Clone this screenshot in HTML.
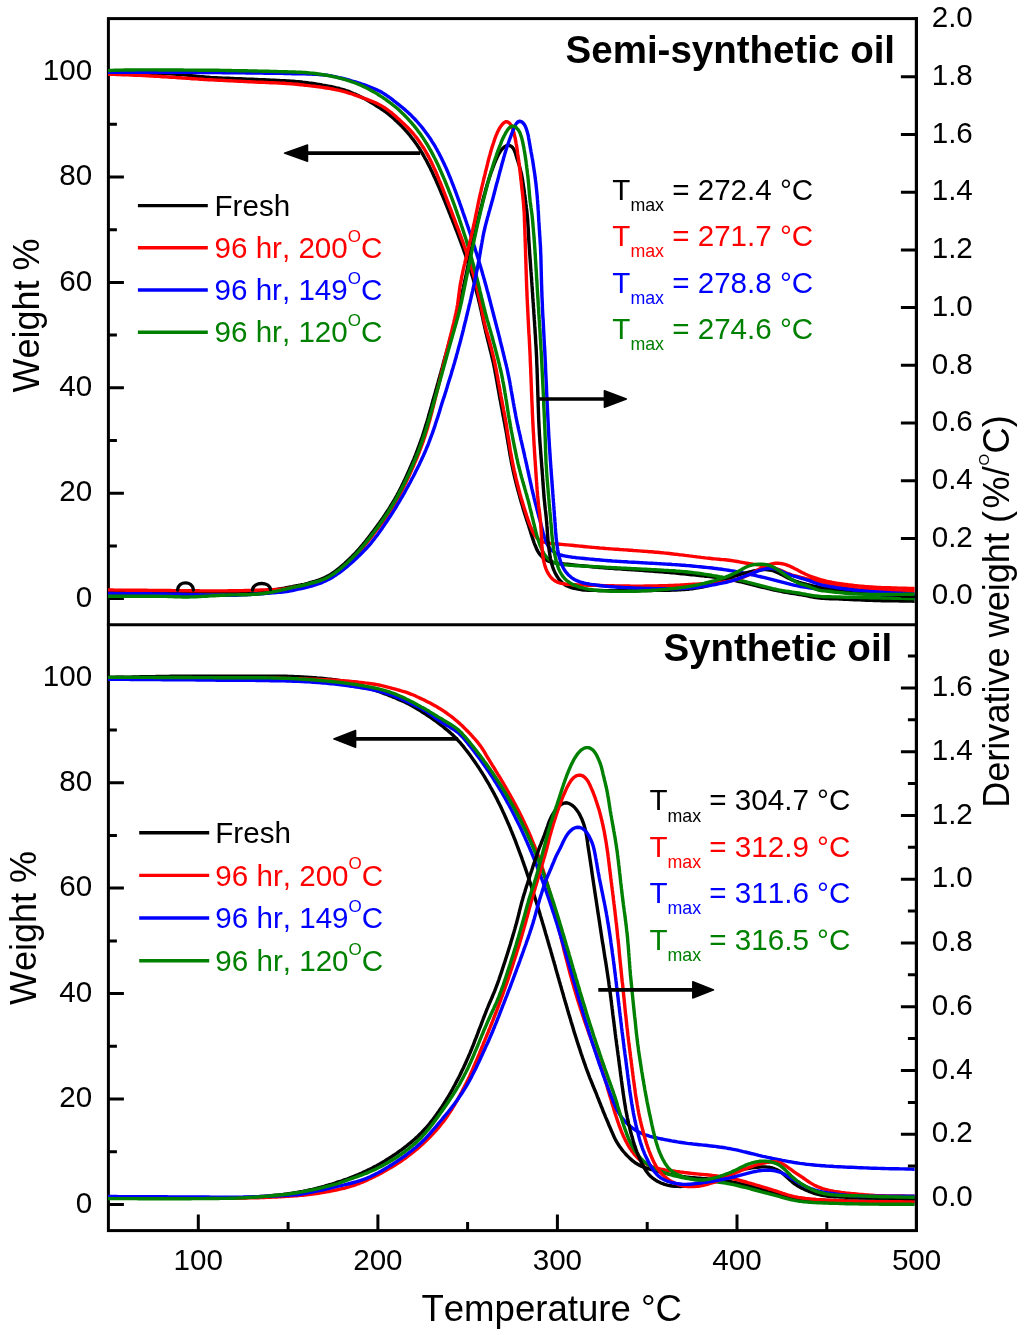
<!DOCTYPE html><html><head><meta charset="utf-8"><style>html,body{margin:0;padding:0;background:#fff;}svg{display:block;will-change:transform;}text{font-family:"Liberation Sans",sans-serif;font-kerning:none;font-feature-settings:"kern" 0;}</style></head><body>
<svg width="1024" height="1335" viewBox="0 0 1024 1335">
<rect width="1024" height="1335" fill="#fff"/>
<defs><clipPath id="ct"><rect x="108.0" y="18.6" width="806.6" height="606.1999999999999"/></clipPath><clipPath id="cb"><rect x="108.0" y="624.8" width="806.6" height="605.8"/></clipPath></defs>
<g fill="none" stroke="#000" stroke-width="3" stroke-linecap="square">
<rect x="108.4" y="18.6" width="808.0" height="1212.0"/>
<line x1="108.4" y1="624.8" x2="916.4" y2="624.8"/>
</g>
<path fill="none" stroke="#000" stroke-width="3" stroke-linecap="butt" d="M108.4,598.6H123.9M108.4,545.9H116.9M108.4,493.2H123.9M108.4,440.5H116.9M108.4,387.8H123.9M108.4,335.1H116.9M108.4,282.4H123.9M108.4,229.7H116.9M108.4,177H123.9M108.4,124.3H116.9M108.4,71.6H123.9M108.4,1204.4H123.9M108.4,1151.7H116.9M108.4,1099H123.9M108.4,1046.3H116.9M108.4,993.6H123.9M108.4,940.9H116.9M108.4,888.1H123.9M108.4,835.4H116.9M108.4,782.7H123.9M108.4,730H116.9M108.4,677.3H123.9M198.3,1230.6V1214.6M288.1,1230.6V1222.1M377.9,1230.6V1214.6M467.6,1230.6V1222.1M557.4,1230.6V1214.6M647.2,1230.6V1222.1M737,1230.6V1214.6M826.8,1230.6V1222.1"/>
<g clip-path="url(#ct)" fill="none" stroke-width="3.4" stroke-linejoin="round" stroke-linecap="round">
<path stroke="#000000" d="M108.5,73.5 110.5,73.5 112.5,73.5 114.5,73.5 116.5,73.5 118.5,73.5 120.5,73.5 122.5,73.5 124.5,73.5 126.5,73.5 128.5,73.5 130.5,73.5 132.5,73.5 134.5,73.5 136.5,73.5 138.5,73.5 140.5,73.5 142.5,73.5 144.5,73.5 146.5,73.5 148.5,73.5 150.5,73.5 152.5,73.5 154.5,73.6 156.5,73.6 158.5,73.6 160.5,73.6 162.5,73.7 164.5,73.7 166.5,73.8 168.5,73.8 170.5,73.9 172.5,74 174.5,74.1 176.5,74.2 178.5,74.3 180.5,74.4 182.5,74.6 184.5,74.8 186.5,75 188.5,75.2 190.5,75.4 192.5,75.7 194.5,75.9 196.4,76.2 198.4,76.4 200.4,76.6 202.4,76.8 204.4,77 206.4,77.2 208.4,77.3 210.4,77.5 212.4,77.6 214.4,77.7 216.4,77.8 218.4,77.9 220.4,78 222.9,78.1 224.9,78.2 226.9,78.3 228.9,78.3 230.9,78.4 232.9,78.5 234.9,78.6 236.9,78.7 238.9,78.7 240.9,78.8 242.9,78.9 244.9,79 246.9,79.1 248.9,79.2 250.9,79.2 252.9,79.3 254.9,79.4 256.9,79.5 258.9,79.6 260.9,79.7 262.9,79.8 264.9,79.8 266.9,79.9 268.9,80 270.9,80.1 272.9,80.2 274.9,80.3 276.9,80.4 278.9,80.5 280.9,80.6 282.9,80.7 284.9,80.8 286.9,80.9 288.9,81 290.9,81.2 292.9,81.3 294.9,81.5 296.8,81.7 298.8,81.8 300.8,82 302.8,82.3 304.8,82.5 306.8,82.7 308.8,83 310.8,83.2 312.8,83.5 314.7,83.8 316.7,84.1 318.7,84.4 320.7,84.7 322.6,85.1 324.6,85.4 326.6,85.8 328.5,86.2 330.5,86.5 332.5,86.9 334.4,87.3 336.4,87.8 338.3,88.2 340.3,88.8 342.2,89.3 344.1,89.9 346,90.6 347.9,91.2 349.7,91.9 351.6,92.7 353.4,93.5 355.3,94.2 357.1,95.1 358.9,95.9 360.7,96.8 362.5,97.7 364.3,98.6 366,99.5 367.8,100.5 369.5,101.5 371.2,102.6 372.9,103.6 374.6,104.6 376.3,105.7 378,106.8 379.7,107.9 381.4,109 383,110.1 384.7,111.2 386.3,112.4 387.9,113.6 389.5,114.9 391,116.2 392.5,117.5 394,118.8 395.4,120.2 396.9,121.6 398.3,122.9 399.8,124.3 401.2,125.7 402.6,127.2 404,128.6 405.3,130.1 406.7,131.6 408,133.1 409.3,134.6 410.5,136.2 411.7,137.8 413,139.3 414.2,141 415.3,142.6 416.5,144.2 417.6,145.9 418.7,147.5 419.8,149.2 420.8,150.9 421.9,152.6 422.9,154.4 424.1,156.5 425.1,158.3 426.1,160 427,161.8 427.9,163.6 428.9,165.4 429.8,167.1 430.6,168.9 431.5,170.7 432.4,172.5 433.2,174.4 434,176.2 434.9,178 435.7,179.8 436.5,181.7 437.3,183.5 438.1,185.3 438.9,187.2 439.7,189 440.5,190.9 441.2,192.7 442,194.5 442.8,196.4 443.5,198.2 444.3,200.1 445.1,201.9 445.8,203.8 446.6,205.7 447.3,207.5 448.1,209.4 448.8,211.2 449.5,213.1 450.3,214.9 451,216.8 451.8,218.7 452.5,220.5 453.2,222.4 454,224.2 454.7,226.1 455.4,228 456.1,229.8 456.9,231.7 457.6,233.6 458.3,235.5 459,237.3 459.7,239.2 460.4,241.1 461.1,242.9 461.8,244.8 462.5,246.7 463.2,248.6 463.8,250.5 464.5,252.4 465.2,254.2 465.8,256.1 466.5,258 467.1,259.9 467.8,261.8 468.4,263.7 469,265.6 469.7,267.5 470.3,269.4 470.9,271.3 471.4,273.2 472,275.2 472.6,277.1 473.2,279 473.7,280.9 474.3,282.9 474.8,284.8 475.3,286.7 475.8,288.6 476.3,290.6 476.8,292.5 477.3,294.5 477.8,296.4 478.3,298.3 478.7,300.3 479.2,302.2 479.7,304.2 480.1,306.1 480.5,308.1 481,310.1 481.4,312 481.8,314 482.2,315.9 482.7,317.9 483.1,319.8 483.5,321.8 483.9,323.7 484.4,325.7 484.8,327.7 485.3,329.6 485.7,331.5 486.2,333.5 486.7,335.4 487.1,337.4 487.6,339.3 488.1,341.3 488.6,343.2 489.1,345.2 489.5,347.1 490,349 490.5,351 491,352.9 491.5,354.9 491.9,356.8 492.4,358.8 492.8,360.7 493.3,362.7 493.7,364.6 494.1,366.6 494.5,368.5 494.9,370.5 495.3,373 495.7,374.9 496.1,376.9 496.4,378.9 496.8,380.8 497.1,382.8 497.5,384.8 497.8,386.8 498.2,388.7 498.5,390.7 498.9,392.7 499.2,394.6 499.6,396.6 499.9,398.6 500.3,400.5 500.7,402.5 501,404.5 501.4,406.4 501.8,408.4 502.2,410.4 502.5,412.3 502.9,414.3 503.3,416.3 503.7,418.2 504,420.2 504.4,422.2 504.8,424.1 505.1,426.1 505.5,428.1 505.9,430 506.2,432 506.6,434 506.9,436 507.2,437.9 507.6,439.9 507.9,441.9 508.2,443.9 508.6,445.8 508.9,447.8 509.2,449.8 509.6,451.8 509.9,453.7 510.2,455.7 510.6,457.7 511,459.6 511.3,461.6 511.7,463.6 512.1,465.5 512.5,467.5 512.9,469.5 513.3,471.4 513.8,473.4 514.2,475.3 514.7,477.3 515.1,479.2 515.6,481.1 516.1,483.1 516.6,485 517.1,487 517.6,488.9 518.1,490.8 518.7,492.8 519.2,494.7 519.7,496.6 520.2,498.6 520.8,500.5 521.3,502.4 521.9,504.3 522.5,506.2 523,508.2 523.6,510.1 524.2,512 524.8,513.9 525.4,515.8 526,517.7 526.6,519.6 527.2,521.5 527.9,523.4 528.5,525.3 529.1,527.2 529.7,529.2 530.3,531.1 530.9,533 531.5,534.9 532.1,536.8 532.7,538.7 533.4,540.6 534,542.5 534.7,544.3 535.5,546.2 536.2,548 537.1,549.9 538,551.6 539.1,553.3 540.3,554.9 541.6,556.3 543,557.7 544.6,558.9 546.2,560 548,560.9 549.8,561.7 551.7,562.2 553.6,562.7 555.6,563.1 557.6,563.3 559.6,563.6 561.6,563.7 563.6,563.9 565.6,564.1 567.5,564.3 569.5,564.5 571.5,564.7 573.5,564.9 575.5,565.1 578,565.4 580,565.6 582,565.8 584,566 586,566.2 588,566.4 589.9,566.6 591.9,566.8 593.9,567 595.9,567.1 597.9,567.3 599.9,567.5 601.9,567.6 603.9,567.8 605.9,568 607.9,568.1 609.9,568.3 611.9,568.4 613.9,568.5 615.9,568.7 617.9,568.8 619.9,568.9 621.9,569.1 623.9,569.2 625.9,569.3 627.9,569.5 629.9,569.6 631.9,569.7 633.9,569.9 635.8,570 637.8,570.1 639.8,570.3 641.8,570.4 643.8,570.5 645.8,570.7 647.8,570.8 649.8,571 651.8,571.1 653.8,571.3 655.8,571.5 657.8,571.6 659.8,571.8 661.8,571.9 663.8,572.1 665.8,572.3 667.8,572.4 669.8,572.6 671.8,572.8 673.8,572.9 675.8,573.1 677.7,573.3 679.7,573.5 681.7,573.7 683.7,573.9 685.7,574.1 687.7,574.3 689.7,574.5 691.7,574.7 693.7,574.9 695.7,575.1 697.7,575.3 699.7,575.5 701.6,575.7 703.6,575.9 705.6,576.2 707.6,576.4 709.6,576.6 711.6,576.8 713.6,577.1 715.6,577.3 717.5,577.6 719.5,577.9 721.5,578.2 723.5,578.4 725.5,578.8 727.4,579.1 729.4,579.4 731.4,579.8 733.3,580.2 735.3,580.6 737.3,581 739.2,581.5 741.2,581.9 743.1,582.4 745,582.9 747,583.4 748.9,583.9 750.9,584.4 752.8,584.9 754.7,585.4 756.7,585.8 758.6,586.3 760.6,586.8 762.5,587.3 764.5,587.7 766.4,588.2 768.3,588.7 770.3,589.1 772.2,589.6 774.2,590 776.2,590.4 778.1,590.8 780.1,591.2 782,591.6 784,592 786,592.3 788,592.6 789.9,593 791.9,593.3 793.9,593.6 795.9,593.9 797.8,594.3 799.8,594.6 801.8,594.9 804.2,595.3 806.2,595.7 808.2,596.1 810.1,596.5 812.1,596.9 814.1,597.3 816,597.6 818,597.9 820,598.1 822,598.3 824,598.4 826,598.5 828,598.6 830,598.7 832,598.7 834,598.8 836,598.9 838,598.9 840,599 842,599.1 844,599.2 846,599.3 848,599.4 850,599.5 852,599.6 854,599.7 856,599.7 858,599.8 860,599.9 862,600 864,600.1 866,600.2 868,600.3 870,600.3 872,600.4 874,600.5 876,600.5 878,600.6 880,600.6 882,600.7 884,600.7 886,600.8 888,600.8 890,600.8 892,600.9 894,600.9 896,600.9 898,600.9 900,601 902,601 904,601 906,601.1 908,601.1 910,601.1 912,601.1 914,601.2 916,601.2"/>
<path stroke="#ff0000" d="M108.5,74.2 110.5,74.3 112.5,74.4 114.5,74.4 116.5,74.5 118.5,74.6 120.5,74.6 122.5,74.7 124.5,74.8 126.5,74.9 128.5,74.9 130.5,75 132.5,75.1 134.5,75.2 136.5,75.3 138.5,75.3 140.5,75.4 142.5,75.5 144.5,75.6 146.5,75.7 148.5,75.8 150.5,76 152.5,76.1 154.5,76.2 156.5,76.3 158.5,76.4 160.5,76.5 162.5,76.7 164.5,76.8 166.5,76.9 168.5,77.1 170.5,77.2 172.5,77.3 174.5,77.4 176.4,77.6 178.4,77.7 180.4,77.8 182.4,78 184.4,78.1 186.4,78.2 188.4,78.4 190.4,78.5 192.4,78.7 194.4,78.8 196.4,78.9 198.4,79.1 200.4,79.2 202.4,79.3 204.4,79.5 206.4,79.6 208.4,79.7 210.4,79.8 212.4,79.9 214.4,80 216.4,80.1 218.4,80.2 220.4,80.3 222.4,80.4 224.4,80.5 226.4,80.6 228.4,80.7 230.4,80.8 232.4,80.9 234.4,81 236.4,81.1 238.4,81.2 240.4,81.3 242.4,81.4 244.4,81.5 246.4,81.6 248.4,81.7 250.4,81.8 252.4,81.9 254.4,82 256.4,82.1 258.4,82.2 260.4,82.3 262.4,82.3 264.4,82.4 266.4,82.5 268.4,82.6 270.4,82.7 272.4,82.8 274.4,82.8 276.4,82.9 278.4,83 280.4,83.1 282.3,83.2 284.3,83.3 286.3,83.5 288.3,83.6 290.3,83.7 292.3,83.9 294.3,84.1 296.3,84.3 298.8,84.5 300.8,84.7 302.8,84.9 304.8,85.2 306.8,85.4 308.7,85.6 310.7,85.9 312.7,86.1 314.7,86.3 316.7,86.6 318.7,86.8 320.7,87.1 322.6,87.4 324.6,87.7 326.6,88 328.6,88.3 330.5,88.6 332.5,89 334.5,89.4 336.4,89.8 338.4,90.2 340.3,90.7 342.3,91.1 344.2,91.7 346.1,92.2 348.1,92.8 350,93.4 351.9,94 353.8,94.6 355.7,95.3 357.5,95.9 359.4,96.6 361.3,97.3 363.2,98 365.1,98.6 367,99.3 368.8,100.1 370.7,100.8 372.6,101.5 374.4,102.3 376.2,103.1 378,104 379.8,104.9 381.5,105.9 383.2,106.9 384.9,108 386.6,109.1 388.2,110.3 389.8,111.5 391.3,112.7 392.9,114 394.4,115.3 395.9,116.6 397.4,118 398.9,119.3 400.4,120.7 401.8,122 403.3,123.4 404.8,124.7 406.2,126.1 407.6,127.5 409,129 410.4,130.4 411.7,131.9 413,133.4 414.3,135 415.6,136.5 416.8,138.1 418,139.7 419.2,141.3 420.3,143 421.4,144.6 422.5,146.3 423.6,148 424.6,149.7 425.7,151.4 426.6,153.2 427.6,154.9 428.6,156.7 429.5,158.5 430.4,160.2 431.3,162 432.1,163.8 433,165.6 433.8,167.5 434.7,169.3 435.5,171.1 436.3,172.9 437,174.8 437.8,176.6 438.6,178.5 439.3,180.3 440.1,182.2 440.8,184 441.6,185.9 442.3,187.8 443.1,189.6 443.8,191.5 444.5,193.4 445.2,195.2 446,197.1 446.7,199 447.4,200.8 448.1,202.7 448.8,204.6 449.5,206.4 450.3,208.3 451,210.2 451.7,212 452.4,213.9 453.1,215.8 453.8,217.6 454.5,219.5 455.2,221.4 455.9,223.3 456.6,225.1 457.3,227 458.1,228.9 458.8,230.8 459.4,232.6 460.1,234.5 460.8,236.4 461.5,238.3 462.2,240.1 462.9,242 463.6,243.9 464.2,245.8 464.9,247.7 465.5,249.6 466.2,251.5 466.8,253.4 467.5,255.3 468.1,257.2 468.7,259.1 469.3,261 470,262.9 470.5,264.8 471.1,266.7 471.7,268.6 472.3,270.5 472.8,272.5 473.4,274.4 473.9,276.3 474.4,278.2 475,280.2 475.5,282.1 476,284 476.5,286 476.9,287.9 477.4,289.9 477.9,291.8 478.3,293.8 478.7,295.7 479.2,297.7 479.6,299.6 480,301.6 480.4,303.5 480.9,305.5 481.3,307.5 481.7,309.4 482.1,311.4 482.5,313.3 482.9,315.3 483.3,317.3 483.7,319.2 484.1,321.2 484.6,323.1 485,325.1 485.5,327 486,329 486.5,330.9 487.1,332.8 487.6,334.7 488.2,336.7 488.7,338.6 489.3,340.5 489.8,342.4 490.3,344.4 490.8,346.3 491.4,348.2 491.8,350.2 492.3,352.1 492.8,354.1 493.3,356 493.7,357.9 494.2,359.9 494.6,361.9 495.1,364.3 495.5,366.3 495.9,368.2 496.3,370.2 496.7,372.2 497,374.1 497.4,376.1 497.8,378.1 498.1,380 498.5,382 498.8,384 499.2,385.9 499.5,387.9 499.9,389.9 500.2,391.8 500.6,393.8 500.9,395.8 501.3,397.8 501.7,399.7 502,401.7 502.4,403.7 502.8,405.6 503.2,407.6 503.5,409.5 503.9,411.5 504.3,413.5 504.7,415.4 505,417.4 505.4,419.4 505.7,421.4 506.1,423.3 506.4,425.3 506.7,427.3 507,429.3 507.3,431.2 507.6,433.2 507.9,435.2 508.2,437.2 508.6,439.1 508.9,441.1 509.2,443.1 509.5,445.1 509.8,447 510.1,449 510.4,451 510.8,453 511.1,454.9 511.5,456.9 511.8,458.9 512.2,460.8 512.6,462.8 513,464.8 513.4,466.7 513.8,468.7 514.2,470.6 514.7,472.6 515.1,474.5 515.6,476.5 516,478.4 516.5,480.4 517,482.3 517.5,484.3 518,486.2 518.5,488.1 519,490.1 519.5,492 520,493.9 520.6,495.9 521.1,497.8 521.7,499.7 522.2,501.6 522.8,503.6 523.4,505.5 524,507.4 524.6,509.3 525.2,511.2 525.8,513.1 526.4,515 527,516.9 527.7,518.8 528.3,520.7 529,522.6 529.7,524.5 530.4,526.3 531.2,528.2 532,530 532.8,531.8 533.7,533.6 534.8,535.3 536,536.8 537.3,538.3 538.7,539.6 540.4,540.7 542.1,541.5 544,542.2 545.9,542.7 547.8,543 549.8,543.3 551.8,543.5 553.8,543.7 555.8,543.9 557.8,544 559.8,544.2 561.8,544.4 563.8,544.6 565.7,544.8 567.7,544.9 569.7,545.1 571.7,545.3 573.7,545.5 575.7,545.7 577.7,545.9 579.7,546.1 581.7,546.3 583.7,546.5 585.7,546.7 587.7,546.9 589.7,547.1 591.6,547.3 593.6,547.4 595.6,547.6 597.6,547.8 599.6,548 601.6,548.1 603.6,548.3 605.6,548.5 607.6,548.6 609.6,548.8 611.6,548.9 613.6,549.1 615.6,549.2 617.6,549.3 619.6,549.5 621.6,549.6 623.6,549.8 625.6,549.9 627.6,550 629.5,550.2 631.5,550.3 633.5,550.5 635.5,550.6 637.5,550.8 639.5,550.9 641.5,551.1 643.5,551.2 645.5,551.4 647.5,551.5 649.5,551.7 651.5,551.8 653.5,552 655.5,552.2 657.5,552.3 659.5,552.5 661.5,552.7 663.5,552.9 665.4,553.1 667.4,553.3 669.4,553.5 671.4,553.7 673.4,554 675.4,554.2 677.4,554.4 679.4,554.7 681.4,554.9 683.3,555.1 685.3,555.4 687.3,555.6 689.3,555.9 691.3,556.1 693.3,556.4 695.3,556.6 697.2,556.9 699.2,557.1 701.2,557.4 703.2,557.6 705.2,557.9 707.2,558.1 709.2,558.3 711.1,558.5 713.1,558.8 715.1,558.9 717.1,559.1 719.1,559.3 721.1,559.5 723.1,559.6 725.1,559.8 727.1,560 729.1,560.2 731.1,560.5 733.5,560.9 735.5,561.2 737.5,561.5 739.4,561.9 741.4,562.3 743.4,562.6 745.4,563 747.3,563.3 749.3,563.6 751.3,563.9 753.3,564.2 755.2,564.4 757.2,564.7 759.2,564.9 761.2,565.2 763.2,565.5 765.1,565.9 767.1,566.3 769.1,566.7 771,567.2 772.9,567.7 774.9,568.2 776.8,568.8 778.6,569.5 780.5,570.2 782.3,571 784.2,571.9 786,572.7 787.8,573.5 789.7,574.2 791.5,574.9 793.4,575.5 795.4,576 797.3,576.5 799.2,577 801.2,577.5 803.1,577.9 805.1,578.4 807.1,578.8 809,579.2 811,579.6 812.9,580 814.9,580.4 816.8,580.8 818.8,581.3 820.7,581.7 822.7,582.2 824.6,582.7 826.6,583.2 828.5,583.6 830.5,584.1 832.4,584.5 834.4,585 836.3,585.4 838.3,585.8 840.2,586.2 842.2,586.6 844.2,587 846.1,587.4 848.1,587.7 850.1,588 852.1,588.2 854.1,588.5 856,588.7 858,588.9 860,589 862,589.2 864,589.3 866,589.5 868,589.6 870,589.7 872,589.8 874,589.9 876,590 878,590.2 880,590.3 882,590.3 884,590.4 886,590.5 888,590.6 890,590.7 892,590.7 894,590.8 896,590.9 898,590.9 900,591 902,591 904,591.1 906,591.2 908,591.2 910,591.3 912,591.4 914,591.4 916,591.5"/>
<path stroke="#0000ff" d="M108.5,72.3 110.5,72.3 112.5,72.3 114.5,72.3 116.5,72.3 118.5,72.3 120.5,72.3 122.5,72.3 124.5,72.3 126.5,72.3 128.5,72.3 130.5,72.3 132.5,72.3 134.5,72.3 136.5,72.3 138.5,72.3 140.5,72.3 142.5,72.3 144.5,72.3 146.5,72.3 148.5,72.3 150.5,72.4 152.5,72.4 154.5,72.4 156.5,72.4 158.5,72.4 160.5,72.4 162.5,72.4 164.5,72.4 166.5,72.4 168.5,72.4 170.5,72.4 172.5,72.4 174.5,72.4 176.5,72.4 178.5,72.4 180.5,72.4 182.5,72.4 184.5,72.4 186.5,72.4 188.5,72.4 190.5,72.4 192.5,72.4 194.5,72.4 196.5,72.5 198.6,72.5 200.6,72.5 202.6,72.5 204.6,72.5 206.6,72.5 208.6,72.5 210.6,72.5 212.6,72.6 214.6,72.6 216.6,72.6 218.6,72.6 220.6,72.6 222.6,72.7 224.6,72.7 226.6,72.7 228.6,72.7 230.6,72.7 232.6,72.8 234.6,72.8 236.6,72.8 238.6,72.8 240.6,72.9 242.6,72.9 244.6,72.9 246.6,73 248.6,73 250.6,73 252.6,73 254.6,73.1 256.6,73.1 258.6,73.1 260.6,73.1 262.6,73.1 264.6,73.2 266.6,73.2 268.6,73.2 270.6,73.2 272.6,73.3 274.6,73.3 276.6,73.3 278.6,73.4 280.6,73.4 282.6,73.4 284.6,73.5 286.6,73.5 288.6,73.6 290.6,73.6 292.6,73.7 294.6,73.7 296.6,73.7 298.6,73.8 301.1,73.8 303.1,73.9 305.1,73.9 307.1,74 309.1,74 311.1,74.1 313.1,74.2 315.1,74.3 317.1,74.4 319.1,74.5 321.1,74.7 323.1,74.8 325.1,75.1 327,75.3 329,75.6 331,75.9 333,76.3 334.9,76.7 336.9,77.1 338.8,77.6 340.8,78 342.7,78.5 344.7,79 346.6,79.5 348.5,80 350.5,80.5 352.4,81.1 354.3,81.6 356.2,82.2 358.1,82.8 360,83.4 361.9,84.1 363.8,84.7 365.7,85.4 367.6,86.1 369.5,86.8 371.3,87.5 373.2,88.3 375,89.1 376.9,89.9 378.7,90.7 380.4,91.6 382.2,92.6 383.9,93.6 385.6,94.7 387.2,95.8 388.9,97 390.5,98.2 392.1,99.4 393.6,100.6 395.2,101.8 396.8,103.1 398.4,104.3 399.9,105.6 401.5,106.8 403,108.1 404.6,109.4 406.1,110.7 407.6,112 409,113.4 410.5,114.7 411.9,116.2 413.3,117.6 414.7,119 416.1,120.5 417.4,122 418.7,123.5 420,125 421.3,126.5 422.6,128.1 423.8,129.7 425,131.3 426.2,132.9 427.4,134.5 428.5,136.1 429.7,137.8 430.8,139.4 431.8,141.1 432.9,142.8 434,144.5 435,146.2 436,148 437,149.7 437.9,151.5 438.9,153.2 439.8,155 440.7,156.8 441.6,158.6 442.5,160.4 443.4,162.2 444.2,164 445,165.8 445.9,167.6 446.7,169.5 447.5,171.3 448.3,173.1 449,175 449.8,176.8 450.6,178.7 451.3,180.5 452,182.4 452.8,184.3 453.5,186.1 454.2,188 454.9,189.9 455.6,191.7 456.3,193.6 457,195.5 457.7,197.4 458.4,199.3 459.1,201.1 459.7,203 460.4,204.9 461.1,206.8 461.7,208.7 462.4,210.6 463,212.5 463.7,214.4 464.3,216.2 465,218.1 465.6,220 466.3,221.9 466.9,223.8 467.6,225.7 468.2,227.6 468.8,229.5 469.5,231.4 470.1,233.3 470.7,235.2 471.3,237.1 472,239 472.6,240.9 473.2,242.8 473.8,244.7 474.4,246.6 475,248.5 475.6,250.5 476.2,252.4 476.8,254.3 477.4,256.2 478,258.1 478.6,260 479.1,261.9 479.7,263.8 480.3,265.8 480.9,267.7 481.4,269.6 482,271.5 482.5,273.4 483.1,275.4 483.6,277.3 484.2,279.2 484.7,281.2 485.2,283.1 485.8,285 486.3,286.9 486.8,288.9 487.3,290.8 487.9,292.7 488.4,294.7 488.9,296.6 489.4,298.5 489.9,300.5 490.4,302.4 490.9,304.4 491.4,306.3 491.9,308.2 492.4,310.2 492.9,312.1 493.4,314 493.9,316 494.4,317.9 494.9,319.9 495.4,321.8 495.9,323.7 496.4,325.7 496.9,327.6 497.4,329.5 497.9,331.5 498.4,333.4 498.9,335.4 499.4,337.3 499.9,339.2 500.3,341.2 500.8,343.1 501.3,345.1 501.8,347 502.3,349 502.7,350.9 503.2,352.8 503.8,355.3 504.3,357.2 504.7,359.2 505.2,361.1 505.7,363.1 506.2,365 506.6,366.9 507.1,368.9 507.5,370.8 507.9,372.8 508.3,374.8 508.7,376.7 509.1,378.7 509.5,380.7 509.9,382.6 510.2,384.6 510.6,386.6 510.9,388.5 511.2,390.5 511.6,392.5 511.9,394.4 512.3,396.4 512.6,398.4 513,400.4 513.3,402.3 513.7,404.3 514,406.3 514.4,408.2 514.7,410.2 515.1,412.2 515.5,414.1 515.8,416.1 516.2,418.1 516.6,420 517,422 517.4,423.9 517.9,425.9 518.3,427.9 518.7,429.8 519.2,431.8 519.6,433.7 520.1,435.7 520.5,437.6 520.9,439.6 521.4,441.5 521.8,443.5 522.3,445.4 522.7,447.4 523.2,449.3 523.6,451.3 524.1,453.2 524.5,455.2 524.9,457.1 525.4,459.1 525.8,461 526.2,463 526.7,464.9 527.1,466.9 527.5,468.9 528,470.8 528.4,472.8 528.8,474.7 529.2,476.7 529.7,478.6 530.1,480.6 530.5,482.5 531,484.5 531.4,486.4 531.8,488.4 532.3,490.3 532.7,492.3 533.2,494.2 533.7,496.2 534.1,498.1 534.6,500.1 535.1,502 535.6,504 536.1,505.9 536.6,507.8 537.1,509.8 537.6,511.7 538.1,513.6 538.6,515.6 539.1,517.5 539.7,519.4 540.2,521.4 540.7,523.3 541.2,525.3 541.7,527.2 542.2,529.1 542.7,531.1 543.2,533 543.8,534.9 544.3,536.8 545,538.7 545.6,540.6 546.3,542.5 547.2,544.3 548.1,546 549.2,547.7 550.5,549.2 551.9,550.5 553.5,551.7 555.1,552.8 556.9,553.7 558.7,554.4 560.6,555 562.5,555.5 564.5,555.9 566.5,556.3 568.4,556.6 570.4,556.9 572.4,557.2 574.4,557.4 576.4,557.7 578.4,557.9 580.3,558.1 582.3,558.3 584.3,558.5 586.3,558.7 588.3,558.9 590.3,559.1 592.3,559.3 594.3,559.5 596.3,559.7 598.3,559.8 600.3,560 602.3,560.2 604.3,560.4 606.2,560.5 608.2,560.7 610.2,560.8 612.2,561 614.2,561.1 616.2,561.2 618.2,561.4 620.2,561.5 622.2,561.6 624.2,561.7 626.2,561.8 628.2,562 630.2,562.1 632.2,562.2 634.2,562.3 636.2,562.4 638.2,562.5 640.2,562.6 642.2,562.7 644.2,562.9 646.2,563 648.2,563.1 650.2,563.2 652.2,563.3 654.2,563.4 656.2,563.5 658.2,563.6 660.2,563.7 662.2,563.9 664.2,564 666.2,564.1 668.2,564.2 670.2,564.3 672.2,564.5 674.2,564.6 676.2,564.7 678.2,564.9 680.1,565 682.1,565.2 684.1,565.3 686.1,565.5 688.1,565.6 690.1,565.8 692.1,566 694.1,566.2 696.1,566.4 698.1,566.6 700.1,566.8 702.1,567 704.1,567.2 706.1,567.4 708,567.6 710,567.8 712,568 714,568.3 716,568.5 718,568.8 720,569 721.9,569.3 723.9,569.6 725.9,569.9 728.4,570.3 730.4,570.6 732.3,570.9 734.3,571.2 736.3,571.6 738.2,572 740.2,572.3 742.2,572.7 744.1,573.1 746.1,573.5 748,573.9 750,574.3 752,574.8 753.9,575.2 755.9,575.6 757.8,576.1 759.8,576.5 761.7,577 763.7,577.4 765.6,577.9 767.5,578.4 769.5,578.9 771.4,579.4 773.4,579.9 775.3,580.4 777.2,580.9 779.2,581.4 781.1,581.9 783.1,582.4 785,582.9 786.9,583.4 788.9,583.9 790.8,584.4 792.8,584.8 794.7,585.3 796.7,585.7 798.6,586.1 800.6,586.5 802.6,586.8 804.5,587.1 806.5,587.4 808.5,587.7 810.5,588 812.5,588.3 814.4,588.5 816.4,588.8 818.4,589.1 820.4,589.3 822.4,589.6 824.4,589.8 826.3,590.1 828.3,590.3 830.3,590.5 832.3,590.7 834.3,591 836.3,591.2 838.3,591.4 840.3,591.6 842.3,591.8 844.3,592 846.3,592.1 848.2,592.3 850.2,592.5 852.2,592.7 854.2,592.9 856.2,593 858.2,593.2 860.2,593.3 862.2,593.5 864.2,593.6 866.2,593.8 868.2,593.9 870.2,594.1 872.2,594.3 874.2,594.4 876.2,594.6 878.2,594.8 880.2,595 882.1,595.2 884.1,595.4 886.1,595.5 888.1,595.7 890.1,595.9 892.1,596.1 894.1,596.3 896.1,596.5 898.1,596.7 900.1,596.9 902.1,597.1 904.1,597.3 906,597.5 908,597.7 910,597.9 912,598.1 914,598.3 916,598.5"/>
<path stroke="#008000" d="M108.5,70.6 110.5,70.5 112.5,70.4 114.5,70.3 116.5,70.2 118.5,70.2 120.5,70.1 122.5,70.1 124.5,70 126.5,70 128.5,70 130.5,70 132.5,70 134.5,70 136.5,69.9 138.5,69.9 140.5,69.9 142.5,69.9 144.5,69.9 146.5,69.9 148.5,69.9 150.5,69.9 152.5,69.9 154.5,69.9 156.5,69.9 158.5,70 160.5,70 162.5,70 164.5,70 166.5,70 168.5,70 170.5,70 172.5,70 174.5,70 176.5,70 178.5,70 180.5,70 182.5,70 184.5,70.1 186.5,70.1 188.5,70.1 190.5,70.1 192.5,70.1 194.5,70.1 196.5,70.1 198.5,70.2 200.5,70.2 202.5,70.2 204.5,70.2 206.5,70.2 208.5,70.2 210.5,70.3 212.5,70.3 214.5,70.3 216.5,70.3 218.5,70.3 220.5,70.4 222.5,70.4 224.6,70.4 226.6,70.5 228.6,70.5 230.6,70.5 232.6,70.6 234.6,70.6 236.6,70.6 238.6,70.7 240.6,70.7 242.6,70.8 244.6,70.8 246.6,70.8 248.6,70.9 250.6,70.9 252.6,71 254.6,71 256.6,71 258.6,71.1 260.6,71.1 262.6,71.2 264.6,71.2 266.6,71.3 268.6,71.3 270.6,71.4 272.6,71.4 274.6,71.5 276.6,71.5 278.6,71.6 280.6,71.6 282.6,71.7 284.6,71.7 286.6,71.8 288.6,71.9 290.6,71.9 292.6,72 294.6,72 296.6,72.1 298.6,72.2 301.1,72.3 303.1,72.4 305.1,72.5 307.1,72.7 309.1,72.9 311,73.1 313,73.3 315,73.5 317,73.8 319,74.1 321,74.3 322.9,74.7 324.9,75 326.9,75.3 328.8,75.7 330.8,76.1 332.8,76.5 334.7,76.9 336.7,77.4 338.6,77.9 340.6,78.4 342.5,78.9 344.4,79.4 346.3,80 348.2,80.6 350.1,81.2 352,81.9 353.9,82.5 355.8,83.2 357.7,84 359.5,84.7 361.3,85.5 363.2,86.4 365,87.2 366.7,88.1 368.5,89 370.3,90 372,90.9 373.8,91.9 375.5,92.9 377.2,93.9 378.9,95 380.6,96.1 382.3,97.1 384,98.3 385.6,99.4 387.2,100.6 388.9,101.8 390.4,103 392,104.2 393.6,105.5 395.1,106.7 396.7,108 398.2,109.3 399.7,110.6 401.1,112 402.6,113.4 404,114.8 405.4,116.2 406.8,117.6 408.2,119.1 409.5,120.6 410.9,122.1 412.2,123.6 413.5,125.1 414.7,126.7 416,128.2 417.2,129.8 418.4,131.4 419.6,133 420.8,134.6 421.9,136.3 423,137.9 424.1,139.6 425.2,141.3 426.2,143 427.3,144.7 428.3,146.4 429.3,148.2 430.3,149.9 431.3,151.7 432.2,153.4 433.2,155.2 434.1,157 435,158.7 435.9,160.5 436.7,162.3 437.6,164.1 438.5,165.9 439.3,167.8 440.1,169.6 440.9,171.4 441.7,173.2 442.5,175.1 443.3,176.9 444.1,178.8 444.9,180.6 445.6,182.5 446.4,184.3 447.1,186.2 447.9,188 448.6,189.9 449.3,191.8 450.1,193.6 450.8,195.5 451.5,197.4 452.2,199.2 452.9,201.1 453.6,203 454.3,204.9 455,206.8 455.6,208.6 456.3,210.5 457,212.4 457.6,214.3 458.3,216.2 459,218.1 459.6,220 460.3,221.9 460.9,223.8 461.5,225.6 462.2,227.5 462.8,229.4 463.4,231.3 464,233.3 464.6,235.2 465.3,237.1 465.9,239 466.5,240.9 467,242.8 467.6,244.7 468.2,246.6 468.8,248.5 469.4,250.5 469.9,252.4 470.5,254.3 471,256.2 471.6,258.2 472.1,260.1 472.6,262 473.2,263.9 473.7,265.9 474.2,267.8 474.7,269.7 475.2,271.7 475.7,273.6 476.2,275.5 476.7,277.5 477.2,279.4 477.7,281.4 478.2,283.3 478.6,285.3 479.1,287.2 479.6,289.2 480,291.1 480.5,293 481,295 481.4,296.9 481.9,298.9 482.4,300.8 482.8,302.8 483.3,304.7 483.8,306.7 484.3,308.6 484.8,310.5 485.2,312.5 485.8,314.4 486.3,316.4 486.8,318.3 487.3,320.2 487.9,322.1 488.5,324 489,326 489.6,327.9 490.1,329.8 490.7,331.7 491.2,333.7 491.8,335.6 492.3,337.5 492.8,339.5 493.3,341.4 493.8,343.3 494.4,345.3 494.9,347.2 495.4,349.1 495.9,351.1 496.4,353 496.9,354.9 497.4,356.9 497.9,358.8 498.4,360.8 499,363.2 499.5,365.1 499.9,367.1 500.4,369 500.8,371 501.3,372.9 501.7,374.9 502.1,376.8 502.5,378.8 502.8,380.8 503.2,382.7 503.6,384.7 503.9,386.7 504.3,388.6 504.6,390.6 504.9,392.6 505.3,394.6 505.6,396.5 505.9,398.5 506.3,400.5 506.6,402.5 506.9,404.4 507.2,406.4 507.5,408.4 507.8,410.4 508.1,412.3 508.4,414.3 508.8,416.3 509.1,418.3 509.5,420.2 509.8,422.2 510.2,424.2 510.5,426.1 510.9,428.1 511.2,430.1 511.6,432 512,434 512.4,436 512.7,437.9 513.1,439.9 513.5,441.9 513.9,443.8 514.3,445.8 514.7,447.8 515.1,449.7 515.5,451.7 515.9,453.6 516.3,455.6 516.7,457.6 517.2,459.5 517.6,461.5 518,463.4 518.5,465.4 519,467.3 519.5,469.2 520,471.2 520.5,473.1 521,475 521.5,477 522.1,478.9 522.6,480.8 523.2,482.8 523.7,484.7 524.3,486.6 524.8,488.5 525.4,490.4 525.9,492.4 526.5,494.3 527,496.2 527.5,498.2 528.1,500.1 528.6,502 529.1,504 529.6,505.9 530,507.8 530.5,509.8 531,511.7 531.5,513.7 531.9,515.6 532.4,517.6 532.9,519.5 533.3,521.5 533.8,523.4 534.3,525.3 534.7,527.3 535.2,529.2 535.7,531.2 536.2,533.1 536.7,535 537.3,537 537.9,538.9 538.5,540.8 539.1,542.7 539.8,544.6 540.5,546.4 541.3,548.3 542.1,550.1 543,551.9 544,553.6 545.1,555.2 546.3,556.8 547.7,558.3 549.1,559.6 550.7,560.7 552.5,561.7 554.3,562.5 556.1,563.1 558.1,563.6 560,564.1 562,564.4 564,564.7 565.9,564.9 567.9,565.1 569.9,565.3 571.9,565.4 573.9,565.6 575.9,565.7 577.9,565.8 579.9,565.9 581.9,566 583.9,566.1 585.9,566.2 587.9,566.3 589.9,566.4 591.9,566.4 593.9,566.6 595.9,566.7 597.9,566.8 599.9,566.9 601.9,567 603.9,567.1 605.9,567.3 607.9,567.4 609.9,567.5 611.9,567.6 613.9,567.7 615.9,567.8 617.9,567.9 619.9,568 621.9,568.1 623.9,568.2 625.9,568.3 627.9,568.4 629.9,568.5 631.9,568.6 633.9,568.7 635.9,568.8 637.9,568.9 639.9,569 641.9,569.1 643.9,569.2 645.9,569.3 647.9,569.4 649.9,569.5 651.8,569.6 653.8,569.7 655.8,569.8 657.8,569.9 659.8,570 661.8,570.1 663.8,570.3 665.8,570.4 667.8,570.5 669.8,570.6 671.8,570.7 673.8,570.8 675.8,571 677.8,571.1 679.8,571.3 681.8,571.4 683.8,571.6 685.8,571.8 687.8,572 689.8,572.2 691.8,572.4 693.7,572.7 695.7,572.9 697.7,573.2 699.7,573.5 701.7,573.8 703.7,574.1 705.6,574.4 707.6,574.7 709.6,575 711.6,575.3 713.5,575.7 715.5,576 717.5,576.3 719.5,576.7 721.4,577 723.4,577.4 725.4,577.7 727.8,578.1 729.8,578.5 731.8,578.8 733.7,579.2 735.7,579.5 737.7,579.9 739.6,580.3 741.6,580.7 743.5,581.2 745.5,581.7 747.4,582.2 749.4,582.6 751.3,583.1 753.2,583.6 755.2,584.1 757.1,584.6 759.1,585.1 761,585.6 762.9,586.1 764.9,586.6 766.8,587.1 768.7,587.6 770.7,588.1 772.6,588.6 774.6,589 776.5,589.5 778.5,589.9 780.5,590.3 782.4,590.6 784.4,590.9 786.4,591.3 788.4,591.5 790.3,591.8 792.3,592.1 794.3,592.4 796.3,592.7 798.2,593 800.2,593.3 802.2,593.7 804.2,594 806.1,594.4 808.1,594.8 810.1,595.1 812,595.5 814,595.8 816,596 818,596.2 820,596.4 822,596.6 824,596.7 826,596.7 828,596.8 830,596.8 832,596.9 834,596.9 836,596.9 838,597 840,597 842,597.1 844,597.1 846,597.2 848,597.2 850,597.2 852,597.3 854,597.3 856,597.4 858,597.4 860,597.5 862,597.5 864,597.6 866,597.6 868,597.6 870,597.7 872,597.7 874,597.8 876,597.8 878,597.9 880,597.9 882,598 884,598 886,598 888,598.1 890,598.1 892,598.2 894,598.2 896,598.3 898,598.3 900,598.4 902,598.4 904,598.4 906,598.5 908,598.5 910,598.6 912,598.6 914,598.7 916,598.7"/>
</g>
<g clip-path="url(#cb)" fill="none" stroke-width="3.4" stroke-linejoin="round" stroke-linecap="round">
<path stroke="#000000" d="M108.5,677.5 110.5,677.5 112.5,677.4 114.5,677.4 116.5,677.3 118.5,677.3 120.5,677.3 122.5,677.2 124.5,677.2 126.5,677.1 128.5,677.1 130.5,677.1 132.5,677 134.5,677 136.5,676.9 138.5,676.9 140.5,676.8 142.5,676.8 144.5,676.8 146.5,676.7 148.5,676.7 150.5,676.7 152.5,676.6 154.5,676.6 156.5,676.5 158.5,676.5 160.5,676.5 162.5,676.5 164.5,676.4 166.5,676.4 168.5,676.4 170.5,676.3 172.5,676.3 174.5,676.3 176.5,676.3 178.5,676.3 180.5,676.3 182.5,676.2 184.5,676.2 186.5,676.2 188.5,676.2 190.5,676.2 192.5,676.2 194.5,676.2 196.5,676.2 198.5,676.2 200.5,676.2 202.5,676.2 204.5,676.2 206.5,676.2 208.5,676.2 210.5,676.2 212.5,676.2 214.5,676.2 216.5,676.2 218.5,676.2 220.6,676.2 222.6,676.2 224.6,676.2 226.6,676.2 228.6,676.2 230.6,676.2 232.6,676.2 234.6,676.3 236.6,676.3 238.6,676.3 240.6,676.3 242.6,676.3 244.6,676.3 246.6,676.3 248.6,676.3 250.6,676.3 252.6,676.3 254.6,676.3 256.6,676.3 258.6,676.3 260.6,676.3 262.6,676.3 264.6,676.2 266.6,676.2 268.6,676.2 270.6,676.2 272.6,676.2 274.6,676.2 276.6,676.2 278.6,676.2 280.6,676.2 282.6,676.3 284.6,676.3 286.6,676.3 288.6,676.4 290.6,676.4 292.6,676.5 295.1,676.6 297.1,676.7 299.1,676.8 301.1,676.9 303.1,677 305.1,677.1 307.1,677.2 309.1,677.4 311.1,677.5 313.1,677.7 315.1,677.8 317.1,678 319,678.1 321,678.3 323,678.5 325,678.7 327,678.9 329,679.1 331,679.3 333,679.6 335,679.8 336.9,680.1 338.9,680.4 340.9,680.7 342.9,681 344.8,681.4 346.8,681.7 348.8,682.1 350.7,682.6 352.7,683.1 354.6,683.6 356.5,684.1 358.4,684.7 360.3,685.3 362.3,685.9 364.2,686.5 366,687.2 367.9,687.8 369.8,688.4 371.7,689.1 373.6,689.7 375.5,690.4 377.4,691.1 379.3,691.7 381.2,692.4 383,693.1 384.9,693.8 386.8,694.5 388.6,695.3 390.5,696 392.4,696.8 394.2,697.5 396.1,698.3 397.9,699.1 399.7,699.9 401.6,700.7 403.4,701.5 405.2,702.3 407,703.2 408.8,704.1 410.6,705.1 412.3,706 414.1,707 415.8,708 417.5,709 419.2,710.1 420.9,711.1 422.6,712.2 424.3,713.3 426,714.4 427.6,715.5 429.3,716.6 430.9,717.7 432.6,718.9 434.2,720 435.9,721.2 437.5,722.4 439.1,723.6 440.7,724.8 442.2,726 443.8,727.3 445.3,728.6 446.9,729.8 448.4,731.1 449.9,732.4 451.4,733.8 452.9,735.1 454.3,736.5 455.8,737.9 457.2,739.3 458.5,740.8 459.9,742.3 461.1,743.8 462.4,745.3 463.7,746.9 464.9,748.5 466.1,750 467.4,751.6 468.6,753.2 469.8,754.8 471,756.4 472.1,758.1 473.3,759.7 474.4,761.3 475.6,763 476.7,764.6 477.8,766.3 478.9,767.9 480,769.6 481.1,771.3 482.2,773 483.2,774.7 484.3,776.4 485.3,778.1 486.3,779.8 487.4,781.6 488.4,783.3 489.4,785 490.3,786.8 491.3,788.5 492.3,790.3 493.2,792 494.2,793.8 495.1,795.6 496,797.3 496.9,799.1 497.8,800.9 498.7,802.7 499.6,804.5 500.5,806.3 501.3,808.1 502.2,809.9 503,811.7 503.9,813.5 504.7,815.4 505.5,817.2 506.3,819 507.1,820.9 507.9,822.7 508.7,824.5 509.5,826.4 510.3,828.2 511,830.1 511.8,831.9 512.5,833.8 513.3,835.6 514,837.5 514.8,839.4 515.5,841.2 516.2,843.1 516.9,845 517.6,846.8 518.3,848.7 519,850.6 519.7,852.5 520.4,854.3 521.1,856.2 521.8,858.1 522.4,860 523.1,861.9 523.8,863.8 524.4,865.7 525.1,867.5 525.7,869.4 526.4,871.3 527,873.2 527.6,875.1 528.3,877 528.9,878.9 529.5,880.8 530.1,882.7 530.8,884.6 531.4,886.5 532,888.4 532.6,890.3 533.2,892.2 533.8,894.2 534.4,896.1 535,898 535.6,899.9 536.2,901.8 536.8,903.7 537.4,905.6 538,907.5 538.6,909.4 539.3,911.8 539.9,913.8 540.4,915.7 541,917.6 541.6,919.5 542.2,921.4 542.7,923.3 543.3,925.3 543.9,927.2 544.4,929.1 545,931 545.5,932.9 546.1,934.9 546.7,936.8 547.2,938.7 547.8,940.6 548.3,942.6 548.9,944.5 549.4,946.4 550,948.3 550.6,950.2 551.1,952.2 551.7,954.1 552.2,956 552.8,957.9 553.3,959.9 553.9,961.8 554.4,963.7 555,965.6 555.5,967.6 556,969.5 556.6,971.4 557.1,973.3 557.7,975.3 558.2,977.2 558.8,979.1 559.3,981 559.9,983 560.4,984.9 561,986.8 561.5,988.7 562.1,990.7 562.6,992.6 563.2,994.5 563.7,996.4 564.3,998.4 564.8,1000.3 565.4,1002.2 565.9,1004.1 566.5,1006 567.1,1008 567.6,1009.9 568.2,1011.8 568.7,1013.7 569.3,1015.6 569.9,1017.6 570.5,1019.5 571,1021.4 571.6,1023.3 572.2,1025.2 572.8,1027.1 573.3,1029.1 573.9,1031 574.5,1032.9 575.1,1034.8 575.7,1036.7 576.3,1038.6 576.9,1040.5 577.5,1042.4 578.1,1044.3 578.7,1046.2 579.4,1048.1 580,1050 580.6,1051.9 581.2,1053.8 581.9,1055.7 582.5,1057.6 583.2,1059.5 583.8,1061.4 584.5,1063.3 585.2,1065.2 585.8,1067.1 586.5,1069 587.2,1070.8 587.9,1072.7 588.6,1074.6 589.3,1076.5 590,1078.3 590.8,1080.2 591.5,1082 592.3,1083.9 593,1085.8 593.8,1087.6 594.5,1089.5 595.3,1091.3 596.1,1093.2 596.8,1095 597.5,1096.9 598.3,1098.7 599,1100.6 599.7,1102.5 600.5,1104.3 601.2,1106.2 602,1108 602.7,1109.9 603.4,1111.8 604.2,1113.6 605,1115.5 605.7,1117.3 606.5,1119.2 607.3,1121 608.1,1122.8 608.8,1124.7 609.6,1126.5 610.4,1128.4 611.2,1130.2 612,1132.1 612.8,1133.9 613.6,1135.7 614.4,1137.5 615.3,1139.3 616.3,1141.1 617.3,1142.8 618.3,1144.5 619.4,1146.2 620.6,1147.8 621.8,1149.4 623,1151 624.3,1152.5 625.6,1154 627,1155.5 628.4,1156.9 629.8,1158.3 631.3,1159.6 632.8,1160.9 634.4,1162.1 636,1163.3 637.7,1164.3 639.4,1165.3 641.2,1166.2 643.1,1166.9 645,1167.6 646.9,1168.2 648.8,1168.8 650.7,1169.3 652.6,1169.9 654.6,1170.4 656.5,1170.9 658.4,1171.5 660.4,1172 662.3,1172.5 664.2,1173 666.2,1173.4 668.1,1173.9 670.1,1174.3 672,1174.7 674,1175.1 676,1175.5 677.9,1175.8 679.9,1176.1 681.9,1176.5 683.9,1176.7 685.9,1177 687.8,1177.2 689.8,1177.4 691.8,1177.6 693.8,1177.8 695.8,1178 697.8,1178.2 699.8,1178.3 701.8,1178.5 703.8,1178.7 705.8,1178.8 707.8,1179 709.8,1179.2 711.8,1179.3 713.8,1179.5 715.8,1179.7 717.7,1179.9 719.7,1180.1 721.7,1180.3 723.7,1180.6 725.7,1180.9 727.7,1181.2 729.6,1181.5 731.6,1181.8 734.1,1182.3 736,1182.7 738,1183.1 739.9,1183.6 741.9,1184 743.8,1184.5 745.8,1185 747.7,1185.4 749.7,1185.9 751.6,1186.4 753.5,1186.9 755.5,1187.5 757.4,1188 759.3,1188.6 761.2,1189.1 763.1,1189.7 765.1,1190.2 767,1190.8 768.9,1191.4 770.8,1191.9 772.8,1192.4 774.7,1193 776.6,1193.5 778.6,1194 780.5,1194.6 782.4,1195.1 784.3,1195.6 786.3,1196.1 788.2,1196.6 790.2,1197.1 792.1,1197.5 794.1,1197.9 796,1198.3 798,1198.6 800,1198.8 802,1199.1 804,1199.3 806,1199.5 808,1199.6 810,1199.8 812,1199.9 814,1200 816,1200 818,1200.1 820,1200.2 822,1200.3 824,1200.3 826,1200.4 828,1200.4 830,1200.5 832,1200.6 834,1200.6 836,1200.7 838,1200.7 840,1200.7 842,1200.8 844,1200.8 846,1200.8 848,1200.9 850,1200.9 852,1200.9 854,1200.9 856,1200.9 858,1200.9 860,1200.9 862,1200.9 864,1200.9 866,1201 868,1201 870,1201 872,1201 874,1201 876,1201 878,1201 880,1201 882,1201 884,1201 886,1201 888,1201 890,1201 892,1201 894,1201 896,1201 898,1201 900,1201 902,1201 904,1201 906,1201 908,1201 910,1201 912,1201 914,1201 916,1201"/>
<path stroke="#ff0000" d="M108.5,677.6 110.5,677.6 112.5,677.6 114.5,677.6 116.5,677.6 118.5,677.6 120.5,677.6 122.5,677.6 124.5,677.6 126.5,677.6 128.5,677.6 130.5,677.6 132.5,677.6 134.5,677.6 136.5,677.6 138.5,677.6 140.5,677.6 142.5,677.6 144.5,677.7 146.5,677.7 148.5,677.7 150.5,677.7 152.5,677.7 154.5,677.7 156.5,677.7 158.5,677.7 160.5,677.7 162.5,677.7 164.5,677.7 166.5,677.7 168.5,677.7 170.5,677.7 172.5,677.7 174.5,677.7 176.5,677.7 178.5,677.7 180.5,677.7 182.5,677.7 184.5,677.7 186.5,677.7 188.5,677.7 190.5,677.8 192.5,677.8 194.5,677.8 196.5,677.8 198.6,677.8 200.6,677.8 202.6,677.8 204.6,677.8 206.6,677.8 208.6,677.8 210.6,677.8 212.6,677.9 214.6,677.9 216.6,677.9 218.6,677.9 220.6,677.9 222.6,677.9 224.6,677.9 226.6,677.9 228.6,677.9 230.6,677.9 232.6,677.9 234.6,677.9 236.6,677.9 238.6,678 240.6,678 242.6,678 244.6,678 246.6,678 249.1,678 251.1,678 253.1,678 255.1,678 257.1,678.1 259.1,678.1 261.1,678.1 263.1,678.1 265.1,678.1 267.1,678.2 269.1,678.2 271.1,678.2 273.1,678.2 275.1,678.3 277.1,678.3 279.1,678.3 281.1,678.4 283.1,678.4 285.1,678.4 287.1,678.5 289.1,678.5 291.1,678.6 293.1,678.6 295.1,678.7 297.1,678.7 299.1,678.8 301.1,678.8 303.1,678.9 305.1,679 307.1,679 309.1,679.1 311.1,679.1 313.1,679.2 315.1,679.3 317.1,679.3 319.1,679.4 321.1,679.5 323.1,679.6 325.1,679.7 327.1,679.8 329.1,679.9 331.1,680 333.1,680.1 335.1,680.2 337.1,680.3 339.1,680.4 341.1,680.6 343.1,680.7 345.1,680.9 347.1,681 349.1,681.2 351.1,681.4 353,681.6 355,681.7 357,681.9 359,682.2 361,682.4 363,682.6 365,682.9 367,683.1 369,683.4 370.9,683.7 372.9,684 374.9,684.3 376.9,684.6 378.8,685 380.8,685.4 382.7,685.8 384.7,686.3 386.6,686.8 388.5,687.3 390.5,687.8 392.4,688.4 394.3,688.9 396.3,689.4 398.2,690 400.1,690.5 402,691.1 404,691.6 405.9,692.2 407.8,692.9 409.6,693.6 411.5,694.3 413.4,695 415.2,695.8 417,696.7 418.8,697.5 420.6,698.4 422.4,699.2 424.2,700.1 426,701 427.8,701.9 429.6,702.8 431.4,703.8 433.1,704.7 434.9,705.7 436.6,706.6 438.3,707.7 440.1,708.7 441.7,709.8 443.4,710.9 445.1,712 446.7,713.1 448.3,714.3 449.9,715.5 451.5,716.7 453.1,717.9 454.7,719.2 456.2,720.5 457.7,721.8 459.2,723.1 460.7,724.5 462.2,725.8 463.6,727.2 465,728.6 466.4,730 467.9,731.5 469.2,732.9 470.6,734.3 472,735.8 473.3,737.3 474.7,738.8 476,740.3 477.3,741.8 478.5,743.4 479.7,745 480.9,746.6 482,748.2 483.1,749.9 484.2,751.6 485.2,753.3 486.2,755.1 487.2,756.8 488.2,758.5 489.3,760.2 490.3,761.9 491.4,763.6 492.4,765.3 493.5,767 494.5,768.7 495.8,770.9 496.9,772.6 497.9,774.3 499,776 500,777.7 501,779.4 502,781.1 503.1,782.9 504.1,784.6 505.1,786.3 506.1,788 507.1,789.8 508.1,791.5 509.1,793.3 510.1,795 511,796.7 512,798.5 513,800.3 513.9,802 514.9,803.8 515.8,805.5 516.7,807.3 517.7,809.1 518.6,810.9 519.5,812.6 520.4,814.4 521.3,816.2 522.2,818 523,819.8 523.9,821.6 524.7,823.4 525.6,825.2 526.4,827.1 527.3,828.9 528.1,830.7 528.9,832.5 529.7,834.4 530.5,836.2 531.3,838.1 532,839.9 532.8,841.8 533.5,843.6 534.3,845.5 535,847.3 535.7,849.2 536.5,851.1 537.2,852.9 537.9,854.8 538.5,856.7 539.2,858.6 539.9,860.5 540.5,862.4 541.2,864.3 541.8,866.1 542.4,868 543.1,869.9 543.7,871.9 544.3,873.8 544.9,875.7 545.5,877.6 546,879.5 546.6,881.4 547.2,883.3 547.7,885.3 548.3,887.2 548.8,889.1 549.4,891 549.9,893 550.4,894.9 550.9,896.8 551.5,898.8 552,900.7 552.5,902.6 553,904.6 553.5,906.5 554,908.5 554.4,910.4 554.9,912.3 555.4,914.3 555.9,916.2 556.4,918.2 556.8,920.1 557.3,922.1 557.8,924 558.2,926 558.7,927.9 559.2,929.8 559.6,931.8 560.1,933.7 560.6,935.7 561,937.6 561.5,939.6 562,941.5 562.4,943.5 562.9,945.4 563.4,947.4 563.8,949.3 564.3,951.2 564.8,953.2 565.3,955.1 565.8,957.1 566.3,959 566.8,960.9 567.3,962.9 567.8,964.8 568.3,966.8 568.8,968.7 569.3,970.6 569.8,972.6 570.3,974.5 570.9,976.4 571.4,978.3 571.9,980.3 572.5,982.2 573,984.1 573.6,986.1 574.1,988 574.7,989.9 575.3,991.8 575.8,993.7 576.4,995.6 577,997.6 577.6,999.5 578.2,1001.4 578.8,1003.3 579.4,1005.2 580,1007.1 580.6,1009 581.3,1010.9 581.9,1012.8 582.5,1014.7 583.2,1016.6 583.8,1018.5 584.4,1020.4 585.1,1022.3 585.7,1024.2 586.4,1026.1 587.1,1028 587.7,1029.8 588.4,1031.7 589.2,1034.1 589.9,1036 590.6,1037.9 591.3,1039.7 591.9,1041.6 592.6,1043.5 593.3,1045.4 594,1047.3 594.7,1049.1 595.3,1051 596,1052.9 596.7,1054.8 597.4,1056.7 598,1058.6 598.7,1060.4 599.4,1062.3 600,1064.2 600.7,1066.1 601.3,1068 602,1069.9 602.6,1071.8 603.2,1073.7 603.9,1075.6 604.5,1077.5 605.1,1079.4 605.6,1081.3 606.2,1083.3 606.8,1085.2 607.3,1087.1 607.8,1089 608.4,1091 609,1092.9 609.5,1094.8 610.1,1096.7 610.7,1098.6 611.3,1100.5 611.8,1102.5 612.4,1104.4 613,1106.3 613.6,1108.2 614.1,1110.1 614.7,1112 615.3,1113.9 615.9,1115.8 616.6,1117.8 617.2,1119.7 617.8,1121.6 618.5,1123.4 619.1,1125.3 619.8,1127.2 620.5,1129.1 621.2,1130.9 622,1132.8 622.8,1134.6 623.6,1136.5 624.5,1138.3 625.3,1140.1 626.3,1141.8 627.2,1143.6 628.2,1145.3 629.2,1147.1 630.3,1148.7 631.4,1150.4 632.6,1152 633.8,1153.6 635.1,1155.2 636.4,1156.6 637.8,1158 639.3,1159.4 640.8,1160.6 642.5,1161.8 644.1,1162.8 645.9,1163.8 647.7,1164.7 649.5,1165.5 651.3,1166.3 653.2,1167 655.1,1167.6 657,1168.2 658.9,1168.7 660.9,1169.2 662.9,1169.5 664.8,1169.9 666.8,1170.2 668.8,1170.5 670.8,1170.8 672.7,1171 674.7,1171.3 676.7,1171.6 678.7,1171.8 680.7,1172.1 682.7,1172.3 684.6,1172.6 686.6,1172.8 688.6,1173 690.6,1173.3 692.6,1173.5 694.6,1173.7 696.6,1173.9 698.6,1174.1 700.6,1174.3 702.6,1174.4 704.6,1174.6 706.5,1174.8 708.5,1175 710.5,1175.2 712.5,1175.5 714.5,1175.7 716.5,1175.9 718.5,1176.2 720.5,1176.4 722.4,1176.7 724.4,1177 726.4,1177.4 728.4,1177.7 730.3,1178.1 732.3,1178.5 734.2,1179 736.2,1179.4 738.1,1179.9 740,1180.4 742,1181 743.9,1181.5 745.8,1182 747.8,1182.6 749.7,1183.1 751.6,1183.7 753.5,1184.2 755.5,1184.8 757.4,1185.3 759.3,1185.9 761.2,1186.5 763.1,1187.1 765,1187.7 766.9,1188.2 768.9,1188.8 770.8,1189.4 772.7,1190 774.6,1190.6 776.5,1191.2 778.9,1192 780.8,1192.6 782.7,1193.3 784.6,1193.9 786.5,1194.5 788.4,1195.1 790.3,1195.6 792.3,1196.1 794.2,1196.6 796.2,1197 798.1,1197.4 800.1,1197.7 802.1,1198 804,1198.3 806,1198.6 808,1198.8 810,1199 812,1199.2 814,1199.3 816,1199.5 818,1199.6 820,1199.7 822,1199.9 824,1200 826,1200.1 828,1200.2 830,1200.3 832,1200.4 834,1200.5 836,1200.5 838,1200.6 840,1200.7 842,1200.8 844,1200.9 846,1201 848,1201.1 850,1201.1 852,1201.2 854,1201.3 856,1201.3 858,1201.4 860,1201.4 862,1201.5 864,1201.5 866,1201.5 868,1201.6 870,1201.6 872,1201.6 874,1201.6 876,1201.7 878,1201.7 880,1201.7 882,1201.7 884,1201.7 886,1201.7 888,1201.7 890,1201.8 892,1201.8 894,1201.8 896,1201.8 898,1201.8 900,1201.8 902,1201.8 904,1201.9 906,1201.9 908,1201.9 910,1201.9 912,1201.9 914,1202 916,1202"/>
<path stroke="#0000ff" d="M108.5,679.3 110.5,679.3 112.5,679.3 114.5,679.3 116.5,679.4 118.5,679.4 120.5,679.4 122.5,679.4 124.5,679.4 126.5,679.4 128.5,679.4 130.5,679.5 132.5,679.5 134.5,679.5 136.5,679.5 138.5,679.5 140.5,679.5 142.5,679.5 144.5,679.5 146.5,679.5 148.5,679.6 150.5,679.6 152.5,679.6 154.5,679.6 156.5,679.6 158.5,679.6 160.5,679.6 162.5,679.7 164.5,679.7 166.5,679.7 168.5,679.7 170.5,679.7 172.5,679.7 174.5,679.7 176.5,679.8 178.5,679.8 180.5,679.8 182.5,679.8 184.5,679.8 186.6,679.9 188.6,679.9 190.6,679.9 192.6,679.9 194.6,679.9 196.6,680 198.6,680 200.6,680 202.6,680 204.6,680 206.6,680.1 208.6,680.1 210.6,680.1 212.6,680.1 214.6,680.1 216.6,680.2 218.6,680.2 220.6,680.2 222.6,680.2 224.6,680.2 226.6,680.2 228.6,680.2 230.6,680.3 232.6,680.3 234.6,680.3 236.6,680.3 238.6,680.3 240.6,680.3 242.6,680.3 244.6,680.4 246.6,680.4 248.6,680.4 250.6,680.4 252.6,680.4 254.6,680.4 256.6,680.5 258.6,680.5 260.6,680.5 262.6,680.5 264.6,680.6 266.6,680.6 268.6,680.6 270.6,680.7 272.6,680.7 274.6,680.7 276.6,680.8 278.6,680.8 280.6,680.8 282.6,680.9 284.6,680.9 286.6,681 288.6,681 291.1,681.1 293.1,681.2 295.1,681.3 297.1,681.3 299.1,681.4 301.1,681.5 303.1,681.6 305.1,681.7 307.1,681.8 309.1,681.9 311.1,682.1 313.1,682.2 315.1,682.3 317.1,682.5 319.1,682.6 321.1,682.8 323.1,683 325.1,683.1 327.1,683.3 329.1,683.5 331,683.7 333,683.9 335,684.1 337,684.4 339,684.6 341,684.8 343,685.1 345,685.4 346.9,685.6 348.9,685.9 350.9,686.2 352.9,686.4 354.9,686.7 356.8,687 358.8,687.3 360.8,687.7 362.8,688 364.7,688.3 366.7,688.7 368.7,689.1 370.6,689.4 372.6,689.8 374.6,690.3 376.5,690.7 378.5,691.2 380.4,691.6 382.3,692.1 384.3,692.7 386.2,693.3 388.1,693.9 390,694.5 391.9,695.2 393.8,695.9 395.6,696.6 397.5,697.3 399.3,698.1 401.1,698.9 403,699.8 404.8,700.6 406.6,701.5 408.4,702.3 410.2,703.2 412,704 413.8,704.9 415.6,705.7 417.4,706.6 419.2,707.5 421,708.4 422.7,709.4 424.5,710.4 426.2,711.4 427.9,712.5 429.5,713.6 431.2,714.8 432.8,716 434.4,717.1 436,718.3 437.6,719.5 439.3,720.6 440.9,721.7 442.6,722.8 444.3,723.9 446,724.9 447.8,725.9 449.5,726.9 451.2,728 452.9,729 454.6,730.1 456.2,731.3 457.8,732.5 459.3,733.8 460.7,735.2 462.1,736.6 463.5,738.1 464.8,739.6 466,741.2 467.3,742.7 468.5,744.3 469.8,745.8 471,747.4 472.3,749 473.5,750.6 474.7,752.2 475.9,753.8 477.1,755.4 478.3,757 479.5,758.6 480.7,760.2 481.8,761.8 483,763.5 484.1,765.1 485.3,766.7 486.4,768.4 487.6,770 488.7,771.7 489.8,773.4 490.9,775 492,776.7 493.1,778.4 494.2,780.1 495.2,781.8 496.3,783.4 497.3,785.1 498.4,786.9 499.4,788.6 500.5,790.3 501.5,792 502.5,793.7 503.5,795.5 504.5,797.2 505.5,798.9 506.5,800.7 507.4,802.4 508.4,804.2 509.4,805.9 510.3,807.7 511.3,809.5 512.2,811.2 513.1,813 514,814.8 514.9,816.6 515.8,818.4 516.7,820.1 517.6,821.9 518.5,823.7 519.4,825.5 520.3,827.3 521.1,829.1 522,831 522.8,832.8 523.6,834.6 524.5,836.4 525.3,838.2 526.1,840.1 526.9,841.9 527.7,843.7 528.5,845.6 529.3,847.4 530.1,849.2 530.9,851.1 531.7,852.9 532.4,854.8 533.2,856.6 533.9,858.5 534.7,860.3 535.4,862.2 536.2,864.1 536.9,865.9 537.6,867.8 538.3,869.7 539,871.5 539.7,873.4 540.4,875.3 541.1,877.2 541.8,879 542.5,880.9 543.2,882.8 543.9,884.7 544.5,886.6 545.2,888.4 546,890.8 546.7,892.7 547.3,894.6 548,896.5 548.6,898.4 549.3,900.3 549.9,902.2 550.5,904.1 551.2,906 551.8,907.9 552.4,909.8 553,911.7 553.7,913.6 554.3,915.5 554.9,917.4 555.5,919.3 556.1,921.2 556.7,923.1 557.3,925 557.9,926.9 558.5,928.9 559,930.8 559.6,932.7 560.2,934.6 560.8,936.5 561.4,938.4 561.9,940.3 562.5,942.3 563.1,944.2 563.7,946.1 564.2,948 564.8,949.9 565.4,951.9 565.9,953.8 566.5,955.7 567.1,957.6 567.6,959.5 568.2,961.5 568.7,963.4 569.3,965.3 569.9,967.2 570.4,969.1 571,971.1 571.5,973 572.1,974.9 572.6,976.8 573.2,978.8 573.8,980.7 574.3,982.6 574.9,984.5 575.4,986.5 576,988.4 576.5,990.3 577.1,992.2 577.7,994.1 578.2,996.1 578.8,998 579.3,999.9 579.9,1001.8 580.5,1003.7 581,1005.7 581.6,1007.6 582.2,1009.5 582.7,1011.4 583.3,1013.3 583.9,1015.3 584.4,1017.2 585,1019.1 585.6,1021 586.2,1022.9 586.8,1024.8 587.4,1026.7 587.9,1028.7 588.5,1030.6 589.1,1032.5 589.7,1034.4 590.3,1036.3 590.9,1038.2 591.5,1040.1 592.1,1042 592.7,1043.9 593.4,1045.8 594,1047.7 594.6,1049.6 595.2,1051.5 595.9,1053.4 596.5,1055.3 597.1,1057.2 597.8,1059.1 598.4,1061 599,1062.9 599.7,1064.8 600.4,1066.7 601,1068.6 601.7,1070.5 602.4,1072.4 603,1074.3 603.7,1076.1 604.4,1078 605.1,1079.9 605.8,1081.8 606.5,1083.7 607.2,1085.5 607.9,1087.4 608.6,1089.3 609.3,1091.1 610,1093 610.7,1094.9 611.5,1096.7 612.2,1098.6 612.9,1100.5 613.6,1102.3 614.4,1104.2 615.2,1106 616,1107.8 616.9,1109.6 617.9,1111.4 618.9,1113.1 619.9,1114.8 621.1,1116.5 622.2,1118.1 623.5,1119.6 624.8,1121.1 626.2,1122.6 627.6,1124 629.1,1125.3 630.6,1126.6 632.2,1127.9 633.8,1129 635.4,1130.1 637.1,1131.2 638.9,1132.1 640.7,1133 642.5,1133.8 644.4,1134.5 646.3,1135.1 648.2,1135.7 650.1,1136.3 652,1136.8 654,1137.3 655.9,1137.7 657.9,1138.2 659.8,1138.6 661.8,1139 663.8,1139.4 665.7,1139.8 667.7,1140.1 669.7,1140.5 671.6,1140.9 673.6,1141.2 675.6,1141.5 677.6,1141.9 679.5,1142.2 681.5,1142.5 683.5,1142.8 685.5,1143.1 687.4,1143.4 689.4,1143.6 691.4,1143.8 693.4,1144.1 695.4,1144.3 697.4,1144.5 699.4,1144.7 701.4,1144.9 703.4,1145.1 705.4,1145.3 707.3,1145.5 709.3,1145.8 711.3,1146 713.3,1146.2 715.3,1146.4 717.3,1146.7 719.3,1147 721.2,1147.2 723.2,1147.5 725.2,1147.8 727.2,1148.2 729.1,1148.5 731.1,1148.9 733.1,1149.3 735,1149.7 737.5,1150.2 739.4,1150.7 741.4,1151.1 743.3,1151.6 745.3,1152 747.2,1152.5 749.2,1153 751.1,1153.5 753.1,1153.9 755,1154.4 756.9,1154.9 758.9,1155.4 760.8,1155.8 762.8,1156.3 764.7,1156.7 766.7,1157.2 768.6,1157.6 770.6,1158 772.5,1158.5 774.5,1158.8 776.5,1159.2 778.4,1159.6 780.4,1160 782.4,1160.4 784.3,1160.7 786.3,1161.1 788.3,1161.5 790.2,1161.8 792.2,1162.1 794.2,1162.5 796.2,1162.8 798.1,1163.1 800.1,1163.4 802.1,1163.6 804.1,1163.9 806.1,1164.2 808.1,1164.4 810.1,1164.6 812,1164.8 814,1165 816,1165.2 818,1165.4 820,1165.5 822,1165.7 824,1165.8 826,1166 828,1166.1 830,1166.2 832,1166.3 834,1166.5 836,1166.6 838,1166.7 840,1166.8 842,1166.9 844,1167 846,1167.1 848,1167.2 850,1167.3 852,1167.3 854,1167.4 856,1167.5 858,1167.6 860,1167.7 862,1167.8 864,1167.9 866,1167.9 868,1168 870,1168.1 872,1168.2 874,1168.2 876,1168.3 878,1168.4 880,1168.4 882,1168.5 884,1168.5 886,1168.6 888,1168.6 890,1168.7 892,1168.7 894,1168.8 896,1168.8 898,1168.8 900,1168.9 902,1168.9 904,1168.9 906,1169 908,1169 910,1169.1 912,1169.1 914,1169.2 916,1169.2"/>
<path stroke="#008000" d="M108.5,677.4 110.5,677.4 112.5,677.4 114.5,677.4 116.5,677.4 118.5,677.4 120.5,677.4 122.5,677.4 124.5,677.4 126.5,677.4 128.5,677.4 130.5,677.4 132.5,677.4 134.5,677.4 136.5,677.4 138.5,677.4 140.5,677.4 142.5,677.4 144.5,677.4 146.5,677.4 148.5,677.4 150.5,677.4 152.5,677.4 154.5,677.5 156.5,677.5 158.5,677.5 160.5,677.5 162.5,677.5 164.5,677.5 166.5,677.5 168.5,677.5 170.6,677.5 172.6,677.5 174.6,677.5 176.6,677.5 178.6,677.5 180.6,677.5 182.6,677.5 184.6,677.5 186.6,677.5 188.6,677.5 190.6,677.5 192.6,677.6 194.6,677.6 196.6,677.6 198.6,677.6 200.6,677.6 203.1,677.6 205.1,677.6 207.1,677.6 209.1,677.6 211.1,677.6 213.1,677.6 215.1,677.7 217.1,677.7 219.1,677.7 221.1,677.7 223.1,677.7 225.1,677.7 227.1,677.7 229.1,677.7 231.1,677.7 233.1,677.7 235.1,677.7 237.1,677.7 239.1,677.7 241.1,677.7 243.1,677.7 245.1,677.7 247.1,677.7 249.1,677.7 251.1,677.7 253.1,677.7 255.1,677.7 257.1,677.7 259.1,677.8 261.1,677.8 263.1,677.8 265.1,677.8 267.1,677.9 269.1,677.9 271.1,677.9 273.1,678 275.1,678 277.1,678.1 279.1,678.1 281.1,678.2 283.1,678.2 285.1,678.3 287.1,678.4 289.1,678.5 291.1,678.5 293.1,678.6 295.1,678.7 297.1,678.8 299.1,679 301.1,679.1 303.1,679.2 305.1,679.3 307.1,679.5 309.1,679.6 311.1,679.7 313.1,679.9 315.1,680 317.1,680.2 319.1,680.4 321.1,680.5 323.1,680.7 325.1,680.9 327.1,681.1 329.1,681.3 331.1,681.5 333.1,681.7 335,681.9 337,682.1 339,682.3 341,682.6 343,682.8 345,683.1 347,683.3 348.9,683.6 350.9,683.9 352.9,684.1 354.9,684.4 356.9,684.7 358.8,685.1 360.8,685.4 362.8,685.7 364.8,686.1 366.7,686.4 368.7,686.8 370.7,687.2 372.6,687.6 374.6,688 376.5,688.4 378.5,688.9 380.4,689.4 382.4,689.9 384.3,690.4 386.7,691.1 388.6,691.7 390.5,692.3 392.4,693 394.3,693.7 396.1,694.4 398,695.2 399.8,696 401.6,696.8 403.5,697.6 405.3,698.5 407.1,699.4 408.9,700.3 410.6,701.2 412.4,702.1 414.2,703 416,704 417.7,704.9 419.5,705.9 421.2,706.9 423,707.8 424.7,708.8 426.4,709.8 428.2,710.8 429.9,711.9 431.6,712.9 433.3,713.9 435,715 436.7,716 438.4,717.1 440.1,718.1 441.9,719.1 443.6,720.2 445.3,721.2 447,722.2 448.7,723.2 450.4,724.3 452.1,725.4 453.8,726.5 455.4,727.6 457,728.8 458.5,730.1 460,731.5 461.5,732.8 462.8,734.3 464.2,735.8 465.5,737.3 466.8,738.8 468,740.4 469.3,741.9 470.6,743.5 471.8,745 473.1,746.6 474.3,748.1 475.6,749.7 476.8,751.3 478,752.9 479.3,754.5 480.5,756.1 481.7,757.7 482.9,759.3 484,760.9 485.2,762.5 486.4,764.1 487.6,765.7 488.7,767.4 489.9,769 491,770.6 492.2,772.3 493.3,773.9 494.4,775.6 495.5,777.3 496.6,778.9 497.7,780.6 498.8,782.3 499.9,784 501,785.7 502,787.4 503.1,789.1 504.1,790.8 505.2,792.5 506.2,794.2 507.2,795.9 508.2,797.7 509.2,799.4 510.2,801.1 511.2,802.9 512.2,804.6 513.2,806.4 514.1,808.1 515.1,809.9 516,811.6 517,813.4 518.1,815.6 519,817.4 520,819.2 520.9,821 521.8,822.8 522.6,824.6 523.5,826.4 524.4,828.2 525.3,830 526.1,831.8 527,833.6 527.8,835.4 528.6,837.2 529.4,839 530.3,840.9 531.1,842.7 531.9,844.5 532.7,846.4 533.4,848.2 534.2,850.1 535,851.9 535.8,853.8 536.5,855.6 537.3,857.5 538,859.3 538.7,861.2 539.5,863.1 540.2,864.9 540.9,866.8 541.6,868.7 542.3,870.5 543,872.4 543.7,874.3 544.4,876.2 545.1,878.1 545.8,879.9 546.4,881.8 547.1,883.7 547.8,885.6 548.4,887.5 549.1,889.4 549.7,891.3 550.3,893.2 551,895.1 551.6,897 552.2,898.9 552.9,900.8 553.5,902.7 554.1,904.6 554.7,906.5 555.3,908.4 555.9,910.3 556.5,912.2 557.1,914.1 557.7,916 558.3,918 558.9,919.9 559.5,921.8 560,923.7 560.6,925.6 561.2,927.5 561.8,929.4 562.3,931.4 562.9,933.3 563.5,935.2 564.1,937.1 564.6,939 565.2,941 565.8,942.9 566.3,944.8 566.9,946.7 567.4,948.6 568,950.6 568.6,952.5 569.1,954.4 569.7,956.3 570.2,958.3 570.8,960.2 571.4,962.1 571.9,964 572.5,965.9 573,967.9 573.6,969.8 574.1,971.7 574.7,973.6 575.3,975.6 575.8,977.5 576.4,979.4 577,981.3 577.5,983.2 578.1,985.2 578.7,987.1 579.4,989.5 579.9,991.4 580.5,993.3 581.1,995.2 581.7,997.1 582.2,999.1 582.8,1001 583.4,1002.9 584,1004.8 584.6,1006.7 585.2,1008.6 585.7,1010.6 586.3,1012.5 586.9,1014.4 587.5,1016.3 588.1,1018.2 588.7,1020.1 589.3,1022 589.9,1023.9 590.5,1025.8 591.1,1027.7 591.8,1029.6 592.4,1031.5 593,1033.5 593.6,1035.4 594.2,1037.3 594.9,1039.2 595.5,1041.1 596.1,1043 596.7,1044.9 597.4,1046.8 598,1048.7 598.7,1050.6 599.3,1052.4 599.9,1054.3 600.6,1056.2 601.2,1058.1 601.9,1060 602.5,1061.9 603.2,1063.8 603.9,1065.7 604.5,1067.6 605.2,1069.5 605.9,1071.4 606.5,1073.2 607.2,1075.1 607.9,1077 608.5,1078.9 609.2,1080.8 609.9,1082.7 610.6,1084.6 611.3,1086.4 611.9,1088.3 612.6,1090.2 613.3,1092.1 613.9,1094 614.6,1095.9 615.2,1097.8 615.8,1099.7 616.4,1101.6 617,1103.5 617.5,1105.4 618.1,1107.4 618.7,1109.3 619.3,1111.2 619.9,1113.1 620.4,1115 621,1116.9 621.6,1118.8 622.2,1120.7 622.8,1122.7 623.4,1124.6 624.1,1126.5 624.7,1128.4 625.4,1130.2 626.1,1132.1 626.7,1134 627.5,1135.9 628.2,1137.7 629,1139.6 629.8,1141.4 630.7,1143.2 631.6,1145 632.5,1146.7 633.6,1148.5 634.6,1150.2 635.7,1151.8 636.9,1153.5 638.1,1155.1 639.3,1156.6 640.6,1158.1 642,1159.6 643.4,1160.9 645.3,1162.6 646.9,1163.8 648.5,1165 650.2,1166.1 651.9,1167.1 653.6,1168.1 655.4,1169 657.2,1169.8 659.1,1170.6 660.9,1171.4 662.8,1172.1 664.6,1172.8 666.5,1173.5 668.4,1174.1 670.3,1174.7 672.3,1175.2 674.2,1175.8 676.1,1176.2 678.1,1176.7 680.1,1177.1 682,1177.5 684,1177.9 685.9,1178.3 687.9,1178.6 689.9,1178.9 691.9,1179.3 693.8,1179.6 695.8,1179.8 697.8,1180.1 699.8,1180.3 701.8,1180.5 703.8,1180.6 705.8,1180.8 707.8,1181 709.8,1181.2 711.8,1181.4 713.8,1181.6 715.7,1181.8 717.7,1182 719.7,1182.2 721.7,1182.5 723.7,1182.8 725.7,1183.1 727.6,1183.5 729.6,1183.9 731.6,1184.2 733.5,1184.7 735.5,1185.1 737.4,1185.5 739.4,1186 741.3,1186.5 743.3,1187 745.2,1187.4 747.1,1187.9 749.1,1188.4 751,1189 752.9,1189.5 754.9,1190 756.8,1190.5 758.7,1191 760.7,1191.6 762.6,1192.1 764.5,1192.6 766.5,1193.1 768.4,1193.6 770.3,1194.1 772.3,1194.6 774.2,1195.1 776.2,1195.7 778.1,1196.2 780,1196.7 781.9,1197.3 783.9,1197.8 785.8,1198.3 787.7,1198.9 789.7,1199.3 791.6,1199.8 793.6,1200.2 795.5,1200.6 797.5,1200.9 799.5,1201.2 801.5,1201.4 803.5,1201.7 805.5,1201.9 807.5,1202 809.4,1202.2 811.4,1202.3 813.4,1202.5 815.4,1202.6 817.4,1202.7 819.4,1202.8 821.4,1202.9 823.9,1203 825.9,1203 827.9,1203.1 829.9,1203.2 831.9,1203.2 833.9,1203.3 835.9,1203.4 837.9,1203.4 839.9,1203.5 841.9,1203.6 843.9,1203.6 845.9,1203.7 847.9,1203.7 849.9,1203.8 851.9,1203.8 854,1203.9 856,1203.9 858,1203.9 860,1204 862,1204 864,1204 866,1204 868,1204.1 870,1204.1 872,1204.1 874,1204.1 876,1204.1 878,1204.1 880,1204.2 882,1204.2 884,1204.2 886,1204.2 888,1204.2 890,1204.2 892,1204.2 894,1204.2 896,1204.2 898,1204.3 900,1204.3 902,1204.3 904,1204.3 906,1204.3 908,1204.3 910,1204.3 912,1204.4 914,1204.4 916,1204.4"/>
</g>
<line x1="916.4" y1="18.6" x2="916.4" y2="1230.6" stroke="#000" stroke-width="3" stroke-linecap="square"/>
<path fill="none" stroke="#000" stroke-width="3" stroke-linecap="butt" d="M916.4,596.2H900.9M916.4,538.5H900.9M916.4,480.8H900.9M916.4,423H900.9M916.4,365.3H900.9M916.4,307.6H900.9M916.4,249.9H900.9M916.4,192.2H900.9M916.4,134.4H900.9M916.4,76.7H900.9M916.4,1198H900.9M916.4,1166.1H907.9M916.4,1134.2H900.9M916.4,1102.4H907.9M916.4,1070.5H900.9M916.4,1038.6H907.9M916.4,1006.7H900.9M916.4,974.8H907.9M916.4,943H900.9M916.4,911.1H907.9M916.4,879.2H900.9M916.4,847.3H907.9M916.4,815.4H900.9M916.4,783.6H907.9M916.4,751.7H900.9M916.4,719.8H907.9M916.4,687.9H900.9M916.4,656H907.9"/>
<g clip-path="url(#ct)" fill="none" stroke-width="3.4" stroke-linejoin="round" stroke-linecap="round">
<path stroke="#000000" d="M108.5,592.5 110.5,592.5 112.5,592.5 114.5,592.5 116.5,592.5 118.5,592.5 120.5,592.5 122.5,592.5 124.5,592.5 126.5,592.5 128.5,592.5 130.5,592.5 132.5,592.5 134.5,592.5 136.5,592.5 138.5,592.5 140.5,592.5 142.5,592.5 144.5,592.5 146.5,592.5 148.5,592.5 150.5,592.5 152.5,592.5 154.5,592.5 156.5,592.5 158.5,592.4 160.5,592.4 162.5,592.4 164.5,592.4 166.5,592.4 168.5,592.3 170.5,592.3 172.5,592.3 174.5,592.3 176.5,592.3 178.5,592.2 180.5,592.2 182.5,592.2 184.5,592.2 186.5,592.1 188.5,592.1 190.6,592.1 192.6,592.1 194.6,592.1 196.6,592 198.6,592 200.6,592 202.6,592 204.6,592 206.6,592 208.6,592 210.6,592 212.6,592 214.6,592 216.6,592.1 218.6,592.1 220.6,592.1 222.6,592.1 224.6,592.1 226.6,592.2 228.6,592.2 230.6,592.2 232.6,592.2 234.6,592.2 236.6,592.2 238.6,592.2 240.6,592.2 242.6,592.2 244.6,592.2 246.6,592.1 248.6,592.1 250.6,592 252.6,592 254.6,591.9 256.6,591.8 258.6,591.7 260.6,591.5 262.6,591.3 264.6,591.1 266.5,590.9 268.5,590.7 270.5,590.4 272.5,590.1 274.5,589.8 276.5,589.5 278.4,589.1 280.4,588.8 282.4,588.4 284.3,588.1 286.3,587.7 288.3,587.3 290.2,586.9 292.2,586.6 294.2,586.2 296.1,585.8 298.1,585.5 300.1,585.1 302,584.7 304,584.3 305.9,583.8 307.8,583.3 309.8,582.7 311.7,582.2 313.6,581.6 315.5,581.1 317.5,580.5 319.3,579.8 321.2,579.1 323.1,578.3 324.9,577.5 326.7,576.6 328.4,575.7 330.2,574.7 331.8,573.6 333.5,572.5 335.1,571.3 336.7,570.1 338.3,568.9 339.9,567.6 341.4,566.3 342.9,565 344.4,563.7 345.9,562.3 347.3,561 348.8,559.6 350.2,558.2 352,556.5 353.4,555 354.8,553.6 356.2,552.1 357.5,550.6 358.9,549.2 360.2,547.6 361.5,546.1 362.8,544.6 364,543 365.3,541.5 366.5,539.9 367.8,538.4 369,536.8 370.2,535.2 371.4,533.6 372.6,532 373.8,530.4 375,528.8 376.2,527.2 377.4,525.6 378.6,523.9 379.8,522.3 380.9,520.7 382.1,519.1 383.2,517.4 384.3,515.8 385.4,514.1 386.5,512.4 387.6,510.7 388.7,509.1 389.8,507.4 390.8,505.7 391.9,504 392.9,502.2 393.9,500.5 394.9,498.8 395.9,497 396.9,495.3 397.8,493.5 398.8,491.8 399.7,490 400.6,488.2 401.5,486.4 402.4,484.6 403.3,482.8 404.1,481 405,479.2 405.8,477.4 406.7,475.6 407.5,473.8 408.3,471.9 409.1,470.1 409.9,468.3 410.7,466.4 411.5,464.6 412.3,462.8 413.1,460.9 413.9,459.1 414.6,457.2 415.4,455.4 416.1,453.5 416.8,451.6 417.5,449.8 418.2,447.9 418.9,446 419.6,444.1 420.3,442.2 421,440.4 421.6,438.5 422.3,436.6 422.9,434.7 423.5,432.8 424.1,430.9 424.7,429 425.3,427.1 425.9,425.1 426.5,423.2 427.1,421.3 427.6,419.4 428.2,417.5 428.7,415.5 429.3,413.6 429.8,411.7 430.4,409.8 430.9,407.8 431.5,405.9 432,404 432.5,402.1 433.1,400.1 433.6,398.2 434.2,396.3 434.7,394.3 435.3,392.4 435.8,390.5 436.4,388.6 436.9,386.6 437.4,384.7 438,382.8 438.5,380.9 439,378.9 439.6,377 440.1,375.1 440.7,373.2 441.2,371.2 441.7,369.3 442.3,367.4 442.8,365.4 443.3,363.5 443.8,361.6 444.4,359.6 444.9,357.7 445.4,355.8 446,353.9 446.5,351.9 447.1,350 447.6,348.1 448.1,346.2 448.7,344.2 449.2,342.3 449.8,340.4 450.3,338.5 450.9,336.5 451.4,334.6 452,332.7 452.5,330.8 453.1,328.8 453.6,326.9 454.2,325 454.7,323 455.2,321.1 455.8,319.2 456.3,317.3 456.8,315.3 457.3,313.4 457.8,311.5 458.3,309.5 458.8,307.6 459.3,305.6 459.7,303.7 460.2,301.7 460.7,299.8 461.1,297.8 461.5,295.9 462,293.9 462.4,292 462.8,290 463.3,288.1 463.7,286.1 464.1,284.2 464.5,282.2 464.9,280.2 465.4,278.3 465.8,276.3 466.2,274.4 466.6,272.4 467,270.5 467.4,268.5 467.8,266.5 468.2,264.6 468.6,262.6 469.1,260.7 469.5,258.7 469.9,256.7 470.3,254.8 470.7,252.8 471.1,250.9 471.5,248.9 471.9,246.9 472.3,245 472.8,243 473.2,241.1 473.6,239.1 474.1,237.2 474.5,235.2 475,233.3 475.4,231.3 475.9,229.4 476.3,227.4 476.8,225.5 477.2,223.5 477.7,221.6 478.1,219.6 478.6,217.7 479.1,215.7 479.6,213.8 480,211.8 480.5,209.9 481,208 481.5,206 482,204.1 482.4,202.1 482.9,200.2 483.4,198.3 483.9,196.3 484.4,194.4 485,192.4 485.5,190.5 486,188.6 486.6,186.7 487.1,184.7 487.7,182.8 488.3,180.9 488.9,179 489.6,177.1 490.2,175.2 490.8,173.3 491.5,171.4 492.2,169.6 492.9,167.7 493.6,165.8 494.3,163.9 495.1,162.1 495.8,160.2 496.7,158.4 497.5,156.6 498.4,154.8 499.3,153 500.4,151.3 501.5,149.7 502.9,148.3 504.3,147 506,145.9 507.7,145.3 509.5,145.4 511.1,146.2 512.5,147.4 513.6,149 514.5,150.8 515.2,152.6 515.8,154.5 516.4,156.5 517,158.4 517.6,160.3 518.2,162.2 518.8,164.1 519.4,166 519.9,167.9 520.4,169.9 520.9,171.8 521.4,173.7 521.8,175.7 522.1,177.7 522.5,179.6 522.8,181.6 523.1,183.6 523.4,185.6 523.7,187.6 524,189.5 524.3,191.5 524.5,193.5 524.9,196 525.2,198 525.4,199.9 525.7,201.9 525.9,203.9 526.2,205.9 526.4,207.9 526.7,209.9 526.9,211.9 527.1,213.8 527.3,215.8 527.5,217.8 527.7,219.8 527.8,221.8 527.9,223.8 528,225.8 528.2,227.8 528.3,229.8 528.4,231.8 528.5,233.8 528.6,235.8 528.7,237.8 528.8,239.8 528.9,241.8 529.1,243.8 529.2,245.8 529.3,247.8 529.5,249.8 529.6,251.8 529.7,253.8 529.9,255.8 530,257.8 530.2,259.8 530.3,261.8 530.5,263.8 530.6,265.8 530.7,267.8 530.9,269.8 531,271.7 531.2,273.7 531.3,275.7 531.5,277.7 531.6,279.7 531.7,281.7 531.9,283.7 532,285.7 532.2,287.7 532.3,289.7 532.4,291.7 532.6,293.7 532.7,295.7 532.8,297.7 533,299.7 533.1,301.7 533.3,303.7 533.4,305.7 533.5,307.7 533.7,309.7 533.8,311.7 533.9,313.7 534.1,315.7 534.2,317.7 534.3,319.7 534.5,321.7 534.6,323.7 534.7,325.7 534.9,327.7 535,329.7 535.1,331.6 535.2,333.6 535.4,335.6 535.5,337.6 535.6,339.6 535.7,341.6 535.8,343.6 536,345.6 536.1,347.6 536.2,349.6 536.3,351.6 536.4,353.6 536.5,355.6 536.6,357.6 536.7,359.6 536.7,361.6 536.8,363.6 536.9,365.6 537,367.6 537.1,369.6 537.1,371.6 537.2,373.6 537.3,375.6 537.3,377.6 537.4,379.6 537.5,381.6 537.5,383.6 537.6,385.6 537.7,387.6 537.7,389.6 537.8,391.6 537.8,393.6 537.9,395.6 538,397.6 538,399.6 538.1,401.6 538.2,403.6 538.2,405.6 538.3,407.6 538.4,409.6 538.4,411.6 538.5,413.6 538.6,415.6 538.6,417.6 538.7,419.6 538.8,421.6 538.9,423.6 539,425.6 539.1,427.6 539.2,429.6 539.3,431.6 539.4,433.6 539.5,435.6 539.7,437.6 539.8,439.6 539.9,441.6 540.1,443.6 540.2,445.6 540.4,447.6 540.5,449.6 540.7,451.6 540.8,453.6 541,455.6 541.1,457.6 541.3,459.6 541.4,461.6 541.6,463.6 541.7,465.6 541.9,467.6 542,469.5 542.2,471.5 542.3,473.5 542.5,475.5 542.6,477.5 542.7,479.5 542.9,481.5 543,483.5 543.2,485.5 543.3,487.5 543.5,489.5 543.6,491.5 543.8,493.5 543.9,495.5 544.1,497.5 544.3,499.5 544.5,501.5 544.7,503.5 544.9,505.5 545.1,507.4 545.3,509.4 545.6,511.4 545.8,513.4 546,515.4 546.2,517.4 546.4,519.4 546.6,521.4 546.8,523.4 546.9,525.4 547.1,527.4 547.2,529.4 547.3,531.3 547.5,533.3 547.6,535.3 547.8,537.3 547.9,539.3 548.1,541.3 548.3,543.3 548.5,545.3 548.8,547.3 549,549.3 549.3,551.3 549.6,553.2 549.9,555.2 550.2,557.2 550.6,559.1 551.1,561.1 551.5,563 552.1,565 552.7,566.9 553.3,568.8 554.1,570.6 554.9,572.4 555.8,574.2 556.8,576 557.9,577.6 559,579.3 560.3,580.8 561.7,582.2 563.2,583.5 564.8,584.7 566.5,585.7 568.3,586.5 570.2,587.2 572.1,587.8 574.1,588.3 576,588.7 578,589.1 579.9,589.4 581.9,589.7 583.9,590 585.9,590.1 587.9,590.2 589.9,590.3 591.9,590.4 593.9,590.4 595.9,590.4 597.9,590.5 599.9,590.5 601.9,590.5 603.9,590.6 605.9,590.6 607.9,590.6 609.9,590.7 611.9,590.7 613.9,590.7 615.9,590.7 617.9,590.7 619.9,590.7 621.9,590.7 623.9,590.7 625.9,590.7 627.9,590.7 629.9,590.7 631.9,590.7 633.9,590.7 635.9,590.7 637.9,590.7 639.9,590.6 641.9,590.6 643.9,590.6 645.9,590.6 647.9,590.5 649.9,590.5 651.9,590.5 653.9,590.4 655.9,590.4 657.9,590.4 659.9,590.3 661.9,590.3 663.9,590.3 665.9,590.2 667.9,590.2 669.9,590.2 672.4,590.1 674.4,590 676.4,590 678.4,589.9 680.4,589.8 682.4,589.6 684.4,589.5 686.4,589.3 688.4,589.2 690.4,588.9 692.4,588.7 694.4,588.4 696.3,588.1 698.3,587.7 700.3,587.4 702.2,587 704.2,586.5 706.1,586 708.1,585.5 710,585 711.9,584.4 713.8,583.7 715.7,583.1 717.5,582.3 719.4,581.6 721.3,580.8 723.1,580.1 725,579.4 726.8,578.6 728.7,578 730.6,577.3 732.5,576.7 734.4,576.1 736.3,575.5 738.3,575 740.2,574.4 742.1,573.9 744,573.4 746,572.9 747.9,572.4 749.9,571.9 751.8,571.5 753.8,571 755.7,570.6 757.7,570.3 759.7,570 761.7,569.7 763.7,569.6 765.7,569.6 767.6,569.7 769.6,570 771.6,570.4 773.5,570.9 775.4,571.6 777.2,572.4 779,573.3 780.8,574.2 782.6,575.1 784.3,576.1 786.1,577 787.9,577.9 789.7,578.8 791.5,579.6 793.4,580.3 795.2,581.1 797.1,581.7 799,582.4 800.9,582.9 802.8,583.5 804.8,584 806.7,584.5 808.7,584.9 810.6,585.4 812.6,585.8 814.5,586.3 816.5,586.7 818.4,587.1 820.4,587.5 822.4,587.8 824.3,588.1 826.3,588.5 828.3,588.8 830.3,589 832.3,589.3 834.2,589.6 836.2,589.8 838.2,590.1 840.2,590.3 842.2,590.6 844.2,590.8 846.2,591.1 848.2,591.3 850.1,591.5 852.1,591.7 854.1,592 856.1,592.2 858.1,592.4 860.1,592.6 862.1,592.8 864.1,593 866.1,593.2 868.1,593.4 870,593.6 872,593.8 874,593.9 876,594.1 878,594.2 880,594.3 882,594.5 884,594.6 886,594.7 888,594.8 890,594.9 892,595 894,595.1 896,595.2 898,595.3 900,595.4 902,595.5 904,595.6 906,595.7 908,595.8 910,595.9 912,596 914,596.1 916,596.2"/>
<path stroke="#ff0000" d="M108.5,590 110.5,590 112.5,590 114.5,590.1 116.5,590.1 118.5,590.1 120.5,590.1 122.5,590.1 124.5,590.1 126.5,590.2 128.5,590.2 130.5,590.2 132.5,590.2 134.5,590.2 136.5,590.3 138.5,590.3 140.5,590.3 142.5,590.3 144.5,590.3 146.5,590.3 148.5,590.4 150.5,590.4 152.5,590.4 154.5,590.4 156.5,590.4 158.5,590.4 160.5,590.5 162.5,590.5 164.5,590.5 166.5,590.5 168.5,590.5 170.5,590.5 172.5,590.6 174.5,590.6 176.5,590.6 178.5,590.6 180.5,590.7 182.5,590.7 184.5,590.7 186.5,590.7 188.5,590.7 190.5,590.8 192.5,590.8 194.5,590.8 196.5,590.8 198.5,590.8 200.6,590.9 202.6,590.9 204.6,590.9 206.6,590.9 208.6,590.9 210.6,590.9 212.6,590.9 214.6,590.9 216.6,590.9 218.6,590.9 220.6,590.9 222.6,590.9 224.6,590.9 226.6,590.9 228.6,590.8 230.6,590.8 232.6,590.8 234.6,590.7 236.6,590.7 238.6,590.7 240.6,590.6 242.6,590.6 244.6,590.5 246.6,590.5 248.6,590.4 250.6,590.4 252.6,590.3 254.6,590.2 256.6,590.2 258.6,590.1 260.6,590 262.6,589.9 265.1,589.9 267.1,589.8 269.1,589.7 271.1,589.6 273.1,589.6 275.1,589.5 277.1,589.4 279.1,589.3 281.1,589.1 283.1,589 285,588.8 287,588.5 289,588.2 291,587.8 292.9,587.4 294.9,587 296.9,586.7 298.8,586.3 300.8,585.9 302.8,585.6 304.7,585.2 306.7,584.8 308.7,584.4 310.6,584 312.6,583.5 314.5,583.1 316.4,582.6 318.4,582 320.3,581.4 322.2,580.8 324.1,580.1 325.9,579.4 327.7,578.6 329.5,577.7 331.3,576.7 333,575.6 334.6,574.5 336.3,573.4 337.9,572.2 339.5,571 341,569.7 342.5,568.4 344,567.1 345.5,565.7 347,564.3 348.4,563 349.8,561.6 351.3,560.2 352.7,558.8 354.1,557.4 355.5,555.9 356.9,554.5 358.2,553 359.6,551.5 360.9,550 362.2,548.5 363.5,546.9 364.7,545.4 366,543.8 367.3,542.3 368.5,540.7 369.7,539.1 371,537.6 372.2,536 373.4,534.4 374.6,532.8 375.8,531.2 377,529.6 378.2,528 379.4,526.4 380.6,524.8 381.8,523.2 383,521.5 384.1,519.9 385.3,518.3 386.4,516.6 387.5,515 388.6,513.3 389.7,511.6 390.8,510 391.9,508.3 392.9,506.6 394,504.8 395,503.1 396,501.4 397,499.7 398,497.9 398.9,496.2 399.9,494.4 400.8,492.6 401.7,490.9 402.7,489.1 403.6,487.3 404.4,485.5 405.3,483.7 406.2,481.9 407,480.1 407.9,478.3 408.7,476.5 409.6,474.6 410.4,472.8 411.2,471 412,469.2 412.9,467.3 413.7,465.5 414.4,463.7 415.2,461.8 416,460 416.8,458.1 417.5,456.3 418.3,454.4 419,452.6 419.7,450.7 420.4,448.8 421.1,446.9 421.8,445.1 422.5,443.2 423.2,441.3 423.8,439.4 424.5,437.5 425.1,435.6 425.7,433.7 426.3,431.8 426.9,429.9 427.5,428 428,426 428.6,424.1 429.1,422.2 429.7,420.3 430.2,418.3 430.7,416.4 431.2,414.5 431.7,412.5 432.2,410.6 432.7,408.6 433.2,406.7 433.7,404.8 434.2,402.8 434.7,400.9 435.1,398.9 435.6,397 436.1,395.1 436.6,393.1 437.1,391.2 437.6,389.2 438.1,387.3 438.6,385.4 439,383.4 439.5,381.5 440,379.5 440.4,377.6 440.9,375.6 441.4,373.7 441.8,371.7 442.3,369.8 442.7,367.8 443.3,365.4 443.8,363.5 444.2,361.5 444.7,359.6 445.2,357.6 445.6,355.7 446.1,353.7 446.6,351.8 447,349.8 447.5,347.9 448,345.9 448.5,344 448.9,342.1 449.4,340.1 449.9,338.2 450.4,336.2 450.9,334.3 451.4,332.4 451.9,330.4 452.3,328.5 452.8,326.5 453.3,324.6 453.8,322.6 454.2,320.7 454.7,318.7 455.1,316.8 455.5,314.8 456,312.9 456.4,310.9 456.8,309 457.1,307 457.5,305 457.8,303 458.1,301.1 458.3,299.1 458.6,297.1 458.9,295.1 459.1,293.1 459.4,291.1 459.6,289.2 459.9,287.2 460.2,285.2 460.5,283.2 460.9,281.3 461.3,279.3 461.6,277.3 462,275.4 462.5,273.4 462.9,271.4 463.3,269.5 463.8,267.5 464.2,265.6 464.7,263.6 465.1,261.7 465.6,259.8 466.1,257.8 466.5,255.9 467,253.9 467.5,252 468,250 468.4,248.1 468.9,246.1 469.4,244.2 469.8,242.2 470.3,240.3 470.8,238.4 471.2,236.4 471.7,234.5 472.1,232.5 472.6,230.6 473,228.6 473.4,226.6 473.8,224.7 474.3,222.7 474.7,220.8 475.1,218.8 475.5,216.8 475.9,214.9 476.3,212.9 476.7,211 477.1,209 477.5,207 477.9,205.1 478.3,203.1 478.7,201.2 479.1,199.2 479.6,197.3 480,195.3 480.4,193.4 480.9,191.4 481.3,189.5 481.8,187.5 482.2,185.6 482.7,183.6 483.2,181.7 483.6,179.7 484.1,177.8 484.6,175.8 485.1,173.9 485.5,171.9 486,170 486.5,168.1 487,166.1 487.5,164.2 487.9,162.2 488.4,160.3 488.9,158.4 489.4,156.4 490,154.5 490.5,152.6 491.1,150.6 491.6,148.7 492.2,146.8 492.8,144.9 493.5,143 494.1,141.1 494.7,139.2 495.4,137.3 496.1,135.4 496.9,133.6 497.7,131.8 498.6,130 499.5,128.2 500.6,126.6 501.8,124.9 503.1,123.5 504.5,122.3 506.1,121.7 507.7,122 509.2,122.9 510.5,124.4 511.5,126 512.4,127.8 513,129.7 513.6,131.6 514.1,133.5 514.5,135.5 515,137.4 515.4,139.4 515.8,141.4 516.1,143.3 516.5,145.3 516.8,147.3 517.1,149.3 517.4,151.2 517.6,153.2 517.9,155.2 518.2,157.2 518.5,159.2 518.7,161.1 519,163.1 519.3,165.1 519.5,167.1 519.7,169.1 520,171.1 520.2,173.1 520.5,175.5 520.7,177.5 520.9,179.5 521.2,181.5 521.4,183.5 521.6,185.5 521.8,187.5 522,189.5 522.3,191.5 522.5,193.5 522.7,195.4 522.9,197.4 523.1,199.4 523.3,201.4 523.5,203.4 523.6,205.4 523.8,207.4 523.9,209.4 524.1,211.4 524.2,213.4 524.3,215.4 524.4,217.4 524.4,219.4 524.5,221.4 524.6,223.4 524.6,225.4 524.7,227.4 524.8,229.4 524.9,231.4 524.9,233.4 525,235.4 525.1,237.4 525.1,239.4 525.2,241.4 525.3,243.4 525.3,245.4 525.4,247.4 525.5,249.4 525.5,251.4 525.6,253.4 525.6,255.4 525.7,257.4 525.8,259.4 525.8,261.4 525.9,263.4 526,265.4 526,267.4 526.1,269.4 526.2,271.4 526.2,273.4 526.3,275.4 526.4,277.4 526.4,279.4 526.5,281.4 526.6,283.4 526.6,285.4 526.7,287.4 526.8,289.4 526.9,291.4 527,293.4 527,295.4 527.1,297.4 527.2,299.4 527.3,301.4 527.4,303.4 527.5,305.4 527.6,307.4 527.7,309.4 527.8,311.4 527.9,313.4 528,315.4 528.1,317.4 528.2,319.4 528.3,321.4 528.4,323.4 528.5,325.4 528.6,327.4 528.7,329.4 528.8,331.4 528.9,333.4 529.1,335.4 529.2,337.4 529.3,339.4 529.4,341.4 529.5,343.4 529.6,345.4 529.7,347.3 529.8,349.3 529.9,351.3 530,353.3 530.1,355.3 530.2,357.3 530.2,359.3 530.3,361.3 530.4,363.3 530.5,365.3 530.6,367.3 530.7,369.3 530.7,371.3 530.8,373.3 530.9,375.3 531,377.3 531.1,379.3 531.1,381.3 531.2,383.3 531.3,385.3 531.4,387.3 531.4,389.3 531.5,391.3 531.6,393.3 531.7,395.3 531.8,397.3 531.8,399.3 531.9,401.3 532,403.3 532.1,405.3 532.2,407.3 532.3,409.3 532.3,411.3 532.4,413.3 532.5,415.3 532.6,417.3 532.7,419.3 532.8,421.3 532.9,423.3 533,425.3 533.1,427.3 533.2,429.3 533.3,431.3 533.5,433.3 533.6,435.3 533.7,437.3 533.8,439.3 533.9,441.3 534,443.3 534.1,445.3 534.3,447.3 534.4,449.3 534.5,451.3 534.6,453.3 534.8,455.3 534.9,457.3 535,459.3 535.2,461.3 535.3,463.3 535.4,465.3 535.6,467.3 535.7,469.3 535.8,471.3 536,473.3 536.1,475.3 536.2,477.3 536.4,479.3 536.5,481.2 536.7,483.2 536.8,485.2 537,487.7 537.1,489.7 537.3,491.7 537.5,493.7 537.6,495.7 537.8,497.7 538,499.7 538.2,501.7 538.4,503.7 538.6,505.7 538.9,507.7 539.1,509.6 539.4,511.6 539.7,513.6 539.9,515.6 540.1,517.6 540.3,519.6 540.5,521.6 540.7,523.6 540.8,525.6 540.9,527.6 541.1,529.5 541.2,531.5 541.3,533.5 541.4,535.5 541.5,537.5 541.6,539.5 541.7,541.5 541.8,543.5 541.9,545.5 542,547.5 542.2,549.5 542.4,551.5 542.6,553.5 542.8,555.5 543.1,557.5 543.4,559.4 543.8,561.4 544.3,563.4 544.8,565.3 545.4,567.2 546.1,569.1 546.9,570.9 547.8,572.7 548.8,574.4 549.9,576 551.2,577.6 552.5,579 554.1,580.3 555.7,581.3 557.5,582.2 559.4,582.8 561.3,583.3 563.3,583.7 565.3,584 567.2,584.2 569.2,584.4 571.2,584.6 573.2,584.7 575.2,584.8 577.2,584.9 579.2,585 581.2,585 583.2,585.1 585.2,585.1 587.2,585.2 589.2,585.2 591.2,585.3 593.2,585.3 595.2,585.4 597.2,585.4 599.2,585.5 601.2,585.5 603.2,585.6 605.2,585.6 607.2,585.7 609.2,585.7 611.2,585.8 613.2,585.8 615.2,585.9 617.2,585.9 619.2,585.9 621.2,586 623.2,586 625.2,586 627.2,586 629.2,586 631.2,586.1 633.2,586.1 635.2,586.1 637.2,586.1 639.2,586.1 641.2,586.1 643.2,586.1 645.2,586 647.2,586 649.2,586 651.2,586 653.2,585.9 655.2,585.9 657.3,585.9 659.3,585.8 661.3,585.8 663.3,585.7 665.3,585.7 667.3,585.6 669.3,585.5 671.3,585.4 673.3,585.4 675.3,585.3 677.3,585.2 679.2,585.1 681.2,585 683.2,584.9 685.2,584.8 687.2,584.7 689.2,584.5 691.2,584.4 693.2,584.3 695.2,584.2 697.2,584.1 699.2,584 701.2,583.9 703.2,583.8 705.2,583.6 707.2,583.5 709.2,583.4 711.2,583.3 713.2,583.1 715.2,582.9 717.2,582.8 719.2,582.6 721.2,582.3 723.2,582.1 725.1,581.8 727.1,581.5 729.1,581.1 731,580.7 733,580.3 734.9,579.8 736.9,579.2 738.8,578.6 740.7,578 742.5,577.3 744.4,576.6 746.3,575.9 748.1,575.1 749.9,574.2 751.7,573.4 753.5,572.4 755.2,571.4 756.9,570.4 758.7,569.4 760.4,568.4 762.2,567.5 764,566.6 766.3,565.6 768.2,564.9 770.1,564.4 772,563.9 774,563.5 775.9,563.3 777.9,563.3 779.9,563.4 781.9,563.7 783.8,564.2 785.8,564.7 787.6,565.3 789.5,566 791.3,566.9 793.1,567.7 794.9,568.7 796.7,569.6 798.4,570.5 800.2,571.4 802,572.4 803.8,573.3 805.6,574.2 807.4,575 809.2,575.8 811.1,576.5 813,577.2 814.9,577.8 816.8,578.4 818.7,579 820.6,579.6 822.5,580.1 824.5,580.7 826.4,581.2 828.3,581.6 830.3,582 832.3,582.4 834.2,582.8 836.2,583.1 838.2,583.4 840.2,583.7 842.1,584 844.1,584.3 846.1,584.5 848.1,584.8 850.1,585 852.1,585.2 854.1,585.5 856.1,585.7 858,585.9 860,586.1 862,586.2 864,586.4 866,586.6 868,586.7 870,586.9 872,587 874,587.1 876,587.3 878,587.4 880,587.5 882,587.6 884,587.6 886,587.7 888,587.8 890,587.8 892,587.9 894,588 896,588 898,588.1 900,588.1 902,588.2 904,588.2 906,588.3 908,588.4 910,588.4 912,588.5 914,588.5 916,588.6"/>
<path stroke="#0000ff" d="M108.5,593.5 110.5,593.5 112.5,593.5 114.5,593.6 116.5,593.6 118.5,593.6 120.5,593.6 122.5,593.6 124.5,593.6 126.5,593.6 128.5,593.7 130.5,593.7 132.5,593.7 134.5,593.7 136.5,593.7 138.5,593.7 140.5,593.7 142.5,593.8 144.5,593.8 146.5,593.8 148.5,593.8 150.5,593.8 152.5,593.9 154.5,593.9 156.5,593.9 158.5,593.9 160.5,593.9 162.5,594 164.5,594 166.5,594 168.5,594.1 170.5,594.1 172.5,594.1 174.5,594.2 176.5,594.2 178.5,594.3 180.5,594.3 182.5,594.4 184.5,594.5 186.5,594.5 188.5,594.6 190.5,594.6 192.5,594.7 194.5,594.8 196.5,594.8 198.5,594.9 200.5,594.9 202.5,595 204.5,595 206.5,595.1 208.5,595.1 210.5,595.2 212.5,595.2 214.5,595.2 216.5,595.3 218.6,595.3 220.6,595.3 222.6,595.3 224.6,595.3 226.6,595.3 228.6,595.3 230.6,595.3 232.6,595.3 234.6,595.2 236.6,595.2 238.6,595.1 240.6,595 242.6,594.9 244.6,594.8 246.6,594.7 248.6,594.6 250.6,594.5 252.6,594.4 254.5,594.3 256.5,594.2 258.5,594 260.5,593.9 262.5,593.7 264.5,593.6 266.5,593.4 268.5,593.3 270.5,593.1 272.5,592.9 274.5,592.7 276.5,592.6 278.5,592.4 280.5,592.2 282.5,592 284.5,591.8 286.4,591.5 288.4,591.2 290.4,590.9 292.4,590.5 294.3,590.1 296.3,589.7 298.2,589.2 300.2,588.8 302.6,588.3 304.6,587.8 306.5,587.3 308.4,586.8 310.4,586.3 312.3,585.8 314.2,585.2 316.1,584.6 318,584 319.9,583.3 321.8,582.6 323.6,581.8 325.5,581 327.3,580.1 329,579.2 330.8,578.2 332.5,577.2 334.2,576.1 335.9,575 337.5,573.9 339.2,572.8 340.8,571.6 342.4,570.4 343.9,569.1 345.5,567.9 347.1,566.6 348.6,565.3 350.1,564 351.6,562.7 353.1,561.4 354.6,560 356,558.7 357.5,557.3 358.9,555.9 360.4,554.5 361.8,553.1 363.2,551.7 364.6,550.2 366,548.8 367.3,547.3 368.7,545.8 370,544.3 371.3,542.8 372.5,541.2 373.8,539.7 375,538.1 376.2,536.5 377.4,534.9 378.6,533.3 379.8,531.6 380.9,530 382.1,528.4 383.2,526.7 384.3,525.1 385.4,523.4 386.6,521.8 387.7,520.1 388.8,518.4 389.9,516.8 391,515.1 392.1,513.4 393.2,511.7 394.2,510 395.3,508.3 396.3,506.6 397.3,504.9 398.4,503.2 399.4,501.5 400.4,499.7 401.4,498 402.4,496.3 403.4,494.5 404.4,492.8 405.4,491 406.3,489.3 407.3,487.5 408.3,485.8 409.2,484 410.2,482.3 411.1,480.5 412,478.7 413,477 413.9,475.2 414.8,473.4 415.7,471.6 416.6,469.8 417.5,468 418.4,466.2 419.3,464.4 420.1,462.6 421,460.8 421.8,459 422.6,457.2 423.5,455.4 424.3,453.5 425.1,451.7 425.9,449.9 426.6,448 427.4,446.2 428.2,444.3 428.9,442.5 429.6,440.6 430.3,438.7 431,436.8 431.7,435 432.4,433.1 433.1,431.2 433.7,429.3 434.4,427.4 435,425.5 435.6,423.6 436.2,421.7 436.8,419.8 437.5,417.9 438.1,416 438.7,414.1 439.3,412.2 439.9,410.3 440.4,408.3 441,406.4 441.6,404.5 442.2,402.6 442.8,400.7 443.4,398.8 444.1,396.9 444.7,395 445.3,393.1 445.9,391.2 446.5,389.3 447.1,387.3 447.6,385.4 448.2,383.5 448.8,381.6 449.4,379.7 450,377.8 450.6,375.9 451.2,374 451.7,372 452.3,370.1 452.9,368.2 453.4,366.3 454,364.4 454.6,362.4 455.1,360.5 455.7,358.6 456.2,356.7 456.7,354.7 457.3,352.8 457.8,350.9 458.3,348.9 458.8,347 459.4,345.1 459.9,343.1 460.4,341.2 460.9,339.3 461.4,337.3 461.9,335.4 462.4,333.5 462.9,331.5 463.4,329.6 463.8,327.6 464.3,325.7 464.8,323.7 465.3,321.8 465.8,319.9 466.2,317.9 466.7,316 467.2,314 467.6,312.1 468.1,310.1 468.6,308.2 469,306.2 469.5,304.3 470,302.3 470.4,300.4 470.9,298.4 471.3,296.5 471.8,294.5 472.2,292.6 472.7,290.6 473.1,288.7 473.5,286.7 473.9,284.8 474.4,282.8 474.8,280.9 475.2,278.9 475.6,276.9 476,275 476.4,273 476.8,271.1 477.2,269.1 477.6,267.1 478,265.2 478.4,262.7 478.8,260.7 479.1,258.8 479.5,256.8 479.8,254.8 480.2,252.9 480.5,250.9 480.8,248.9 481.2,246.9 481.5,245 481.9,243 482.2,241 482.6,239.1 482.9,237.1 483.3,235.1 483.7,233.2 484.1,231.2 484.6,229.3 485,227.3 485.5,225.4 486,223.4 486.5,221.5 487,219.6 487.5,217.6 488.1,215.7 488.6,213.8 489.1,211.8 489.7,209.9 490.2,208 490.8,206.1 491.3,204.1 491.8,202.2 492.4,200.3 492.9,198.3 493.4,196.4 493.9,194.5 494.4,192.5 494.9,190.6 495.4,188.7 495.9,186.7 496.4,184.8 496.9,182.9 497.5,180.9 498,179 498.5,177.1 499,175.1 499.5,173.2 500,171.3 500.6,169.3 501.1,167.4 501.6,165.5 502.1,163.5 502.7,161.6 503.2,159.7 503.7,157.7 504.3,155.8 504.8,153.9 505.4,152 506,150.1 506.6,148.2 507.2,146.3 507.9,144.4 508.5,142.5 509.2,140.6 509.9,138.7 510.6,136.8 511.3,134.9 512,133.1 512.7,131.2 513.5,129.4 514.2,127.5 515.1,125.7 516,124 517.2,122.5 518.6,121.5 520.2,121.3 521.8,121.9 523.2,123.1 524.4,124.6 525.3,126.3 526.1,128.2 526.7,130.1 527.3,132 527.8,133.9 528.3,135.8 528.6,137.8 529,139.8 529.3,141.8 529.6,143.7 530,145.7 530.3,147.7 530.7,149.6 531,151.6 531.4,153.6 531.8,155.5 532.1,157.5 532.5,159.5 532.8,161.5 533.1,163.4 533.4,165.4 533.7,167.4 534,169.4 534.3,171.4 534.6,173.3 534.9,175.3 535.1,177.3 535.4,179.3 535.6,181.3 535.9,183.3 536.1,185.2 536.3,187.2 536.5,189.2 536.7,191.2 536.9,193.2 537.1,195.2 537.3,197.2 537.4,199.2 537.6,201.2 537.7,203.2 537.9,205.2 538,207.2 538.1,209.2 538.3,211.2 538.4,213.2 538.5,215.2 538.6,217.2 538.7,219.2 538.8,221.2 539,223.2 539.1,225.2 539.2,227.2 539.3,229.1 539.5,231.1 539.6,233.1 539.7,235.1 539.9,237.1 540,239.1 540.1,241.1 540.2,243.1 540.4,245.1 540.5,247.1 540.6,249.1 540.6,251.1 540.7,253.1 540.8,255.1 540.9,257.1 540.9,259.1 541,261.1 541,263.1 541.1,265.1 541.1,267.1 541.2,269.1 541.2,271.1 541.3,273.1 541.3,275.1 541.4,277.1 541.4,279.1 541.5,281.1 541.5,283.1 541.6,285.1 541.7,287.1 541.7,289.1 541.8,291.1 541.9,293.1 541.9,295.1 542,297.1 542.1,299.1 542.2,301.1 542.3,303.1 542.4,305.1 542.4,307.1 542.5,309.1 542.6,311.1 542.7,313.1 542.8,315.1 542.9,317.1 543.1,319.1 543.2,321.1 543.3,323.1 543.4,325.1 543.5,327.1 543.6,329.1 543.7,331.1 543.8,333.1 543.9,335.1 544,337.1 544.1,339.1 544.2,341.1 544.3,343.1 544.4,345.1 544.6,347.1 544.7,349.1 544.8,351.1 544.9,353.1 545,355.6 545.1,357.6 545.2,359.6 545.3,361.6 545.4,363.6 545.5,365.6 545.5,367.6 545.6,369.6 545.7,371.6 545.8,373.6 545.9,375.6 546,377.6 546.1,379.6 546.2,381.6 546.3,383.6 546.4,385.6 546.5,387.6 546.5,389.6 546.6,391.6 546.7,393.6 546.8,395.6 546.9,397.6 547,399.6 547.1,401.6 547.2,403.6 547.3,405.6 547.4,407.6 547.5,409.6 547.6,411.6 547.7,413.6 547.8,415.6 547.9,417.6 548,419.6 548.1,421.6 548.2,423.6 548.3,425.6 548.4,427.6 548.5,429.6 548.6,431.6 548.7,433.6 548.8,435.6 548.9,437.5 549,439.5 549.2,441.5 549.3,443.5 549.4,445.5 549.5,447.5 549.7,449.5 549.8,451.5 549.9,453.5 550.1,455.5 550.2,457.5 550.3,459.5 550.5,461.5 550.6,463.5 550.7,465.5 550.9,467.5 551,469.5 551.2,471.5 551.3,473.5 551.5,475.5 551.6,477.5 551.8,479.5 551.9,481.5 552.1,483.5 552.2,485.5 552.4,487.5 552.5,489.5 552.7,491.5 552.8,493.4 553,495.4 553.1,497.4 553.3,499.4 553.4,501.4 553.6,503.4 553.7,505.4 553.9,507.4 554,509.4 554.2,511.4 554.3,513.4 554.4,515.4 554.6,517.4 554.8,519.4 554.9,521.4 555.1,523.4 555.2,525.4 555.3,527.4 555.5,529.4 555.6,531.4 555.8,533.4 556,535.4 556.1,537.3 556.3,539.3 556.6,541.3 556.8,543.3 557.1,545.3 557.3,547.3 557.6,549.3 558,551.2 558.3,553.2 558.8,555.2 559.2,557.1 559.8,559 560.4,560.9 561,562.8 561.8,564.7 562.6,566.5 563.5,568.3 564.5,570 565.6,571.6 566.9,573.2 568.2,574.7 569.7,576 571.2,577.3 572.8,578.5 574.5,579.5 576.3,580.4 578.1,581.2 580,581.9 581.9,582.5 583.8,583 585.8,583.4 587.8,583.7 589.7,584.1 591.7,584.4 593.7,584.6 595.7,584.9 597.7,585.2 599.7,585.5 601.6,585.7 603.6,586 605.6,586.2 607.6,586.4 609.6,586.6 611.6,586.7 613.6,586.9 615.6,587 617.6,587.2 619.6,587.3 621.6,587.4 623.6,587.5 625.6,587.6 627.6,587.7 629.6,587.8 631.6,587.9 633.6,588 635.6,588.1 637.6,588.2 639.6,588.2 641.6,588.3 643.6,588.4 645.6,588.4 647.6,588.5 649.6,588.5 651.6,588.5 653.6,588.6 655.6,588.6 657.6,588.6 659.6,588.7 661.6,588.7 663.6,588.7 665.6,588.7 667.6,588.8 669.6,588.8 671.6,588.8 673.6,588.7 675.6,588.7 677.6,588.7 679.6,588.6 681.6,588.5 683.6,588.4 685.6,588.3 687.6,588.2 689.6,588 691.6,587.8 693.6,587.6 695.5,587.4 697.5,587.2 699.5,586.9 701.5,586.7 703.5,586.4 705.5,586.1 707.4,585.8 709.4,585.5 711.4,585.2 713.4,584.8 715.3,584.5 717.3,584.1 719.3,583.7 721.2,583.3 723.2,582.9 725.1,582.5 727.1,582 729.5,581.4 731.4,580.9 733.4,580.3 735.3,579.7 737.2,579.1 739,578.4 740.9,577.7 742.8,577 744.6,576.3 746.5,575.5 748.4,574.8 750.3,574.1 752.1,573.4 754,572.6 755.8,571.9 757.7,571.1 759.6,570.4 761.5,569.8 763.4,569.3 765.3,568.9 767.3,568.6 769.3,568.4 771.3,568.4 773.3,568.6 775.2,569 777.1,569.6 779,570.3 780.8,571 782.7,571.9 784.5,572.7 786.3,573.5 788.2,574.2 790.1,574.9 792,575.5 793.9,576.1 795.8,576.6 797.7,577.2 799.6,577.8 801.6,578.3 803.5,578.9 805.4,579.5 807.3,580.1 809.2,580.7 811.1,581.4 812.9,582.2 814.8,582.9 816.7,583.5 818.6,584.1 820.5,584.6 822.5,585.1 824.4,585.5 826.4,585.9 828.4,586.2 830.3,586.6 832.3,586.9 834.3,587.2 836.3,587.6 838.2,587.9 840.2,588.2 842.2,588.5 844.2,588.7 846.2,589 848.2,589.3 850.1,589.5 852.1,589.7 854.1,590 856.1,590.2 858.1,590.4 860.1,590.6 862.1,590.7 864.1,590.9 866.1,591.1 868.1,591.3 870.1,591.4 872.1,591.6 874,591.7 876,591.9 878,592 880,592.2 882,592.3 884,592.4 886,592.5 888,592.6 890,592.8 892,592.9 894,593 896,593.1 898,593.2 900,593.3 902,593.4 904,593.5 906,593.6 908,593.8 910,593.9 912,594 914,594.1 916,594.2"/>
<path stroke="#008000" d="M108.5,596.3 110.5,596.3 112.5,596.3 114.5,596.3 116.5,596.3 118.5,596.3 120.5,596.3 122.5,596.3 124.5,596.3 126.5,596.3 128.5,596.3 130.5,596.3 132.5,596.3 134.5,596.3 136.5,596.3 138.5,596.3 140.5,596.3 142.5,596.3 144.5,596.3 146.5,596.3 148.5,596.3 150.5,596.3 152.5,596.3 154.5,596.3 156.5,596.3 158.5,596.3 160.5,596.4 162.5,596.4 164.5,596.4 166.5,596.4 168.5,596.5 170.5,596.5 172.5,596.6 174.5,596.7 176.5,596.8 178.5,596.8 180.5,596.9 182.5,597 184.5,597 186.5,597 188.5,597 190.5,596.9 192.5,596.9 194.5,596.8 196.5,596.7 198.5,596.6 200.5,596.5 202.5,596.4 204.5,596.3 206.5,596.2 208.5,596.1 210.5,595.9 212.5,595.8 214.5,595.7 216.5,595.6 218.5,595.5 220.5,595.4 222.5,595.3 224.5,595.2 226.5,595.1 228.5,595 230.5,595 232.5,594.9 234.5,594.9 236.5,594.9 238.5,594.8 240.5,594.8 242.5,594.8 244.5,594.7 246.5,594.7 248.5,594.6 250.5,594.5 252.5,594.4 254.5,594.3 256.5,594.2 258.5,594 260.5,593.8 262.5,593.6 264.4,593.3 266.4,593 268.4,592.7 270.4,592.4 272.3,592 274.3,591.6 276.3,591.2 278.2,590.8 280.2,590.4 282.1,589.9 284.1,589.5 286,589.1 288,588.6 289.9,588.1 291.9,587.7 293.8,587.2 295.8,586.8 297.7,586.4 299.7,586 302.1,585.5 304.1,585 306,584.5 308,584 309.9,583.5 311.8,583 313.8,582.5 315.7,582 317.6,581.5 319.5,580.9 321.4,580.2 323.3,579.5 325.1,578.7 327,577.9 328.7,576.9 330.4,575.9 332.1,574.9 333.8,573.8 335.4,572.6 337,571.4 338.6,570.2 340.2,568.9 341.7,567.6 343.2,566.3 344.7,565 346.2,563.7 347.7,562.3 349.1,560.9 350.6,559.6 352,558.2 353.4,556.7 354.8,555.3 356.2,553.9 357.5,552.4 358.9,550.9 360.2,549.4 361.5,547.9 362.8,546.3 364.1,544.8 365.3,543.2 366.6,541.7 367.8,540.1 369.1,538.5 370.3,537 371.5,535.4 372.7,533.8 373.9,532.2 375.1,530.6 376.3,529 377.5,527.4 378.7,525.7 379.8,524.1 381,522.5 382.2,520.9 383.3,519.2 384.4,517.6 385.5,515.9 386.7,514.2 387.8,512.6 388.8,510.9 389.9,509.2 391,507.5 392,505.8 393,504.1 394.1,502.3 395.1,500.6 396.1,498.9 397.1,497.1 398,495.4 399,493.6 399.9,491.9 400.8,490.1 401.8,488.3 402.7,486.5 403.6,484.7 404.5,483 405.3,481.2 406.2,479.4 407.1,477.5 407.9,475.7 408.8,473.9 409.6,472.1 410.4,470.3 411.2,468.5 412.1,466.6 412.9,464.8 413.6,463 414.4,461.1 415.2,459.3 416,457.4 416.7,455.6 417.4,453.7 418.2,451.8 418.9,450 419.6,448.1 420.3,446.2 420.9,444.3 421.6,442.4 422.3,440.6 422.9,438.7 423.6,436.8 424.2,434.9 424.9,433 425.5,431.1 426.1,429.2 426.7,427.3 427.3,425.3 427.8,423.4 428.4,421.5 429,419.6 429.5,417.7 430.1,415.7 430.6,413.8 431.2,411.9 431.7,410 432.3,408 432.8,406.1 433.3,404.2 433.9,402.3 434.4,400.3 435,398.4 435.5,396.5 436.1,394.6 436.6,392.6 437.1,390.7 437.7,388.8 438.2,386.9 438.8,384.9 439.3,383 439.9,381.1 440.4,379.2 440.9,377.2 441.5,375.3 442,373.4 442.5,371.4 443.1,369.5 443.6,367.6 444.1,365.7 444.7,363.7 445.2,361.8 445.7,359.9 446.3,357.9 446.8,356 447.3,354.1 447.9,352.2 448.4,350.2 448.9,348.3 449.5,346.4 450,344.4 450.6,342.5 451.1,340.6 451.7,338.7 452.2,336.8 452.8,334.8 453.3,332.9 453.9,331 454.4,329.1 455,327.1 455.5,325.2 456.1,323.3 456.6,321.4 457.1,319.4 457.7,317.5 458.2,315.6 458.7,313.6 459.2,311.7 459.7,309.7 460.1,307.8 460.6,305.9 461,303.9 461.5,302 461.9,300 462.3,298 462.7,296.1 463.1,294.1 463.5,292.2 463.9,290.2 464.3,288.2 464.7,286.3 465.1,284.3 465.5,282.4 465.9,280.4 466.3,278.4 466.7,276.5 467.1,274.5 467.5,272.6 467.9,270.6 468.3,268.6 468.7,266.7 469.1,264.7 469.5,262.7 469.9,260.8 470.3,258.8 470.8,256.4 471.2,254.4 471.6,252.4 472,250.5 472.4,248.5 472.8,246.6 473.2,244.6 473.6,242.6 474,240.7 474.4,238.7 474.8,236.8 475.3,234.8 475.7,232.9 476.1,230.9 476.5,229 477,227 477.4,225 477.9,223.1 478.3,221.1 478.8,219.2 479.2,217.2 479.7,215.3 480.2,213.4 480.6,211.4 481.1,209.5 481.6,207.5 482.1,205.6 482.5,203.6 483,201.7 483.5,199.8 484,197.8 484.5,195.9 485,193.9 485.5,192 486,190.1 486.5,188.1 487,186.2 487.5,184.3 488,182.3 488.6,180.4 489.1,178.5 489.6,176.5 490.2,174.6 490.8,172.7 491.3,170.8 491.9,168.9 492.5,167 493.1,165.1 493.7,163.1 494.4,161.2 495,159.3 495.6,157.5 496.3,155.6 496.9,153.7 497.6,151.8 498.3,149.9 499,148 499.7,146.2 500.5,144.3 501.2,142.4 501.9,140.6 502.7,138.8 503.6,136.9 504.5,135.2 505.4,133.4 506.5,131.7 507.5,130 508.7,128.4 510.1,127.1 511.6,126.2 513.3,126.1 515,126.7 516.5,127.9 517.8,129.3 519,130.9 519.9,132.7 520.6,134.5 521.2,136.4 521.8,138.3 522.3,140.3 522.7,142.2 523.1,144.2 523.5,146.1 523.9,148.1 524.2,150.1 524.6,152.1 524.9,154 525.2,156 525.5,158 525.8,160 526.1,161.9 526.3,163.9 526.6,165.9 526.8,167.9 527.1,169.9 527.3,171.9 527.5,173.9 527.8,175.8 528,177.8 528.2,179.8 528.4,181.8 528.6,183.8 528.8,185.8 528.9,187.8 529.1,189.8 529.3,191.8 529.4,193.8 529.6,195.8 529.8,197.8 530,199.8 530.2,201.7 530.5,203.7 530.8,205.7 531,207.7 531.3,209.7 531.6,211.7 531.8,213.6 532.1,215.6 532.3,217.6 532.5,219.6 532.7,221.6 532.9,223.6 533,225.6 533.2,227.6 533.4,229.6 533.5,231.6 533.7,233.6 533.9,235.6 534,237.5 534.2,239.5 534.3,241.5 534.5,243.5 534.6,245.5 534.7,247.5 534.9,249.5 535,251.5 535.1,253.5 535.3,255.5 535.4,257.5 535.5,259.5 535.6,261.5 535.8,263.5 535.9,265.5 536,267.5 536.1,269.5 536.3,271.5 536.4,273.5 536.5,275.5 536.6,277.5 536.7,279.5 536.9,281.5 537,283.5 537.1,285.5 537.2,287.5 537.3,289.5 537.5,291.5 537.6,293.5 537.7,295.5 537.8,297.5 538,299.5 538.1,301.5 538.2,303.4 538.3,305.4 538.5,307.4 538.6,309.4 538.7,311.4 538.8,313.4 539,315.4 539.1,317.4 539.2,319.4 539.4,321.4 539.5,323.4 539.6,325.4 539.7,327.4 539.9,329.4 540,331.4 540.1,333.4 540.2,335.4 540.3,337.4 540.5,339.4 540.6,341.4 540.7,343.4 540.8,345.4 540.9,347.4 541,349.4 541.2,351.4 541.3,353.4 541.4,355.4 541.5,357.4 541.6,359.4 541.7,361.4 541.8,363.4 541.9,365.4 542,367.9 542.1,369.9 542.2,371.9 542.3,373.9 542.4,375.9 542.5,377.9 542.6,379.9 542.7,381.9 542.8,383.9 542.9,385.9 543,387.9 543.1,389.9 543.2,391.8 543.3,393.8 543.4,395.8 543.5,397.8 543.6,399.8 543.7,401.8 543.7,403.8 543.8,405.8 543.9,407.8 544,409.8 544.1,411.8 544.2,413.8 544.3,415.8 544.4,417.8 544.5,419.8 544.5,421.8 544.6,423.8 544.7,425.8 544.8,427.8 544.9,429.8 545,431.8 545,433.8 545.1,435.8 545.2,437.8 545.3,439.8 545.3,441.8 545.4,443.8 545.4,445.8 545.5,447.8 545.6,449.8 545.6,451.8 545.7,453.8 545.8,455.8 545.9,457.8 545.9,459.8 546,461.8 546.1,463.8 546.3,465.8 546.4,467.8 546.5,469.8 546.6,471.8 546.8,473.8 546.9,475.8 547.1,477.8 547.2,479.8 547.4,481.8 547.6,483.8 547.7,485.8 547.9,487.8 548.1,489.8 548.2,491.8 548.4,493.8 548.6,495.7 548.7,497.7 548.9,499.7 549.1,501.7 549.2,503.7 549.4,505.7 549.6,507.7 549.8,509.7 549.9,511.7 550.1,513.7 550.3,515.7 550.5,517.7 550.7,519.7 550.8,521.7 551,523.7 551.2,525.6 551.3,527.6 551.5,529.6 551.6,531.6 551.8,533.6 552,535.6 552.2,537.6 552.4,539.6 552.6,541.6 552.8,543.6 553.1,545.6 553.4,547.5 553.7,549.5 554.1,551.5 554.5,553.4 554.9,555.4 555.4,557.3 555.8,559.3 556.3,561.2 556.9,563.2 557.4,565.1 558,567 558.7,568.9 559.5,570.7 560.4,572.5 561.4,574.2 562.5,575.9 563.7,577.4 565,578.9 566.5,580.3 568,581.5 569.7,582.7 571.4,583.7 573.2,584.6 575,585.4 576.8,586.2 578.7,586.8 580.6,587.4 582.6,587.9 584.5,588.4 586.5,588.8 588.4,589.2 590.4,589.5 592.4,589.8 594.4,590.1 596.4,590.3 598.3,590.5 600.3,590.7 602.3,590.8 604.3,590.9 606.3,591 608.3,591.1 610.3,591.2 612.3,591.2 614.3,591.3 616.3,591.3 618.3,591.4 620.3,591.4 622.3,591.4 624.3,591.4 626.3,591.4 628.3,591.3 630.3,591.3 632.3,591.3 634.3,591.2 636.3,591.2 638.3,591.1 640.3,591 642.3,590.9 644.3,590.8 646.3,590.7 648.3,590.6 650.3,590.5 652.3,590.3 654.3,590.2 656.3,590.1 658.3,589.9 660.3,589.7 662.3,589.6 664.3,589.4 666.3,589.2 668.3,589 670.3,588.8 672.3,588.6 674.2,588.4 676.2,588.2 678.2,587.9 680.2,587.7 682.2,587.4 684.2,587.2 686.2,586.9 688.1,586.6 690.1,586.3 692.1,585.9 694.1,585.6 696,585.2 698,584.8 699.9,584.4 701.9,583.9 703.8,583.5 705.8,583 707.7,582.5 709.7,582 711.6,581.5 713.5,581 715.4,580.4 717.4,579.8 719.3,579.2 721.2,578.6 723.1,578 725,577.3 726.8,576.6 728.7,575.9 730.5,575.1 732.8,574.1 734.6,573.2 736.4,572.3 738.2,571.4 739.9,570.4 741.7,569.5 743.4,568.5 745.2,567.6 747,566.7 748.9,566 750.8,565.4 752.7,564.9 754.7,564.6 756.6,564.4 758.6,564.3 760.6,564.2 762.6,564.3 764.6,564.4 766.6,564.7 768.5,565.1 770.4,565.8 772.2,566.6 774,567.5 775.7,568.6 777.4,569.6 779.1,570.7 780.7,571.8 782.4,572.9 784,574.1 785.7,575.3 787.3,576.4 789,577.5 790.6,578.6 792.3,579.7 794,580.8 795.7,581.8 797.5,582.7 799.3,583.5 801.2,584.1 803.1,584.7 805.1,585.2 807,585.8 808.9,586.5 810.7,587.2 812.6,588 814.4,588.7 816.3,589.4 818.2,590 820.2,590.4 822.1,590.7 824.1,590.9 826.1,591.1 828.1,591.3 830.1,591.5 832.1,591.7 834.1,592 836,592.2 838,592.4 840,592.6 842,592.8 844,593 846,593.2 848,593.3 850,593.5 852,593.6 854,593.7 856,593.9 858,594 860,594.1 862,594.1 864,594.2 866,594.3 868,594.3 870,594.4 872,594.4 874,594.5 876,594.5 878,594.5 880,594.5 882,594.5 884,594.5 886,594.5 888,594.5 890,594.5 892,594.5 894,594.5 896,594.4 898,594.4 900,594.4 902,594.4 904,594.3 906,594.3 908,594.3 910,594.3 912,594.2 914,594.2 916,594.2"/>
</g>
<g fill="none" stroke="#000" stroke-width="3.4" stroke-linecap="round">
<path d="M177.5,590 C178.5,580.5 192.5,580.5 193.5,590"/>
<path d="M252.5,590 C253.5,581.5 269.5,581.5 270.5,589.5"/>
</g>
<g clip-path="url(#cb)" fill="none" stroke-width="3.4" stroke-linejoin="round" stroke-linecap="round">
<path stroke="#000000" d="M108.5,1198 110.5,1198 112.5,1198 114.5,1198 116.5,1198 118.5,1198 120.5,1198 122.5,1198 124.5,1198 126.5,1198 128.5,1198 130.5,1198 132.5,1198 134.5,1198 136.5,1198 138.5,1198 140.5,1198 142.5,1198 144.5,1198 146.5,1198 148.5,1198 150.5,1198 152.5,1198 154.5,1198 156.5,1198.1 158.5,1198.1 160.5,1198.1 162.5,1198.1 164.5,1198.1 166.5,1198.1 168.5,1198.1 170.5,1198.1 172.5,1198.1 174.5,1198.1 176.5,1198.1 178.5,1198.1 180.5,1198.1 182.5,1198.1 184.5,1198.1 186.5,1198 188.5,1198 190.5,1198 192.5,1198 194.6,1198 196.6,1198 198.6,1198 200.6,1198 202.6,1198 204.6,1198 206.6,1198 208.6,1198 210.6,1198 212.6,1198 214.6,1198 216.6,1198 218.6,1198 220.6,1198 222.6,1198 224.6,1198 226.6,1198 228.6,1198 230.6,1198 232.6,1198 234.6,1197.9 236.6,1197.9 238.6,1197.8 240.6,1197.7 242.6,1197.6 244.6,1197.5 247.1,1197.4 249.1,1197.3 251.1,1197.2 253.1,1197.1 255.1,1196.9 257.1,1196.8 259.1,1196.7 261,1196.5 263,1196.4 265,1196.2 267,1196.1 269,1195.9 271,1195.7 273,1195.5 275,1195.3 277,1195.1 279,1194.9 281,1194.7 283,1194.5 284.9,1194.2 286.9,1194 288.9,1193.7 290.9,1193.4 292.9,1193.1 294.9,1192.8 296.8,1192.5 298.8,1192.1 300.8,1191.7 302.7,1191.4 304.7,1191 306.6,1190.6 308.6,1190.1 310.6,1189.7 312.5,1189.3 314.5,1188.8 316.4,1188.3 318.3,1187.8 320.3,1187.3 322.2,1186.8 324.1,1186.3 326.1,1185.7 328,1185.2 329.9,1184.6 331.8,1184.1 333.7,1183.5 335.6,1182.9 337.5,1182.2 339.4,1181.6 341.3,1181 343.2,1180.3 345.1,1179.6 347,1179 348.9,1178.3 350.7,1177.5 352.6,1176.8 354.5,1176.1 356.3,1175.3 358.2,1174.6 360,1173.8 361.8,1173 363.7,1172.1 365.5,1171.3 367.3,1170.4 369.1,1169.6 370.9,1168.7 372.7,1167.8 374.4,1166.8 376.2,1165.9 377.9,1164.9 379.7,1163.9 381.4,1162.9 383.1,1161.9 384.9,1160.9 386.6,1159.8 388.3,1158.8 389.9,1157.7 391.6,1156.6 393.3,1155.5 395,1154.4 396.6,1153.3 398.2,1152.1 399.9,1150.9 401.5,1149.8 403.1,1148.6 404.7,1147.4 406.3,1146.2 407.9,1144.9 409.4,1143.7 411,1142.4 412.5,1141.1 414,1139.8 415.5,1138.4 417,1137.1 418.4,1135.7 419.8,1134.3 421.3,1132.9 422.6,1131.5 424,1130 425.4,1128.5 426.7,1127 428,1125.5 429.3,1124 430.5,1122.4 431.8,1120.8 433,1119.3 434.2,1117.7 435.4,1116.1 436.6,1114.4 437.7,1112.8 438.9,1111.2 440,1109.5 441.1,1107.9 442.3,1106.2 443.4,1104.5 444.4,1102.8 445.5,1101.2 446.5,1099.4 447.6,1097.7 448.6,1096 449.6,1094.3 450.6,1092.6 451.6,1090.8 452.6,1089.1 453.5,1087.3 454.5,1085.5 455.4,1083.8 456.3,1082 457.3,1080.2 458.2,1078.4 459.1,1076.7 460,1074.9 460.9,1073.1 461.7,1071.3 462.6,1069.5 463.5,1067.7 464.5,1065.4 465.4,1063.6 466.2,1061.8 467,1059.9 467.8,1058.1 468.6,1056.3 469.4,1054.4 470.2,1052.6 470.9,1050.7 471.7,1048.9 472.4,1047 473.2,1045.2 473.9,1043.3 474.6,1041.4 475.3,1039.6 476.1,1037.7 476.8,1035.8 477.5,1034 478.2,1032.1 478.9,1030.2 479.6,1028.4 480.4,1026.5 481.1,1024.6 481.8,1022.7 482.5,1020.9 483.2,1019 483.9,1017.1 484.6,1015.3 485.4,1013.4 486.1,1011.5 486.8,1009.7 487.6,1007.8 488.3,1006 489.1,1004.1 489.9,1002.3 490.7,1000.4 491.5,998.6 492.3,996.8 493,994.9 493.8,993.1 494.6,991.2 495.3,989.4 496,987.5 496.7,985.6 497.4,983.8 498.1,981.9 498.8,980 499.4,978.1 500.1,976.2 500.7,974.3 501.4,972.4 502,970.5 502.6,968.6 503.2,966.7 503.8,964.8 504.5,962.9 505.1,961 505.7,959.1 506.3,957.2 506.9,955.3 507.5,953.4 508.1,951.4 508.7,949.5 509.3,947.6 509.9,945.7 510.5,943.8 511,941.9 511.6,940 512.2,938.1 512.8,936.1 513.3,934.2 513.9,932.3 514.4,930.4 515,928.4 515.5,926.5 516.1,924.6 516.6,922.7 517.1,920.7 517.6,918.8 518.1,916.9 518.6,914.9 519.1,913 519.5,911 520,909.1 520.5,907.1 521,905.2 521.5,903.3 522,901.3 522.6,899.4 523.1,897.5 523.7,895.6 524.3,893.6 524.9,891.7 525.4,889.8 526,887.9 526.6,886 527.3,884.1 527.9,882.2 528.5,880.3 529.1,878.4 529.7,876.5 530.3,874.6 530.9,872.7 531.6,870.8 532.2,868.9 532.8,867 533.4,865.1 534.1,863.2 534.7,861.3 535.3,859.4 536,857.5 536.6,855.6 537.3,853.7 538,851.8 538.6,849.9 539.3,848 540,846.2 540.8,844.3 541.5,842.4 542.2,840.6 543,838.7 543.7,836.9 544.4,835 545.1,833.1 545.8,831.2 546.5,829.4 547.1,827.5 547.8,825.6 548.4,823.7 549.1,821.8 549.9,820 550.7,818.1 551.6,816.4 552.6,814.6 553.6,812.9 554.7,811.2 556.2,809.2 557.5,807.7 558.9,806.3 560.4,805 562.1,803.9 563.8,803.2 565.7,802.8 567.5,803 569.4,803.6 571.1,804.6 572.7,805.7 574.2,807 575.5,808.5 576.8,810.1 577.9,811.7 579,813.4 579.9,815.1 580.8,816.9 581.7,818.7 582.4,820.6 583.1,822.4 583.8,824.3 584.4,826.2 584.9,828.2 585.4,830.1 585.9,832.1 586.2,834 586.6,836 586.9,838 587.2,840 587.5,841.9 587.7,843.9 588,845.9 588.3,847.9 588.6,849.9 588.9,851.8 589.2,853.8 589.5,855.8 589.8,857.8 590.1,859.8 590.4,861.7 590.7,863.7 591,865.7 591.3,867.7 591.6,869.7 591.8,871.6 592.1,873.6 592.4,875.6 592.7,877.6 593,879.5 593.3,881.5 593.6,883.5 593.9,885.5 594.2,887.5 594.5,889.4 594.8,891.4 595.1,893.4 595.4,895.4 595.7,897.4 596,899.3 596.3,901.3 596.6,903.3 596.9,905.3 597.2,907.2 597.5,909.2 597.8,911.2 598.1,913.2 598.4,915.2 598.7,917.1 599,919.1 599.3,921.1 599.6,923.1 599.9,925.1 600.2,927 600.5,929 600.8,931 601.1,933 601.4,934.9 601.7,936.9 602,938.9 602.3,940.9 602.6,942.9 603,944.8 603.3,946.8 603.6,948.8 603.9,950.8 604.2,952.7 604.5,954.7 604.8,956.7 605.1,958.7 605.5,960.7 605.8,962.6 606.1,964.6 606.4,966.6 606.7,968.6 607,970.5 607.3,972.5 607.6,974.5 607.9,976.5 608.2,978.5 608.5,980.4 608.8,982.4 609,984.4 609.3,986.4 609.6,988.4 609.8,990.3 610.1,992.3 610.4,994.3 610.6,996.3 610.9,998.3 611.1,1000.3 611.4,1002.3 611.6,1004.2 611.9,1006.2 612.1,1008.2 612.4,1010.2 612.6,1012.2 612.8,1014.2 613.1,1016.2 613.3,1018.1 613.6,1020.1 613.8,1022.1 614.1,1024.1 614.3,1026.1 614.6,1028.1 614.8,1030.1 615.1,1032 615.3,1034 615.6,1036 615.8,1038 616.1,1040 616.4,1042 616.6,1043.9 616.9,1045.9 617.2,1047.9 617.4,1049.9 617.8,1052.4 618,1054.4 618.3,1056.3 618.6,1058.3 618.8,1060.3 619.1,1062.3 619.3,1064.3 619.6,1066.3 619.9,1068.2 620.1,1070.2 620.4,1072.2 620.6,1074.2 620.9,1076.2 621.2,1078.2 621.4,1080.2 621.7,1082.1 621.9,1084.1 622.2,1086.1 622.5,1088.1 622.8,1090.1 623,1092.1 623.3,1094 623.6,1096 623.9,1098 624.2,1100 624.5,1101.9 624.8,1103.9 625.2,1105.9 625.5,1107.9 625.8,1109.8 626.2,1111.8 626.6,1113.8 626.9,1115.7 627.3,1117.7 627.8,1119.7 628.2,1121.6 628.6,1123.6 629.1,1125.5 629.6,1127.5 630,1129.4 630.5,1131.3 631,1133.3 631.6,1135.2 632.1,1137.1 632.7,1139.1 633.2,1141 633.8,1142.9 634.4,1144.8 635.1,1146.7 635.7,1148.6 636.4,1150.5 637.1,1152.3 637.9,1154.2 638.6,1156 639.4,1157.9 640.2,1159.7 641,1161.5 641.9,1163.4 642.8,1165.2 643.7,1166.9 644.7,1168.7 645.7,1170.4 646.9,1172 648.1,1173.6 649.4,1175.1 650.8,1176.5 652.3,1177.8 653.9,1179 655.6,1180.1 657.3,1181.2 659,1182.1 660.8,1183 662.7,1183.7 664.6,1184.4 666.5,1184.9 668.4,1185.4 670.4,1185.7 672.4,1186 674.4,1186.2 676.3,1186.4 678.3,1186.4 680.3,1186.5 682.3,1186.4 684.3,1186.3 686.3,1186.2 688.3,1186 690.3,1185.8 692.3,1185.5 694.3,1185.2 696.2,1184.8 698.2,1184.4 700.1,1183.9 702.1,1183.4 704,1182.9 705.9,1182.2 707.8,1181.6 709.7,1180.9 711.5,1180.2 713.4,1179.5 715.3,1178.8 717.2,1178.1 719,1177.4 720.9,1176.7 722.8,1176 724.6,1175.2 726.5,1174.5 728.4,1173.8 730.2,1173.1 732.1,1172.4 734,1171.7 735.9,1171.2 737.9,1170.6 739.8,1170.2 741.7,1169.7 743.7,1169.3 745.7,1168.9 747.6,1168.6 749.6,1168.2 751.6,1167.9 753.6,1167.6 755.6,1167.4 757.5,1167.2 759.5,1167 761.5,1166.9 763.5,1166.9 765.5,1166.9 767.5,1167.1 769.5,1167.3 771.4,1167.7 773.4,1168.3 775.2,1169 777,1169.8 778.8,1170.8 780.5,1171.8 782.1,1173 783.6,1174.3 785.5,1175.9 787,1177.3 788.5,1178.6 789.9,1180 791.5,1181.3 793,1182.6 794.6,1183.8 796.2,1184.9 797.9,1186 799.7,1187 801.4,1187.9 803.2,1188.8 805,1189.7 806.8,1190.5 808.7,1191.3 810.5,1192 812.4,1192.6 814.3,1193.3 816.2,1193.8 818.2,1194.4 820.1,1194.8 822.1,1195.3 824,1195.6 826,1195.9 828,1196.2 830,1196.4 832,1196.6 834,1196.7 836,1196.8 838,1196.9 840,1197 842,1197.1 844,1197.1 846,1197.2 848,1197.2 850,1197.2 852,1197.3 854,1197.3 856,1197.4 858,1197.4 860,1197.5 862,1197.6 864,1197.6 866,1197.7 868,1197.8 870,1197.8 872,1197.9 874,1197.9 876,1198 878,1198 880,1198 882,1198.1 884,1198.1 886,1198.1 888,1198.1 890,1198.2 892,1198.2 894,1198.2 896,1198.2 898,1198.3 900,1198.3 902,1198.3 904,1198.3 906,1198.4 908,1198.4 910,1198.4 912,1198.4 914,1198.5 916,1198.5"/>
<path stroke="#ff0000" d="M108.5,1197.5 110.5,1197.5 112.5,1197.5 114.5,1197.5 116.5,1197.5 118.5,1197.6 120.5,1197.6 122.5,1197.6 124.5,1197.6 126.5,1197.6 128.5,1197.6 130.5,1197.6 132.5,1197.6 134.5,1197.7 136.5,1197.7 138.5,1197.7 140.5,1197.7 142.5,1197.7 144.5,1197.7 146.5,1197.7 148.5,1197.7 150.5,1197.8 152.5,1197.8 154.5,1197.8 156.5,1197.8 158.5,1197.8 160.5,1197.8 162.5,1197.8 164.5,1197.8 166.5,1197.8 168.5,1197.9 170.5,1197.9 172.5,1197.9 174.5,1197.9 176.5,1197.9 178.5,1197.9 180.5,1197.9 182.5,1197.9 184.5,1197.9 186.5,1198 188.5,1198 190.5,1198 192.5,1198 194.5,1198 196.5,1198 198.5,1198 200.5,1198 202.5,1198 204.6,1198 206.6,1198 208.6,1198 210.6,1198.1 212.6,1198.1 214.6,1198.1 216.6,1198.1 218.6,1198.1 220.6,1198.1 222.6,1198.1 224.6,1198.1 226.6,1198.1 228.6,1198.2 230.6,1198.2 232.6,1198.1 234.6,1198.1 236.6,1198.1 238.6,1198.1 240.6,1198.1 242.6,1198.1 244.6,1198 246.6,1198 248.6,1197.9 250.6,1197.9 252.6,1197.8 254.6,1197.8 256.6,1197.7 258.6,1197.7 260.6,1197.6 262.6,1197.5 264.6,1197.5 266.6,1197.4 268.6,1197.3 270.6,1197.2 272.6,1197.1 274.6,1197.1 276.6,1197 278.6,1196.9 280.6,1196.8 282.6,1196.6 284.6,1196.5 286.6,1196.4 288.6,1196.3 290.6,1196.1 292.5,1196 294.5,1195.8 296.5,1195.7 298.5,1195.5 300.5,1195.4 302.5,1195.2 304.5,1195 306.5,1194.8 308.5,1194.6 310.5,1194.4 312.5,1194.1 314.5,1193.9 316.4,1193.6 318.4,1193.3 320.4,1192.9 322.4,1192.6 324.3,1192.2 326.3,1191.9 328.3,1191.5 330.2,1191.2 332.2,1190.8 334.2,1190.4 336.1,1190 338.1,1189.6 340,1189.2 342,1188.7 343.9,1188.3 346.3,1187.6 348.3,1187.1 350.2,1186.5 352.1,1185.9 354,1185.3 355.9,1184.7 357.8,1184 359.6,1183.3 361.5,1182.5 363.4,1181.8 365.2,1181 367,1180.2 368.8,1179.3 370.7,1178.5 372.5,1177.6 374.3,1176.7 376,1175.8 377.8,1174.9 379.6,1174 381.4,1173.1 383.1,1172.1 384.9,1171.1 386.6,1170.1 388.3,1169.1 390.1,1168.1 391.8,1167.1 393.5,1166 395.2,1165 396.9,1163.9 398.5,1162.8 400.2,1161.7 401.9,1160.6 403.5,1159.4 405.1,1158.3 406.7,1157.1 408.3,1155.9 409.9,1154.7 411.5,1153.4 413.1,1152.2 414.6,1150.9 416.2,1149.7 417.7,1148.4 419.2,1147.1 420.7,1145.7 422.2,1144.4 423.7,1143 425.1,1141.7 426.6,1140.3 428,1138.9 429.4,1137.5 430.8,1136 432.2,1134.6 433.6,1133.1 434.9,1131.6 436.3,1130.2 437.6,1128.7 438.9,1127.1 440.2,1125.6 441.4,1124 442.7,1122.5 443.9,1120.9 445.1,1119.3 446.3,1117.7 447.4,1116 448.5,1114.4 449.6,1112.7 450.7,1111 451.8,1109.3 452.8,1107.6 453.9,1105.9 454.9,1104.2 455.9,1102.5 456.9,1100.7 457.9,1099 458.8,1097.2 459.8,1095.5 460.7,1093.7 461.7,1092 462.6,1090.2 463.6,1088.4 464.5,1086.6 465.4,1084.9 466.3,1083.1 467.2,1081.3 468.1,1079.5 468.9,1077.7 469.8,1075.9 470.6,1074 471.4,1072.2 472.2,1070.4 473,1068.6 473.8,1066.7 474.6,1064.9 475.4,1063 476.2,1061.2 477,1059.4 477.8,1057.5 478.5,1055.7 479.3,1053.8 480,1052 480.8,1050.1 481.6,1048.3 482.3,1046.4 483.1,1044.6 483.8,1042.7 484.6,1040.8 485.3,1039 486.1,1037.1 486.8,1035.3 487.6,1033.4 488.4,1031.6 489.1,1029.7 489.9,1027.9 490.6,1026 491.4,1024.2 492.1,1022.3 492.9,1020.4 493.6,1018.6 494.3,1016.7 495,1014.9 495.8,1013 496.5,1011.1 497.2,1009.3 497.9,1007.4 498.6,1005.5 499.3,1003.6 500,1001.8 500.7,999.9 501.4,998 502.1,996.1 502.8,994.2 503.4,992.4 504.1,990.5 504.8,988.6 505.4,986.7 506.1,984.8 506.8,982.9 507.4,981 508.1,979.1 508.7,977.2 509.3,975.3 510,973.4 510.6,971.5 511.2,969.6 511.9,967.7 512.5,965.8 513.1,963.9 513.7,962 514.3,960.1 514.9,958.2 515.5,956.3 516.1,954.4 516.7,952.5 517.3,950.6 517.9,948.7 518.5,946.8 519.1,944.9 519.7,942.9 520.2,941 520.8,939.1 521.4,937.2 521.9,935.3 522.5,933.3 523,931.4 523.6,929.5 524.1,927.6 524.7,925.6 525.2,923.7 525.8,921.8 526.3,919.9 526.8,917.9 527.4,916 527.9,914.1 528.4,912.1 528.9,910.2 529.4,908.3 530,906.3 530.5,904.4 531,902.5 531.6,900.5 532.1,898.6 532.6,896.7 533.2,894.8 533.8,892.9 534.3,890.9 534.9,889 535.4,887.1 536,885.2 536.6,883.3 537.2,881.3 537.7,879.4 538.3,877.5 538.9,875.6 539.4,873.7 540,871.7 540.6,869.8 541.1,867.9 541.7,866 542.3,864.1 542.9,862.2 543.4,860.2 544,858.3 544.6,856.4 545.1,854.5 545.7,852.6 546.2,850.6 546.7,848.7 547.2,846.8 547.7,844.8 548.2,842.9 548.6,840.9 549.1,839 549.6,837 550.1,835.1 550.7,833.2 551.2,831.3 551.8,829.3 552.4,827.4 552.9,825.5 553.5,823.6 554.1,821.7 554.7,819.8 555.3,817.9 555.9,816 556.5,814.1 557.2,812.2 557.8,810.3 558.5,808.4 559.2,806.5 559.9,804.6 560.6,802.7 561.3,800.9 562,799 562.7,797.1 563.5,795.3 564.5,793 565.3,791.2 566.1,789.4 567,787.6 567.9,785.8 568.9,784 569.9,782.3 571,780.6 572.2,779.1 573.6,777.7 575.2,776.5 576.9,775.6 578.8,775.2 580.6,775.2 582.4,775.8 584,776.8 585.5,778.1 586.8,779.6 587.9,781.2 588.9,783 589.8,784.8 590.6,786.6 591.4,788.4 592.2,790.2 593,792.1 593.7,794 594.4,795.8 595.1,797.7 595.7,799.6 596.4,801.5 597,803.4 597.6,805.3 598.2,807.2 598.8,809.1 599.4,811.1 599.9,813 600.4,814.9 600.9,816.8 601.4,818.8 601.9,820.7 602.3,822.7 602.8,824.6 603.2,826.6 603.6,828.6 604,830.5 604.4,832.5 604.7,834.4 605.1,836.4 605.4,838.4 605.8,840.4 606.1,842.3 606.4,844.3 606.7,846.3 607,848.3 607.3,850.2 607.6,852.2 607.9,854.2 608.1,856.2 608.4,858.2 608.6,860.2 608.9,862.2 609.1,864.1 609.3,866.1 609.6,868.1 609.8,870.1 610.1,872.1 610.3,874.1 610.6,876.1 610.8,878 611.1,880 611.3,882 611.6,884 611.8,886 612.1,888 612.3,890 612.6,891.9 612.8,893.9 613.1,895.9 613.3,897.9 613.5,899.9 613.8,901.9 614,903.9 614.3,905.8 614.5,907.8 614.7,909.8 615,911.8 615.2,913.8 615.4,915.8 615.7,917.8 615.9,919.8 616.1,921.7 616.4,923.7 616.6,925.7 616.8,927.7 617,929.7 617.2,931.7 617.4,933.7 617.6,935.7 617.8,937.7 618.1,939.6 618.3,941.6 618.5,943.6 618.7,945.6 618.9,947.6 619.1,949.6 619.2,951.6 619.4,953.6 619.6,955.6 619.8,957.6 620,959.6 620.2,961.6 620.4,963.5 620.6,965.5 620.8,967.5 621,969.5 621.2,971.5 621.4,973.5 621.6,975.5 621.8,977.5 622,979.5 622.2,981.5 622.5,983.5 622.7,985.4 622.9,987.4 623.1,989.4 623.3,991.4 623.5,993.4 623.7,995.4 623.9,997.4 624.1,999.4 624.3,1001.4 624.5,1003.4 624.7,1005.3 624.9,1007.3 625.1,1009.3 625.3,1011.3 625.5,1013.3 625.7,1015.3 626,1017.3 626.2,1019.3 626.4,1021.3 626.6,1023.3 626.8,1025.2 627,1027.2 627.3,1029.2 627.5,1031.2 627.7,1033.2 627.9,1035.2 628.2,1037.2 628.4,1039.2 628.6,1041.2 628.9,1043.1 629.1,1045.1 629.4,1047.1 629.6,1049.1 629.9,1051.1 630.1,1053.1 630.4,1055 630.6,1057 630.9,1059 631.2,1061 631.4,1063 631.7,1065 631.9,1067 632.2,1068.9 632.4,1070.9 632.7,1072.9 632.9,1074.9 633.2,1076.9 633.4,1078.9 633.7,1080.9 634,1082.8 634.2,1084.8 634.5,1086.8 634.8,1088.8 635.1,1090.8 635.3,1092.7 635.6,1094.7 635.9,1096.7 636.2,1098.7 636.6,1100.7 636.9,1102.6 637.2,1104.6 637.6,1106.6 637.9,1108.5 638.3,1110.5 638.6,1112.5 639,1114.4 639.4,1116.4 639.9,1118.4 640.3,1120.3 640.8,1122.3 641.2,1124.2 641.7,1126.2 642.2,1128.1 642.7,1130 643.2,1132 643.7,1133.9 644.2,1135.8 644.8,1137.7 645.4,1139.7 645.9,1141.6 646.5,1143.5 647.2,1145.4 647.8,1147.3 648.5,1149.2 649.1,1151.1 649.9,1152.9 650.6,1154.8 651.4,1156.6 652.2,1158.5 653,1160.3 653.9,1162.1 654.8,1163.8 655.8,1165.6 656.8,1167.3 657.9,1169 659.1,1170.6 660.3,1172.2 661.6,1173.7 663,1175.1 664.5,1176.5 666,1177.7 667.6,1178.9 669.3,1180.1 671,1181.1 672.7,1182.1 674.5,1183 676.3,1183.8 678.2,1184.6 680.1,1185.2 682,1185.7 683.9,1186.1 685.9,1186.4 687.9,1186.6 689.9,1186.6 691.9,1186.6 694.4,1186.5 696.4,1186.4 698.4,1186.2 700.4,1185.9 702.3,1185.6 704.3,1185.1 706.2,1184.7 708.2,1184.1 710.1,1183.5 712,1182.9 713.9,1182.3 715.7,1181.6 717.6,1180.9 719.5,1180.2 721.4,1179.4 723.2,1178.7 725,1177.9 726.9,1177 728.7,1176.2 730.5,1175.3 732.3,1174.5 734.1,1173.6 735.9,1172.8 737.7,1172 739.6,1171.2 741.4,1170.4 743.3,1169.7 745.1,1169 747,1168.2 748.9,1167.5 750.8,1166.8 752.6,1166.1 754.5,1165.5 756.4,1164.9 758.4,1164.3 760.3,1163.8 762.2,1163.4 764.2,1163 766.2,1162.6 768.1,1162.2 770.1,1162 772.1,1161.8 774.1,1161.8 776.1,1161.9 778,1162.3 779.9,1162.8 781.8,1163.6 783.5,1164.5 785.3,1165.5 786.9,1166.6 788.6,1167.8 790.2,1169 791.8,1170.1 793.4,1171.3 795,1172.5 796.7,1173.6 798.4,1174.7 800,1175.8 801.7,1176.9 803.3,1178 805,1179.2 806.6,1180.3 808.3,1181.5 810,1182.6 811.7,1183.6 813.4,1184.6 815.1,1185.6 816.9,1186.4 818.8,1187.2 820.6,1187.9 822.5,1188.6 824.4,1189.2 826.4,1189.7 828.3,1190.2 830.3,1190.6 832.2,1191 834.2,1191.4 836.2,1191.7 838.1,1192 840.1,1192.3 842.1,1192.6 844.1,1192.8 846.1,1193.1 848.1,1193.3 850.1,1193.5 852,1193.7 854,1193.8 856,1194 858,1194.2 860,1194.4 862,1194.5 864,1194.7 866,1194.9 868,1195 870,1195.2 872,1195.3 874,1195.4 876,1195.6 878,1195.6 880,1195.7 882,1195.8 884,1195.8 886,1195.9 888,1195.9 890,1195.9 892,1196 894,1196 896,1196 898,1196 900,1196 902,1196 904,1196 906,1196.1 908,1196.1 910,1196.1 912,1196.1 914,1196.2 916,1196.2"/>
<path stroke="#0000ff" d="M108.5,1196.5 110.5,1196.5 112.5,1196.5 114.5,1196.5 116.5,1196.5 118.5,1196.6 120.5,1196.6 122.5,1196.6 124.5,1196.6 126.5,1196.6 128.5,1196.6 130.5,1196.6 132.5,1196.6 134.5,1196.7 136.5,1196.7 138.5,1196.7 140.5,1196.7 142.5,1196.7 144.5,1196.7 146.5,1196.7 148.5,1196.7 150.5,1196.8 152.5,1196.8 154.5,1196.8 156.5,1196.8 158.5,1196.8 160.5,1196.8 162.5,1196.8 164.5,1196.8 166.5,1196.8 168.5,1196.9 170.5,1196.9 172.5,1196.9 174.5,1196.9 176.5,1196.9 178.5,1196.9 180.5,1196.9 182.5,1196.9 184.5,1196.9 186.5,1197 188.5,1197 190.5,1197 192.5,1197 194.6,1197 196.6,1197 198.6,1197 200.6,1197 202.6,1197 204.6,1197 206.6,1197 208.6,1197 210.6,1197.1 212.6,1197.1 214.6,1197.1 216.6,1197.1 218.6,1197.1 220.6,1197.1 222.6,1197.1 224.6,1197.1 226.6,1197.1 228.6,1197.2 230.6,1197.2 232.6,1197.1 234.6,1197.1 236.6,1197.1 238.6,1197.1 240.6,1197.1 242.6,1197.1 244.6,1197 246.6,1197 248.6,1196.9 250.6,1196.9 252.6,1196.8 254.6,1196.8 256.6,1196.7 258.6,1196.6 260.6,1196.5 262.6,1196.5 264.6,1196.4 266.6,1196.3 268.6,1196.2 270.6,1196.1 272.6,1196.1 274.6,1196 276.6,1195.9 278.6,1195.8 280.6,1195.7 282.6,1195.6 284.6,1195.5 286.6,1195.4 288.6,1195.2 290.6,1195.1 292.6,1195 294.6,1194.9 296.6,1194.7 298.5,1194.5 300.5,1194.2 302.5,1193.9 304.5,1193.5 306.4,1193.2 308.4,1192.8 310.4,1192.4 312.3,1192 314.3,1191.6 316.3,1191.2 318.2,1190.8 320.2,1190.4 322.1,1190 324.1,1189.6 326,1189.1 328.5,1188.6 330.4,1188.1 332.4,1187.6 334.3,1187.2 336.3,1186.7 338.2,1186.2 340.1,1185.8 342.1,1185.3 344,1184.9 346,1184.4 347.9,1184 349.9,1183.5 351.8,1183 353.8,1182.5 355.7,1182 357.6,1181.4 359.5,1180.8 361.4,1180.2 363.3,1179.5 365.2,1178.8 367,1178.1 368.9,1177.3 370.7,1176.5 372.5,1175.6 374.3,1174.7 376.1,1173.8 377.9,1172.9 379.6,1171.9 381.4,1171 383.1,1170 384.8,1169 386.6,1167.9 388.3,1166.9 390,1165.8 391.7,1164.8 393.3,1163.7 395,1162.6 396.7,1161.5 398.3,1160.4 400,1159.2 401.6,1158.1 403.3,1156.9 404.9,1155.8 406.5,1154.6 408.1,1153.4 409.7,1152.2 411.3,1151 412.9,1149.7 414.4,1148.5 416,1147.2 417.5,1145.9 419,1144.6 420.5,1143.3 422,1141.9 423.4,1140.5 424.8,1139.1 426.2,1137.7 427.6,1136.2 429,1134.7 430.3,1133.2 431.6,1131.7 432.9,1130.2 434.2,1128.7 435.5,1127.2 436.8,1125.6 438,1124.1 439.3,1122.5 440.6,1121 441.9,1119.5 443.2,1117.9 444.4,1116.4 445.7,1114.9 447,1113.3 448.3,1111.8 449.5,1110.2 450.8,1108.6 452,1107.1 453.2,1105.5 454.4,1103.9 455.6,1102.3 456.8,1100.7 458,1099 459.1,1097.4 460.2,1095.7 461.4,1094.1 462.5,1092.4 463.5,1090.7 464.6,1089 465.6,1087.3 466.6,1085.6 467.6,1083.8 468.6,1082.1 469.6,1080.3 470.5,1078.6 471.5,1076.8 472.4,1075 473.3,1073.3 474.2,1071.5 475.1,1069.7 476,1067.9 476.9,1066.1 477.7,1064.3 478.6,1062.5 479.4,1060.7 480.3,1058.9 481.1,1057 482,1055.2 482.8,1053.4 483.6,1051.6 484.5,1049.8 485.3,1047.9 486.1,1046.1 487,1044.3 487.8,1042.5 488.6,1040.7 489.4,1038.8 490.2,1037 491,1035.1 491.8,1033.3 492.6,1031.5 493.3,1029.6 494.1,1027.8 494.8,1025.9 495.6,1024.1 496.4,1022.2 497.1,1020.3 497.8,1018.5 498.6,1016.6 499.3,1014.8 500,1012.9 500.8,1011 501.5,1009.2 502.2,1007.3 502.9,1005.4 503.7,1003.6 504.4,1001.7 505.1,999.8 505.8,998 506.6,996.1 507.3,994.3 508,992.4 508.7,990.5 509.5,988.7 510.2,986.8 510.9,984.9 511.6,983 512.3,981.2 513,979.3 513.7,977.4 514.4,975.6 515.1,973.7 515.8,971.8 516.5,969.9 517.2,968 517.9,966.2 518.6,964.3 519.3,962.4 520,960.5 520.6,958.7 521.3,956.8 522,954.9 522.7,953 523.4,951.1 524,949.2 524.7,947.4 525.4,945.5 526.1,943.6 526.7,941.7 527.4,939.8 528.1,937.9 528.7,936 529.4,934.1 530,932.2 530.6,930.3 531.3,928.4 531.9,926.5 532.5,924.6 533.1,922.7 533.6,920.8 534.2,918.9 534.7,917 535.3,915 535.8,913.1 536.3,911.2 536.9,909.2 537.4,907.3 537.9,905.4 538.5,903.5 539.1,901.5 539.6,899.6 540.2,897.7 540.8,895.8 541.4,893.9 542,892 542.6,890.1 543.2,888.2 543.8,886.3 544.5,884.4 545.1,882.5 545.8,880.6 546.6,878.7 547.3,876.9 548.1,875 548.9,873.2 549.7,871.4 550.5,869.5 551.3,867.7 552,865.8 552.8,864 553.6,862.1 554.3,860.3 555.1,858.5 555.9,856.6 556.8,854.8 557.7,853 558.6,851.2 559.5,849.5 560.4,847.7 561.5,845.4 562.4,843.6 563.2,841.8 564.1,840 565,838.3 566,836.5 567.1,834.8 568.3,833.2 569.6,831.7 571,830.3 572.5,829.1 574.2,828.2 576.1,827.5 578,827.3 579.9,827.5 581.7,828.1 583.4,829.1 584.9,830.3 586.2,831.8 587.3,833.4 588.4,835.1 589.4,836.9 590.3,838.7 591.1,840.5 591.9,842.3 592.6,844.2 593.2,846.1 593.7,848 594.2,850 594.6,851.9 595,853.9 595.4,855.9 595.7,857.8 596.1,859.8 596.4,861.8 596.8,863.7 597.1,865.7 597.4,867.7 597.8,869.7 598.1,871.6 598.5,873.6 598.9,875.6 599.2,877.5 599.6,879.5 600,881.4 600.4,883.4 600.8,885.4 601.2,887.3 601.6,889.3 602,891.3 602.4,893.2 602.8,895.2 603.2,897.1 603.6,899.1 604,901.1 604.4,903 604.8,905 605.2,907 605.5,908.9 605.9,910.9 606.3,912.9 606.6,914.8 607,916.8 607.3,918.8 607.6,920.7 607.9,922.7 608.3,924.7 608.6,926.7 608.9,928.6 609.2,930.6 609.5,932.6 609.8,934.6 610.1,936.6 610.4,938.5 610.7,940.5 610.9,942.5 611.2,944.5 611.5,946.5 611.8,948.4 612.1,950.4 612.3,952.4 612.6,954.4 612.9,956.4 613.2,958.4 613.4,960.3 613.7,962.3 613.9,964.3 614.2,966.3 614.4,968.3 614.7,970.3 614.9,972.3 615.2,974.2 615.4,976.2 615.7,978.2 615.9,980.2 616.2,982.2 616.4,984.2 616.6,986.2 616.9,988.1 617.1,990.1 617.4,992.1 617.6,994.1 617.8,996.1 618.1,998.1 618.3,1000.1 618.5,1002.1 618.8,1004 619,1006 619.3,1008 619.5,1010 619.7,1012 620,1014 620.2,1016 620.5,1017.9 620.7,1019.9 620.9,1021.9 621.2,1023.9 621.4,1025.9 621.6,1027.9 621.9,1029.9 622.1,1031.9 622.4,1033.8 622.6,1035.8 622.9,1037.8 623.1,1039.8 623.4,1041.8 623.6,1043.8 623.9,1045.8 624.1,1047.7 624.4,1049.7 624.7,1051.7 624.9,1053.7 625.2,1055.7 625.5,1057.7 625.7,1059.6 626,1061.6 626.2,1063.6 626.5,1065.6 626.7,1067.6 627,1069.6 627.3,1071.6 627.5,1073.5 627.8,1075.5 628,1077.5 628.3,1079.5 628.6,1081.5 628.8,1083.5 629.1,1085.4 629.4,1087.4 629.6,1089.4 629.9,1091.4 630.2,1093.4 630.5,1095.3 630.8,1097.3 631.1,1099.3 631.4,1101.3 631.7,1103.3 632.1,1105.2 632.4,1107.2 632.7,1109.2 633.1,1111.1 633.4,1113.1 633.8,1115.1 634.2,1117 634.6,1119 635,1121 635.5,1122.9 635.9,1124.9 636.4,1126.8 636.8,1128.8 637.3,1130.7 637.8,1132.6 638.3,1134.6 638.8,1136.5 639.3,1138.4 639.9,1140.4 640.4,1142.3 641,1144.2 641.7,1146.1 642.3,1148 643,1149.9 643.8,1151.7 644.5,1153.6 645.3,1155.4 646.2,1157.2 647.1,1159 647.9,1160.8 648.8,1162.6 649.8,1164.4 650.8,1166.1 651.8,1167.8 652.9,1169.5 654,1171.1 655.3,1172.7 656.6,1174.2 658,1175.6 659.5,1176.9 661.1,1178.1 662.8,1179.1 664.6,1180 666.4,1180.8 668.3,1181.5 670.2,1182.1 672.2,1182.6 674.1,1183 676.1,1183.4 678,1183.8 680,1184 682,1184.3 684,1184.4 686,1184.4 688,1184.3 690,1184.2 692,1184 694,1183.8 695.9,1183.5 697.9,1183.3 699.9,1183 701.9,1182.8 704.4,1182.4 706.4,1182.2 708.3,1181.9 710.3,1181.6 712.3,1181.3 714.3,1180.9 716.2,1180.6 718.2,1180.2 720.2,1179.9 722.1,1179.5 724.1,1179.1 726.1,1178.7 728,1178.3 730,1177.9 731.9,1177.4 733.9,1177 735.8,1176.5 737.7,1175.9 739.7,1175.4 741.6,1174.9 743.5,1174.4 745.5,1173.8 747.4,1173.3 749.3,1172.8 751.3,1172.3 753.2,1171.9 755.2,1171.5 757.2,1171.1 759.1,1170.8 761.1,1170.5 763.1,1170.4 765.1,1170.2 767.1,1170.2 769.1,1170.2 771.1,1170.3 773.1,1170.5 775,1170.8 777,1171.3 778.9,1171.9 780.8,1172.5 782.6,1173.3 784.4,1174.2 786.1,1175.2 787.9,1176.2 789.6,1177.2 791.3,1178.3 793,1179.4 794.7,1180.4 796.4,1181.5 798.1,1182.5 799.8,1183.5 801.5,1184.5 803.3,1185.5 805.1,1186.3 806.9,1187.2 808.8,1187.9 810.7,1188.6 812.6,1189.2 814.5,1189.8 816.4,1190.3 818.3,1190.9 820.3,1191.3 822.2,1191.8 824.2,1192.2 826.2,1192.5 828.1,1192.9 830.1,1193.2 832.1,1193.5 834.1,1193.8 836,1194.1 838,1194.3 840,1194.6 842,1194.8 844,1195 846,1195.2 848,1195.4 850,1195.5 852,1195.6 854,1195.8 856,1195.9 858,1195.9 860,1196 862,1196.1 864,1196.1 866,1196.2 868,1196.2 870,1196.2 872,1196.2 874,1196.2 876,1196.2 878,1196.2 880,1196.2 882,1196.2 884,1196.2 886,1196.2 888,1196.2 890,1196.2 892,1196.2 894,1196.2 896,1196.1 898,1196.1 900,1196.1 902,1196.1 904,1196.1 906,1196.1 908,1196.1 910,1196.1 912,1196.2 914,1196.2 916,1196.2"/>
<path stroke="#008000" d="M108.5,1198.6 110.5,1198.6 112.5,1198.6 114.5,1198.6 116.5,1198.6 118.5,1198.6 120.5,1198.6 122.5,1198.6 124.5,1198.6 126.5,1198.6 128.5,1198.6 130.5,1198.6 132.5,1198.6 134.5,1198.6 136.5,1198.6 138.5,1198.7 140.5,1198.7 142.5,1198.7 144.5,1198.7 146.5,1198.7 148.5,1198.7 150.5,1198.7 152.5,1198.7 154.5,1198.7 156.5,1198.7 158.5,1198.7 160.5,1198.7 162.5,1198.7 164.5,1198.7 166.5,1198.7 168.5,1198.7 170.5,1198.7 172.5,1198.7 174.5,1198.7 176.5,1198.7 178.5,1198.7 180.5,1198.7 182.5,1198.7 184.5,1198.7 186.5,1198.7 188.5,1198.7 190.5,1198.7 192.5,1198.6 194.5,1198.6 196.5,1198.6 198.5,1198.6 200.5,1198.6 202.5,1198.6 204.5,1198.6 206.6,1198.5 208.6,1198.5 210.6,1198.5 212.6,1198.5 214.6,1198.5 216.6,1198.5 218.6,1198.5 220.6,1198.4 222.6,1198.4 224.6,1198.4 226.6,1198.4 228.6,1198.3 230.6,1198.3 232.6,1198.2 234.6,1198.2 236.6,1198.1 238.6,1198 240.6,1197.9 242.6,1197.9 244.6,1197.8 246.6,1197.6 248.6,1197.5 250.6,1197.4 252.5,1197.3 254.5,1197.2 256.5,1197 258.5,1196.9 260.5,1196.7 262.5,1196.6 264.5,1196.4 266.5,1196.3 268.5,1196.1 270.5,1195.9 272.5,1195.7 274.5,1195.5 276.5,1195.3 278.5,1195.1 280.5,1194.9 282.4,1194.7 284.4,1194.5 286.4,1194.2 288.4,1194 290.9,1193.6 292.9,1193.3 294.8,1193 296.8,1192.7 298.8,1192.4 300.8,1192.1 302.7,1191.7 304.7,1191.4 306.7,1191 308.6,1190.6 310.6,1190.2 312.6,1189.8 314.5,1189.4 316.5,1189 318.4,1188.6 320.4,1188.1 322.3,1187.7 324.3,1187.2 326.2,1186.7 328.2,1186.2 330.1,1185.7 332,1185.2 333.9,1184.7 335.9,1184.1 337.8,1183.5 339.7,1182.8 341.6,1182.2 343.5,1181.5 345.3,1180.9 347.2,1180.2 349.1,1179.5 351,1178.9 352.9,1178.2 354.8,1177.5 356.7,1176.9 358.5,1176.2 360.4,1175.5 362.3,1174.8 364.1,1174 366,1173.3 367.9,1172.6 369.7,1171.8 371.6,1171 373.4,1170.2 375.2,1169.4 377,1168.5 378.8,1167.6 380.6,1166.7 382.4,1165.8 384.1,1164.8 385.9,1163.8 387.6,1162.8 389.3,1161.8 391,1160.8 392.7,1159.7 394.4,1158.7 396.1,1157.6 397.8,1156.5 399.4,1155.4 401.1,1154.3 402.7,1153.1 404.4,1151.9 406,1150.7 407.6,1149.5 409.1,1148.3 410.7,1147.1 412.3,1145.8 413.8,1144.5 415.3,1143.2 416.8,1141.9 418.2,1140.5 419.7,1139.1 421.1,1137.7 422.5,1136.2 423.8,1134.7 425.1,1133.3 426.4,1131.7 427.7,1130.2 429,1128.6 430.2,1127.1 431.4,1125.5 432.7,1123.9 433.9,1122.3 435,1120.7 436.2,1119.1 437.4,1117.4 438.6,1115.8 439.7,1114.2 440.9,1112.6 442.1,1110.9 443.2,1109.3 444.4,1107.7 445.5,1106 446.7,1104.4 447.8,1102.7 448.9,1101.1 450,1099.4 451.1,1097.7 452.2,1096 453.3,1094.4 454.3,1092.7 455.4,1091 456.4,1089.3 457.4,1087.5 458.5,1085.8 459.5,1084.1 460.5,1082.3 461.4,1080.6 462.4,1078.9 463.4,1077.1 464.3,1075.3 465.2,1073.5 466.1,1071.8 467,1070 467.9,1068.2 468.7,1066.3 469.5,1064.5 470.4,1062.7 471.2,1060.9 472,1059 472.8,1057.2 473.6,1055.4 474.4,1053.5 475.1,1051.7 475.9,1049.8 476.7,1048 477.5,1046.1 478.2,1044.3 479,1042.4 479.7,1040.6 480.5,1038.7 481.3,1036.9 482,1035 482.8,1033.2 483.5,1031.3 484.3,1029.5 485.1,1027.7 485.9,1025.8 486.7,1024 487.5,1022.1 488.3,1020.3 489.1,1018.5 489.9,1016.7 490.7,1014.8 491.6,1013 492.4,1011.2 493.3,1009.4 494.1,1007.6 494.9,1005.8 495.8,1003.9 496.6,1002.1 497.3,1000.3 498.1,998.4 498.9,996.6 499.6,994.7 500.3,992.8 501,991 501.7,989.1 502.4,987.2 503.1,985.3 503.7,983.4 504.4,981.5 505,979.6 505.7,977.7 506.3,975.8 506.9,973.9 507.5,972 508.1,970.1 508.8,968.2 509.4,966.3 510,964.4 510.6,962.5 511.2,960.6 511.8,958.7 512.4,956.8 513,954.9 513.6,953 514.2,951.1 514.8,949.1 515.4,947.2 516,945.3 516.5,943.4 517.2,941 517.8,939.1 518.4,937.2 518.9,935.2 519.5,933.3 520,931.4 520.6,929.5 521.1,927.5 521.7,925.6 522.2,923.7 522.8,921.8 523.3,919.8 523.8,917.9 524.4,916 524.9,914.1 525.4,912.1 525.9,910.2 526.5,908.3 527,906.3 527.5,904.4 528.1,902.5 528.6,900.6 529.2,898.6 529.8,896.7 530.4,894.8 531,892.9 531.6,891 532.2,889.1 532.9,887.2 533.5,885.3 534.1,883.4 534.7,881.5 535.3,879.6 535.9,877.7 536.4,875.7 537,873.8 537.5,871.9 538.1,870 538.6,868 539.1,866.1 539.6,864.2 540.1,862.2 540.7,860.3 541.2,858.4 541.7,856.4 542.2,854.5 542.7,852.6 543.2,850.6 543.7,848.7 544.3,846.8 544.8,844.8 545.3,842.9 545.8,841 546.3,839 546.8,837.1 547.3,835.2 547.9,833.2 548.4,831.3 548.9,829.4 549.5,827.4 550.1,825.5 550.6,823.6 551.2,821.7 551.9,819.8 552.5,817.9 553.1,816 553.7,814.1 554.4,812.2 555,810.3 555.7,808.4 556.3,806.5 557,804.6 557.6,802.7 558.2,800.8 558.9,798.9 559.5,797 560.1,795.1 560.7,793.2 561.3,791.3 561.9,789.4 562.5,787.5 563.2,785.6 563.8,783.7 564.5,781.8 565.1,779.9 565.8,778.1 566.5,776.2 567.2,774.3 568,772.5 568.7,770.6 569.5,768.8 570.3,766.9 571.1,765.1 572,763.3 572.9,761.5 573.8,759.7 574.8,758 575.9,756.3 577,754.7 578.2,753.1 579.6,751.6 581,750.2 582.6,749.1 584.3,748.1 586.1,747.6 588,747.6 589.8,748 591.5,749 593,750.2 594.3,751.7 595.5,753.3 596.5,755 597.4,756.8 598.2,758.6 599,760.4 599.8,762.3 600.5,764.2 601.1,766.1 601.6,768 602.1,769.9 602.6,771.9 603,773.8 603.5,775.8 604,777.7 604.4,779.7 604.9,781.6 605.4,783.6 605.8,785.5 606.3,787.5 606.7,789.4 607.1,791.4 607.5,793.3 607.8,795.3 608.2,797.3 608.5,799.3 608.8,801.2 609.1,803.2 609.4,805.2 609.7,807.2 610,809.1 610.3,811.1 610.7,813.1 611,815.1 611.4,817 611.7,819 612.1,821 612.4,822.9 612.8,824.9 613.1,826.9 613.5,828.9 613.8,830.8 614.2,832.8 614.5,834.8 614.9,836.7 615.2,838.7 615.5,840.7 615.8,842.7 616.1,844.6 616.4,846.6 616.7,848.6 617,850.6 617.3,852.6 617.5,854.5 617.8,856.5 618,858.5 618.3,860.5 618.5,862.5 618.7,864.5 619,866.5 619.2,868.5 619.4,870.4 619.6,872.4 619.9,874.4 620.1,876.4 620.3,878.4 620.5,880.4 620.7,882.4 621,884.4 621.2,886.4 621.4,888.3 621.7,890.3 621.9,892.8 622.2,894.8 622.4,896.8 622.7,898.8 622.9,900.8 623.2,902.7 623.4,904.7 623.7,906.7 624,908.7 624.2,910.7 624.5,912.7 624.8,914.6 625,916.6 625.3,918.6 625.5,920.6 625.8,922.6 626,924.6 626.3,926.6 626.5,928.5 626.7,930.5 627,932.5 627.2,934.5 627.4,936.5 627.6,938.5 627.7,940.5 627.9,942.5 628.1,944.5 628.3,946.5 628.4,948.5 628.6,950.5 628.7,952.4 628.9,954.4 629,956.4 629.2,958.4 629.3,960.4 629.5,962.4 629.6,964.4 629.8,966.4 629.9,968.4 630.1,970.4 630.3,972.4 630.4,974.4 630.6,976.4 630.8,978.4 631,980.4 631.2,982.4 631.4,984.4 631.6,986.3 631.8,988.3 632,990.3 632.2,992.3 632.4,994.3 632.6,996.3 632.8,998.3 633,1000.3 633.2,1002.3 633.4,1004.3 633.6,1006.3 633.8,1008.2 634,1010.2 634.2,1012.2 634.4,1014.2 634.6,1016.2 634.9,1018.2 635.1,1020.2 635.3,1022.2 635.5,1024.2 635.7,1026.2 635.9,1028.1 636.1,1030.1 636.3,1032.1 636.5,1034.1 636.8,1036.1 637,1038.1 637.2,1040.1 637.5,1042.1 637.7,1044 638,1046 638.3,1048 638.5,1050 638.8,1052 639.1,1054 639.4,1055.9 639.7,1057.9 640,1059.9 640.3,1061.9 640.6,1063.8 640.9,1065.8 641.2,1067.8 641.5,1069.8 641.8,1071.8 642.2,1073.7 642.5,1075.7 642.8,1077.7 643.1,1079.7 643.5,1081.6 643.8,1083.6 644.2,1085.6 644.5,1087.5 644.8,1089.5 645.2,1091.5 645.6,1093.5 645.9,1095.4 646.3,1097.4 646.7,1099.4 647,1101.3 647.4,1103.3 647.8,1105.2 648.2,1107.2 648.6,1109.2 649,1111.1 649.4,1113.1 649.8,1115 650.3,1117 650.7,1119 651.1,1120.9 651.5,1122.9 651.9,1124.8 652.4,1126.8 652.8,1128.7 653.2,1130.7 653.7,1132.6 654.2,1134.6 654.7,1136.5 655.2,1138.5 655.7,1140.4 656.2,1142.3 656.8,1144.2 657.4,1146.1 658,1148 658.7,1149.9 659.4,1151.8 660.2,1153.6 661,1155.5 661.8,1157.3 662.7,1159.1 663.7,1160.8 664.6,1162.6 665.7,1164.3 666.8,1165.9 668.1,1167.5 669.4,1169 670.9,1170.3 672.4,1171.6 674,1172.7 675.8,1173.7 677.6,1174.6 679.4,1175.4 681.3,1176.1 683.1,1176.8 685.1,1177.4 687,1177.9 688.9,1178.4 690.9,1178.9 692.8,1179.2 694.8,1179.5 696.8,1179.8 698.8,1179.9 700.8,1180 702.8,1180 704.8,1179.8 706.7,1179.6 708.7,1179.3 710.7,1178.9 712.6,1178.4 714.6,1177.9 716.5,1177.4 718.4,1176.8 720.3,1176.2 722.2,1175.5 724.1,1174.9 726,1174.2 727.8,1173.5 729.7,1172.8 731.5,1172 733.4,1171.1 735.2,1170.3 737,1169.4 738.8,1168.5 740.5,1167.6 742.3,1166.7 744.2,1165.9 746.4,1164.9 748.3,1164.2 750.2,1163.5 752.1,1162.9 754,1162.4 756,1161.9 757.9,1161.6 759.9,1161.3 761.9,1161.1 763.9,1161.1 765.9,1161.2 767.9,1161.4 769.8,1161.7 771.8,1162.1 773.7,1162.6 775.6,1163.3 777.4,1164.1 779.2,1165.1 780.8,1166.2 782.4,1167.4 783.9,1168.7 785.4,1170.1 786.8,1171.5 788.2,1172.9 789.6,1174.3 791,1175.7 792.5,1177.1 794,1178.4 795.5,1179.7 797.1,1180.9 798.8,1182 800.4,1183.1 802.1,1184.2 803.8,1185.2 805.6,1186.3 807.3,1187.2 809.1,1188.2 810.9,1189 812.7,1189.9 814.5,1190.6 816.4,1191.3 818.3,1192 820.2,1192.5 822.2,1193 824.1,1193.5 826.1,1193.9 828,1194.2 830,1194.5 832,1194.7 834,1194.9 836,1195.1 838,1195.2 840,1195.3 842,1195.4 844,1195.5 846,1195.6 848,1195.6 850,1195.7 852,1195.7 854,1195.8 856,1195.8 858,1195.9 860,1195.9 862,1196 864,1196.1 866,1196.1 868,1196.2 870,1196.3 872,1196.4 874,1196.5 876,1196.5 878,1196.6 880,1196.7 882,1196.7 884,1196.8 886,1196.8 888,1196.8 890,1196.9 892,1196.9 894,1196.9 896,1197 898,1197 900,1197 902,1197.1 904,1197.1 906,1197.1 908,1197.1 910,1197.2 912,1197.2 914,1197.3 916,1197.3"/>
</g>
<text x="92.2" y="606.8" font-size="29.6" fill="#000" text-anchor="end">0</text>
<text x="92.2" y="1212.6" font-size="29.6" fill="#000" text-anchor="end">0</text>
<text x="92.2" y="501.4" font-size="29.6" fill="#000" text-anchor="end">20</text>
<text x="92.2" y="1107.2" font-size="29.6" fill="#000" text-anchor="end">20</text>
<text x="92.2" y="396" font-size="29.6" fill="#000" text-anchor="end">40</text>
<text x="92.2" y="1001.8" font-size="29.6" fill="#000" text-anchor="end">40</text>
<text x="92.2" y="290.6" font-size="29.6" fill="#000" text-anchor="end">60</text>
<text x="92.2" y="896.3" font-size="29.6" fill="#000" text-anchor="end">60</text>
<text x="92.2" y="185.2" font-size="29.6" fill="#000" text-anchor="end">80</text>
<text x="92.2" y="790.9" font-size="29.6" fill="#000" text-anchor="end">80</text>
<text x="92.2" y="79.8" font-size="29.6" fill="#000" text-anchor="end">100</text>
<text x="92.2" y="685.5" font-size="29.6" fill="#000" text-anchor="end">100</text>
<text x="931.7" y="604.4" font-size="29.6" fill="#000" text-anchor="start">0.0</text>
<text x="931.7" y="546.7" font-size="29.6" fill="#000" text-anchor="start">0.2</text>
<text x="931.7" y="489" font-size="29.6" fill="#000" text-anchor="start">0.4</text>
<text x="931.7" y="431.2" font-size="29.6" fill="#000" text-anchor="start">0.6</text>
<text x="931.7" y="373.5" font-size="29.6" fill="#000" text-anchor="start">0.8</text>
<text x="931.7" y="315.8" font-size="29.6" fill="#000" text-anchor="start">1.0</text>
<text x="931.7" y="258.1" font-size="29.6" fill="#000" text-anchor="start">1.2</text>
<text x="931.7" y="200.4" font-size="29.6" fill="#000" text-anchor="start">1.4</text>
<text x="931.7" y="142.6" font-size="29.6" fill="#000" text-anchor="start">1.6</text>
<text x="931.7" y="84.9" font-size="29.6" fill="#000" text-anchor="start">1.8</text>
<text x="931.7" y="27.2" font-size="29.6" fill="#000" text-anchor="start">2.0</text>
<text x="931.7" y="1206.2" font-size="29.6" fill="#000" text-anchor="start">0.0</text>
<text x="931.7" y="1142.4" font-size="29.6" fill="#000" text-anchor="start">0.2</text>
<text x="931.7" y="1078.7" font-size="29.6" fill="#000" text-anchor="start">0.4</text>
<text x="931.7" y="1014.9" font-size="29.6" fill="#000" text-anchor="start">0.6</text>
<text x="931.7" y="951.2" font-size="29.6" fill="#000" text-anchor="start">0.8</text>
<text x="931.7" y="887.4" font-size="29.6" fill="#000" text-anchor="start">1.0</text>
<text x="931.7" y="823.6" font-size="29.6" fill="#000" text-anchor="start">1.2</text>
<text x="931.7" y="759.9" font-size="29.6" fill="#000" text-anchor="start">1.4</text>
<text x="931.7" y="696.1" font-size="29.6" fill="#000" text-anchor="start">1.6</text>
<text x="198.3" y="1269.8" font-size="29.6" fill="#000" text-anchor="middle">100</text>
<text x="377.9" y="1269.8" font-size="29.6" fill="#000" text-anchor="middle">200</text>
<text x="557.4" y="1269.8" font-size="29.6" fill="#000" text-anchor="middle">300</text>
<text x="737" y="1269.8" font-size="29.6" fill="#000" text-anchor="middle">400</text>
<text x="916.6" y="1269.8" font-size="29.6" fill="#000" text-anchor="middle">500</text>
<text x="421.4" y="1321.4" font-size="36.6">Temperature °C</text>
<text transform="translate(39.3,392.6) rotate(-90)" font-size="36">Weight %</text>
<text transform="translate(35.8,1005) rotate(-90)" font-size="36">Weight %</text>
<g transform="translate(1009,807.8) rotate(-90)" font-size="36.1"><text x="0" y="0">Derivative weight (</text><text x="299.4" y="0">%/</text><text x="342.3" y="-20.5" font-size="15">O</text><text x="354.4" y="0">C)</text></g>
<text x="565.6" y="62.8" font-size="38.5" font-weight="bold">Semi-synthetic oil</text>
<text x="663.4" y="661.3" font-size="38.5" font-weight="bold">Synthetic oil</text>
<line x1="137.9" y1="205.6" x2="207.8" y2="205.6" stroke="#000000" stroke-width="3.4"/>
<text x="214.5" y="215.8" font-size="29.6" fill="#000000">Fresh</text>
<line x1="137.9" y1="247.8" x2="207.8" y2="247.8" stroke="#ff0000" stroke-width="3.4"/>
<text x="214.5" y="258" font-size="29.6" fill="#ff0000">96 hr, 200<tspan font-size="17" dy="-16.2">O</tspan><tspan dy="16.2">C</tspan></text>
<line x1="137.9" y1="290" x2="207.8" y2="290" stroke="#0000ff" stroke-width="3.4"/>
<text x="214.5" y="300.2" font-size="29.6" fill="#0000ff">96 hr, 149<tspan font-size="17" dy="-16.2">O</tspan><tspan dy="16.2">C</tspan></text>
<line x1="137.9" y1="332.2" x2="207.8" y2="332.2" stroke="#008000" stroke-width="3.4"/>
<text x="214.5" y="342.4" font-size="29.6" fill="#008000">96 hr, 120<tspan font-size="17" dy="-16.2">O</tspan><tspan dy="16.2">C</tspan></text>
<line x1="139.2" y1="832.7" x2="209.2" y2="832.7" stroke="#000000" stroke-width="3.4"/>
<text x="215.3" y="842.9" font-size="29.6" fill="#000000">Fresh</text>
<line x1="139.2" y1="875.4" x2="209.2" y2="875.4" stroke="#ff0000" stroke-width="3.4"/>
<text x="215.3" y="885.6" font-size="29.6" fill="#ff0000">96 hr, 200<tspan font-size="17" dy="-16.2">O</tspan><tspan dy="16.2">C</tspan></text>
<line x1="139.2" y1="918" x2="209.2" y2="918" stroke="#0000ff" stroke-width="3.4"/>
<text x="215.3" y="928.2" font-size="29.6" fill="#0000ff">96 hr, 149<tspan font-size="17" dy="-16.2">O</tspan><tspan dy="16.2">C</tspan></text>
<line x1="139.2" y1="960.7" x2="209.2" y2="960.7" stroke="#008000" stroke-width="3.4"/>
<text x="215.3" y="970.9" font-size="29.6" fill="#008000">96 hr, 120<tspan font-size="17" dy="-16.2">O</tspan><tspan dy="16.2">C</tspan></text>
<text x="612.3" y="199.8" font-size="29.6" fill="#000000">T<tspan font-size="17.8" dy="11.2">max</tspan><tspan dy="-11.2"> = 272.4 °C</tspan></text>
<text x="612.3" y="246.2" font-size="29.6" fill="#ff0000">T<tspan font-size="17.8" dy="11.2">max</tspan><tspan dy="-11.2"> = 271.7 °C</tspan></text>
<text x="612.3" y="292.6" font-size="29.6" fill="#0000ff">T<tspan font-size="17.8" dy="11.2">max</tspan><tspan dy="-11.2"> = 278.8 °C</tspan></text>
<text x="612.3" y="339" font-size="29.6" fill="#008000">T<tspan font-size="17.8" dy="11.2">max</tspan><tspan dy="-11.2"> = 274.6 °C</tspan></text>
<text x="649.4" y="810.4" font-size="29.6" fill="#000000">T<tspan font-size="17.8" dy="11.2">max</tspan><tspan dy="-11.2"> = 304.7 °C</tspan></text>
<text x="649.4" y="856.8" font-size="29.6" fill="#ff0000">T<tspan font-size="17.8" dy="11.2">max</tspan><tspan dy="-11.2"> = 312.9 °C</tspan></text>
<text x="649.4" y="903.2" font-size="29.6" fill="#0000ff">T<tspan font-size="17.8" dy="11.2">max</tspan><tspan dy="-11.2"> = 311.6 °C</tspan></text>
<text x="649.4" y="949.6" font-size="29.6" fill="#008000">T<tspan font-size="17.8" dy="11.2">max</tspan><tspan dy="-11.2"> = 316.5 °C</tspan></text>
<line x1="420.2" y1="153.1" x2="305" y2="153.1" stroke="#000" stroke-width="3.6"/>
<path d="M284.5,153.1 L307.5,144.9 L307.5,161.3 Z" fill="#000" stroke="#000" stroke-width="1.5" stroke-linejoin="round"/>
<line x1="537.6" y1="399" x2="606" y2="399" stroke="#000" stroke-width="3.6"/>
<path d="M626.3,399 L604.4,390.8 L604.4,407.2 Z" fill="#000" stroke="#000" stroke-width="1.5" stroke-linejoin="round"/>
<line x1="457.5" y1="738.9" x2="353" y2="738.9" stroke="#000" stroke-width="3.6"/>
<path d="M333.8,738.9 L355.6,730.5 L355.6,747.3 Z" fill="#000" stroke="#000" stroke-width="1.5" stroke-linejoin="round"/>
<line x1="598.3" y1="989.9" x2="694" y2="989.9" stroke="#000" stroke-width="3.6"/>
<path d="M713.6,989.9 L692.8,981.8 L692.8,998 Z" fill="#000" stroke="#000" stroke-width="1.5" stroke-linejoin="round"/>
</svg></body></html>
